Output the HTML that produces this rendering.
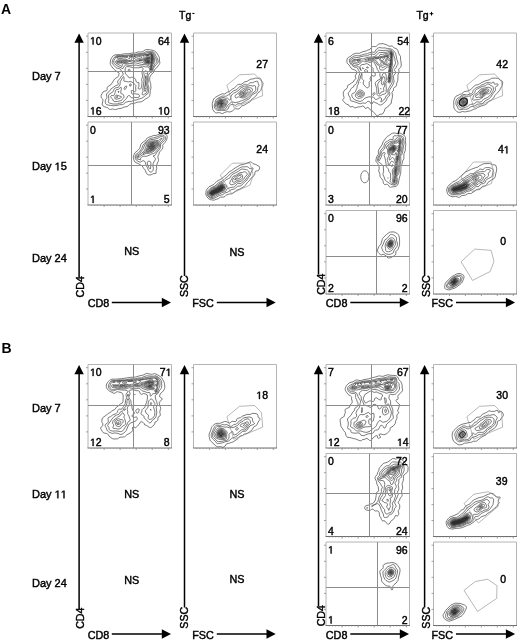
<!DOCTYPE html>
<html><head><meta charset="utf-8"><style>
html,body{margin:0;padding:0;background:#fff;}
svg{display:block;font-kerning:none;}
.w{will-change:transform;}
</style></head><body><div class="w">
<svg width="520" height="642" viewBox="0 0 520 642" font-family='"Liberation Sans", sans-serif' fill="#000">
<rect width="520" height="642" fill="#fff"/>
<text x="1.00" y="13.80" font-size="14" text-anchor="start" font-weight="bold"  >A</text>
<text x="1.50" y="352.50" font-size="14" text-anchor="start" font-weight="bold"  >B</text>
<text x="179.0" y="18.7" font-size="10.5" stroke="#000" stroke-width="0.42">Tg</text><rect x="192.4" y="12.9" width="2" height="1.1" fill="#000"/>
<text x="416.4" y="18.7" font-size="10.5" stroke="#000" stroke-width="0.42">Tg</text><path d="M429.7,13.7H433.3M431.5,11.9V15.5" stroke="#000" stroke-width="1"/>
<path d="M79.1,41.5V277.5" stroke="#000" stroke-width="1.5" fill="none"/>
<path d="M79.1,33.5L74.39999999999999,42.7L83.8,42.7Z" fill="#000"/>
<path d="M184.5,41.5V276" stroke="#000" stroke-width="1.5" fill="none"/>
<path d="M184.5,33.5L179.8,42.7L189.2,42.7Z" fill="#000"/>
<path d="M318.5,41.5V274.5" stroke="#000" stroke-width="1.5" fill="none"/>
<path d="M318.5,33.5L313.8,42.7L323.2,42.7Z" fill="#000"/>
<path d="M424.6,41.5V276" stroke="#000" stroke-width="1.5" fill="none"/>
<path d="M424.6,33.5L419.90000000000003,42.7L429.3,42.7Z" fill="#000"/>
<text x="0" y="0" font-size="10.6" text-anchor="middle" stroke="#000" stroke-width="0.42" transform="translate(84.1,286.8) rotate(-90)">CD4</text>
<text x="0" y="0" font-size="10.6" text-anchor="middle" stroke="#000" stroke-width="0.42" transform="translate(188.4,286.2) rotate(-90)">SSC</text>
<text x="0" y="0" font-size="10.6" text-anchor="middle" stroke="#000" stroke-width="0.42" transform="translate(325.1,284.2) rotate(-90)">CD4</text>
<text x="0" y="0" font-size="10.6" text-anchor="middle" stroke="#000" stroke-width="0.42" transform="translate(429.9,286.2) rotate(-90)">SSC</text>
<text x="87.70" y="307.30" font-size="10.8" text-anchor="start" font-weight="normal" stroke="#000" stroke-width="0.42" >CD8</text>
<path d="M111.8,302.5H163" stroke="#000" stroke-width="1.5" fill="none"/>
<path d="M171,302.5L161.8,297.8L161.8,307.2Z" fill="#000"/>
<text x="192.20" y="307.30" font-size="10.8" text-anchor="start" font-weight="normal" stroke="#000" stroke-width="0.42" >FSC</text>
<path d="M216.8,302.5H267.7" stroke="#000" stroke-width="1.5" fill="none"/>
<path d="M275.7,302.5L266.5,297.8L266.5,307.2Z" fill="#000"/>
<text x="325.80" y="307.30" font-size="10.8" text-anchor="start" font-weight="normal" stroke="#000" stroke-width="0.42" >CD8</text>
<path d="M350.3,302.5H401" stroke="#000" stroke-width="1.5" fill="none"/>
<path d="M409,302.5L399.8,297.8L399.8,307.2Z" fill="#000"/>
<text x="431.40" y="307.30" font-size="10.8" text-anchor="start" font-weight="normal" stroke="#000" stroke-width="0.42" >FSC</text>
<path d="M456,302.5H507.1" stroke="#000" stroke-width="1.5" fill="none"/>
<path d="M515.1,302.5L505.90000000000003,297.8L505.90000000000003,307.2Z" fill="#000"/>
<text x="32.00" y="80.00" font-size="11" text-anchor="start" font-weight="normal" stroke="#000" stroke-width="0.42" >Day 7</text>
<text x="32.00" y="170.30" font-size="11" stroke="#000" stroke-width="0.42">Day </text>
<use href="#one" transform="translate(54.62,170.30) scale(0.005371,-0.005371)" stroke="#000" stroke-width="78.2"/>
<text x="60.74" y="170.30" font-size="11" stroke="#000" stroke-width="0.42">5</text>
<text x="32.00" y="262.00" font-size="11" text-anchor="start" font-weight="normal" stroke="#000" stroke-width="0.42" >Day 24</text>
<path d="M88,116.5V33H171.5V116.5" fill="none" stroke="#b4b4b4" stroke-width="1"/>
<path d="M87.5,116.5H172.0" fill="none" stroke="#6e6e6e" stroke-width="1"/>
<path d="M86,100.4h2 M104.1,116.5v2 M86,84.4h2 M120.1,116.5v2 M86,68.3h2 M136.2,116.5v2 M86,52.3h2 M152.2,116.5v2 M86,36.2h2 M168.3,116.5v2 M91.2,116.5v1 M94.4,116.5v1 M97.6,116.5v1 M100.8,116.5v1 M104.1,116.5v1 M107.3,116.5v1 M110.5,116.5v1 M113.7,116.5v1 M116.9,116.5v1 M120.1,116.5v1 M123.3,116.5v1 M126.5,116.5v1 M129.8,116.5v1 M133.0,116.5v1 M136.2,116.5v1 M139.4,116.5v1 M142.6,116.5v1 M145.8,116.5v1 M149.0,116.5v1 M152.2,116.5v1 M155.4,116.5v1 M158.7,116.5v1 M161.9,116.5v1 M165.1,116.5v1 M168.3,116.5v1" stroke="#8a8a8a" stroke-width="0.8" fill="none"/>
<path d="M115.8,109.5 114.5,109.6 112.5,108.9 110.5,109.5 109.8,109.4 109.2,109.2 107.5,107.6 105.0,107.0 103.0,105.9 102.3,105.0 102.2,104.0 102.9,100.8 103.0,99.8 102.8,99.2 101.5,98.0 101.1,96.5 101.2,95.2 103.0,92.0 104.0,91.3 106.0,90.9 106.9,90.5 107.2,89.8 107.0,88.0 107.5,87.0 108.3,86.2 110.9,84.8 114.5,79.1 115.2,78.5 117.7,77.2 118.2,76.5 118.6,75.8 119.1,73.5 118.9,72.8 117.0,71.7 113.7,69.0 110.9,65.5 110.4,64.5 110.2,62.8 110.6,60.0 111.1,58.8 112.2,57.0 113.5,55.5 115.2,54.9 117.8,54.6 120.5,54.6 123.8,53.9 129.0,53.7 132.0,53.0 134.8,53.1 138.2,51.9 141.0,52.0 142.0,51.9 143.2,51.4 145.2,49.9 146.5,49.5 149.5,49.7 153.5,50.5 154.8,51.1 155.9,52.0 157.2,53.5 159.2,57.2 159.4,58.0 159.4,60.0 159.9,62.8 159.6,63.8 159.0,64.7 156.5,68.0 154.7,69.5 153.7,72.2 153.0,73.1 151.2,74.5 149.9,77.0 149.7,78.2 149.7,79.8 150.0,81.6 150.6,83.5 151.0,87.8 150.2,90.8 150.1,93.5 149.6,95.8 149.2,96.6 148.5,97.3 145.2,99.1 143.0,100.9 141.5,101.7 140.5,101.9 138.2,102.0 133.8,103.4 130.9,103.8 129.9,104.2 128.0,106.1 127.2,106.5 124.0,107.1 121.5,108.3 118.8,108.6 115.8,109.5ZM129.5,71.0 129.9,70.5 129.9,69.8 129.5,69.2 128.8,69.1 128.2,69.8 128.2,70.6 128.8,71.1 129.5,71.0Z" fill="none" stroke="#2a2a2a" stroke-width="0.62" stroke-linejoin="round"/>
<path d="M113.8,105.8 110.2,105.4 107.2,104.8 106.4,104.5 105.9,104.0 105.3,102.5 105.2,101.0 105.5,99.9 106.6,98.2 106.9,97.5 106.9,96.8 106.5,95.0 106.6,94.0 107.2,93.1 109.2,91.5 111.0,88.9 115.8,85.6 117.7,85.0 118.2,84.6 118.4,83.8 117.5,82.2 117.8,81.0 119.9,78.5 121.0,76.5 122.8,75.2 123.2,74.2 122.9,73.0 121.5,71.2 120.5,69.3 119.8,68.8 116.8,68.0 115.8,67.5 112.5,63.8 112.2,62.5 112.6,60.2 113.1,59.2 114.7,57.0 115.5,56.2 116.8,55.7 120.8,55.7 125.8,55.2 128.8,55.1 132.0,54.4 135.0,54.5 138.2,53.6 141.8,53.5 144.2,52.8 146.2,51.6 147.2,51.2 148.2,51.3 150.5,51.7 152.8,51.7 153.9,52.2 154.7,53.2 155.8,55.9 157.1,58.0 158.1,60.8 158.3,62.0 157.7,63.2 155.6,65.0 153.5,68.3 153.1,69.2 152.9,70.8 152.6,71.5 151.8,72.1 150.2,72.6 149.8,72.9 149.0,74.0 148.3,75.5 148.1,76.8 148.3,81.0 147.7,84.0 148.0,85.0 148.8,87.0 148.9,88.0 148.5,90.5 148.4,92.5 148.0,93.5 145.9,95.0 144.2,96.7 141.5,98.3 139.0,98.9 136.5,100.0 134.0,100.2 131.5,101.4 129.0,101.3 126.0,102.2 125.2,102.6 123.5,104.2 122.5,104.6 119.8,104.7 117.2,105.3 113.8,105.8ZM140.3,89.0 141.0,88.3 141.8,86.0 141.8,83.8 142.1,81.8 141.5,79.5 142.5,77.0 142.6,76.2 141.9,72.0 142.1,71.2 143.0,69.5 143.1,68.8 142.9,68.0 142.3,67.5 141.8,67.4 138.2,67.8 133.2,67.8 130.0,66.8 127.2,66.5 126.3,66.8 125.5,67.8 125.1,69.0 125.3,71.2 125.3,73.0 125.5,73.8 127.7,76.0 128.5,77.3 129.0,77.6 130.2,77.9 131.5,77.2 132.2,77.1 134.0,77.8 135.0,78.5 135.5,79.2 136.0,81.2 136.5,82.1 137.5,82.7 138.8,82.5 139.0,82.7 138.9,84.0 139.0,86.0 138.2,87.8 138.1,88.2 138.4,88.8 138.9,89.0 140.3,89.0Z" fill="none" stroke="#2a2a2a" stroke-width="0.62" stroke-linejoin="round"/>
<path d="M151.5,71.3 150.5,71.4 149.9,71.0 149.6,70.5 149.6,69.2 149.4,68.2 148.8,67.5 148.0,67.0 147.0,66.8 145.2,66.9 142.8,66.1 139.8,65.9 136.2,65.1 129.8,65.4 126.8,65.0 125.2,65.2 124.5,65.8 122.5,68.9 121.7,68.0 118.0,66.4 114.5,63.9 114.0,63.2 113.7,62.5 113.7,61.0 114.2,60.0 115.2,58.5 115.8,57.0 116.8,56.4 128.8,55.9 132.0,55.2 134.8,55.2 137.8,54.6 141.0,54.5 144.9,53.5 147.5,52.5 152.5,52.6 153.3,53.0 153.8,53.8 154.4,56.0 156.0,58.8 156.6,60.5 156.8,61.5 156.5,62.2 155.0,63.7 154.1,65.0 152.6,68.5 152.1,70.8 151.5,71.3ZM129.5,58.8 129.5,58.2 129.0,58.1 128.7,58.2 128.8,58.8 129.2,58.9 129.5,58.8ZM122.8,69.8 122.8,69.8ZM143.5,94.8 143.0,94.9 142.5,94.8 142.1,94.0 142.2,93.2 143.1,91.5 142.7,89.0 143.4,86.0 143.5,83.8 143.9,81.5 143.8,79.0 144.3,75.8 143.8,72.5 144.0,71.9 144.5,71.3 145.2,70.9 145.8,70.9 147.0,71.5 147.7,72.5 147.1,75.8 147.3,80.5 146.6,84.0 146.7,85.0 147.5,87.0 147.6,88.5 146.7,92.8 143.5,94.8ZM117.2,104.0 113.0,104.0 109.8,103.2 108.5,102.5 108.2,101.8 108.8,100.0 108.5,95.2 109.0,94.4 113.0,91.7 113.5,90.8 114.1,89.0 114.8,88.3 115.8,87.8 118.0,87.5 119.0,86.6 120.0,84.8 120.2,82.0 120.4,81.2 121.3,80.0 122.2,77.9 123.8,76.6 124.1,78.2 123.8,80.8 124.1,81.2 126.2,81.4 128.2,82.0 130.0,81.5 131.2,81.7 133.5,83.0 135.2,84.6 135.9,85.5 136.0,86.0 135.6,87.5 135.9,90.0 135.7,91.2 135.2,91.7 134.8,91.8 132.2,90.5 131.5,90.5 131.2,90.9 131.3,91.8 131.5,93.0 131.9,93.8 132.8,94.2 135.0,93.7 136.8,94.1 138.5,94.2 139.4,95.2 139.6,96.2 139.0,97.0 137.2,97.6 136.0,97.6 134.0,97.2 132.2,97.9 131.8,97.9 131.0,97.5 129.8,95.8 129.2,95.5 128.5,95.6 127.6,96.2 126.5,98.5 124.5,100.2 122.8,102.4 122.0,102.8 119.8,103.1 117.2,104.0ZM125.4,89.2 125.8,88.8 126.7,86.5 126.5,86.0 126.0,86.0 125.2,86.5 124.2,88.0 124.0,88.8 124.2,89.3 124.8,89.5 125.4,89.2Z" fill="none" stroke="#2a2a2a" stroke-width="0.62" stroke-linejoin="round"/>
<path d="M151.2,70.5 150.8,70.5 150.5,70.2 150.3,68.0 149.5,66.5 148.2,65.6 146.2,64.8 141.0,64.3 135.5,62.8 132.8,63.4 127.2,63.7 123.2,63.7 122.6,64.0 122.2,64.5 122.4,65.8 122.0,66.5 116.2,63.4 115.4,62.5 115.3,61.5 115.8,60.9 116.5,60.4 119.2,59.3 121.2,59.0 123.8,59.4 126.0,59.2 128.5,60.4 129.8,60.5 131.2,59.8 131.7,59.2 131.9,58.5 131.7,58.0 131.1,57.5 129.1,56.8 132.2,55.9 135.0,56.0 137.8,55.6 140.8,55.5 146.5,54.1 150.8,53.4 152.0,53.4 152.7,53.8 153.0,54.2 153.3,56.0 154.6,58.8 154.9,60.5 154.6,61.8 152.6,65.0 151.7,68.5 151.5,70.2 151.2,70.5ZM136.7,59.2 138.5,58.5 140.9,58.0 141.5,57.5 141.7,56.8 141.2,56.4 140.5,56.3 135.4,57.5 134.6,58.2 134.9,59.0 135.8,59.4 136.7,59.2ZM119.0,58.3 116.8,58.1 116.5,57.5 117.0,57.0 126.0,56.6 127.7,56.8 128.0,57.0 125.5,57.8 123.8,57.8 121.8,58.2 119.0,58.3ZM146.0,73.6 146.0,72.9 146.0,73.6ZM145.0,91.5 144.3,89.8 144.2,88.8 145.2,84.2 145.2,79.5 145.8,75.8 146.0,76.6 146.2,79.8 145.7,82.8 145.5,84.5 146.1,87.2 146.2,88.5 145.9,89.8 145.0,91.5ZM130.5,86.1 129.8,86.0 129.6,84.8 129.8,84.1 130.5,83.9 131.0,84.1 131.3,84.8 131.0,85.8 130.5,86.1ZM117.5,101.5 114.5,101.6 113.8,101.4 113.4,101.0 112.6,99.0 110.9,97.5 110.7,97.0 110.7,96.2 111.0,95.8 111.5,95.4 112.2,95.4 113.2,95.7 113.9,95.5 114.4,94.5 115.1,92.5 115.5,90.8 115.9,90.0 116.5,89.6 118.2,89.4 119.0,89.1 119.6,88.5 120.5,87.1 120.8,87.1 121.2,87.6 121.4,88.5 120.8,91.5 120.8,93.2 121.2,93.7 122.8,94.1 123.2,94.5 123.9,96.0 124.0,97.2 121.4,100.5 117.5,101.5Z" fill="none" stroke="#2a2a2a" stroke-width="0.62" stroke-linejoin="round"/>
<path d="M151.0,70.1 150.5,66.8 150.0,65.5 149.2,64.6 146.8,63.8 143.7,63.2 141.8,62.1 140.0,62.0 138.0,61.7 136.3,61.0 136.2,60.8 139.0,59.7 141.2,59.2 142.0,58.7 143.5,57.2 144.0,56.5 143.5,56.0 142.6,55.8 142.7,55.5 151.0,53.9 152.2,54.1 152.5,54.5 152.7,56.2 153.9,59.0 154.0,60.2 153.6,61.8 152.0,64.6 151.0,70.1ZM137.2,56.3 136.9,56.2 137.2,56.3ZM133.8,57.0 132.5,57.2 131.0,56.8 132.5,56.3 135.0,56.4 135.4,56.5 133.8,57.0ZM117.5,57.5 117.2,57.5 117.5,57.5ZM122.0,63.0 120.8,63.2 118.5,63.2 117.0,62.8 116.5,62.4 116.4,61.8 116.8,61.4 120.5,60.3 121.5,60.3 123.8,60.6 126.2,60.5 129.2,61.2 133.2,60.3 135.6,61.0 133.0,62.1 132.0,62.1 129.5,61.5 126.8,62.7 123.8,62.7 122.0,63.0ZM145.2,88.7 145.2,88.0 145.2,88.7ZM118.8,92.3 118.0,92.1 117.8,91.8 118.1,91.5 119.0,91.5 119.1,92.0 118.8,92.3ZM116.5,99.3 115.2,98.9 114.7,98.0 115.1,96.5 116.0,95.2 116.8,95.2 121.2,96.5 121.5,96.7 121.4,97.2 120.6,98.0 116.5,99.3Z" fill="none" stroke="#2a2a2a" stroke-width="0.62" stroke-linejoin="round"/>
<path d="M151.0,67.1 150.5,64.5 149.9,63.8 145.0,62.6 144.2,62.2 143.0,60.9 142.2,60.5 138.7,60.5 142.0,59.8 146.8,56.1 147.5,55.8 149.2,55.7 149.4,55.5 149.0,55.2 147.2,55.4 145.5,55.2 148.8,54.9 151.2,54.2 152.0,54.3 152.2,54.5 152.2,56.0 153.2,58.5 153.3,60.0 153.0,61.5 151.7,64.0 151.2,66.8 151.0,67.1ZM122.0,62.3 120.5,62.4 117.2,62.0 120.8,61.1 123.8,61.3 126.2,61.1 127.4,61.5 126.2,62.0 123.8,62.0 122.0,62.3ZM117.5,97.5 116.5,97.7 116.2,97.5 116.2,97.0 116.8,96.5 117.6,96.5 118.0,97.0 117.5,97.5Z" fill="none" stroke="#2a2a2a" stroke-width="0.62" stroke-linejoin="round"/>
<path d="M151.2,64.5 150.7,63.5 150.2,63.1 147.5,62.8 145.8,62.3 144.8,61.7 143.1,60.0 144.0,59.1 147.0,57.0 147.8,56.8 149.5,56.8 150.2,56.5 150.8,55.8 150.8,54.8 151.5,54.5 151.8,54.8 151.8,56.0 152.6,58.2 152.8,59.5 152.6,61.0 151.2,64.5ZM121.8,61.8 120.7,61.8 121.8,61.8Z" fill="none" stroke="#2a2a2a" stroke-width="0.62" stroke-linejoin="round"/>
<path d="M151.2,63.5 150.8,62.7 150.2,62.4 148.0,62.5 146.0,61.9 145.1,61.2 144.0,59.8 147.2,57.6 148.0,57.4 149.5,57.5 150.3,57.2 151.3,56.0 151.5,55.0 151.6,56.0 152.3,58.5 152.4,59.5 152.1,61.0 151.2,63.5Z" fill="none" stroke="#2a2a2a" stroke-width="0.62" stroke-linejoin="round"/>
<path d="M151.2,62.7 150.9,62.0 150.5,61.7 148.5,62.2 146.8,61.9 145.6,61.0 144.8,59.8 147.5,58.1 150.2,57.9 151.5,56.8 152.1,59.2 151.2,62.7Z" fill="none" stroke="#2a2a2a" stroke-width="0.62" stroke-linejoin="round"/>
<path d="M148.8,61.8 147.5,61.8 146.5,61.3 145.9,60.5 145.6,59.8 145.7,59.5 147.8,58.5 149.8,58.5 150.5,58.4 151.5,57.5 151.8,59.2 151.2,61.7 151.0,61.1 150.5,60.7 148.8,61.8Z" fill="none" stroke="#2a2a2a" stroke-width="0.62" stroke-linejoin="round"/>
<path d="M151.2,60.4 150.8,59.2 151.2,58.3 151.5,58.4 151.6,59.0 151.2,60.4ZM148.5,61.5 147.5,61.5 146.8,61.1 146.4,60.5 146.3,59.5 148.0,58.8 150.2,59.0 149.4,61.0 148.5,61.5Z" fill="none" stroke="#2a2a2a" stroke-width="0.62" stroke-linejoin="round"/>
<path d="M148.2,61.3 147.5,61.2 146.9,60.5 147.0,59.5 147.5,59.2 148.5,59.1 149.0,59.4 149.2,60.2 149.1,60.8 148.2,61.3Z" fill="none" stroke="#2a2a2a" stroke-width="0.62" stroke-linejoin="round"/>
<path d="M148.2,61.0 147.7,61.0 147.3,60.5 147.4,60.0 147.8,59.7 148.2,59.6 148.7,60.2 148.6,60.8 148.2,61.0Z" fill="none" stroke="#2a2a2a" stroke-width="0.62" stroke-linejoin="round"/>
<path d="M148.0,60.8 147.6,60.5 148.0,60.1 148.4,60.5 148.0,60.8Z" fill="none" stroke="#2a2a2a" stroke-width="0.62" stroke-linejoin="round"/>
<path d="M133.5,33V116.5M88,71.5H171.5" stroke="#8c8c8c" stroke-width="1" fill="none"/>
<use href="#one" transform="translate(90.00,44.50) scale(0.005127,-0.005127)" stroke="#000" stroke-width="81.9"/>
<text x="95.84" y="44.50" font-size="10.5" stroke="#000" stroke-width="0.42">0</text>
<text x="169.70" y="44.50" font-size="10.5" text-anchor="end" font-weight="normal" stroke="#000" stroke-width="0.42" >64</text>
<use href="#one" transform="translate(90.00,114.50) scale(0.005127,-0.005127)" stroke="#000" stroke-width="81.9"/>
<text x="95.84" y="114.50" font-size="10.5" stroke="#000" stroke-width="0.42">6</text>
<use href="#one" transform="translate(158.02,114.50) scale(0.005127,-0.005127)" stroke="#000" stroke-width="81.9"/>
<text x="163.86" y="114.50" font-size="10.5" stroke="#000" stroke-width="0.42">0</text>
<path d="M193.5,116.5V33H276.5V116.5" fill="none" stroke="#b4b4b4" stroke-width="1"/>
<path d="M193.0,116.5H277.0" fill="none" stroke="#6e6e6e" stroke-width="1"/>
<path d="M191.5,100.4h2 M209.5,116.5v2 M191.5,84.4h2 M225.4,116.5v2 M191.5,68.3h2 M241.4,116.5v2 M191.5,52.3h2 M257.3,116.5v2 M191.5,36.2h2 M273.3,116.5v2 M196.7,116.5v1 M199.9,116.5v1 M203.1,116.5v1 M206.3,116.5v1 M209.5,116.5v1 M212.7,116.5v1 M215.8,116.5v1 M219.0,116.5v1 M222.2,116.5v1 M225.4,116.5v1 M228.6,116.5v1 M231.8,116.5v1 M235.0,116.5v1 M238.2,116.5v1 M241.4,116.5v1 M244.6,116.5v1 M247.8,116.5v1 M251.0,116.5v1 M254.2,116.5v1 M257.3,116.5v1 M260.5,116.5v1 M263.7,116.5v1 M266.9,116.5v1 M270.1,116.5v1 M273.3,116.5v1" stroke="#8a8a8a" stroke-width="0.8" fill="none"/>
<path d="M222.5,113.6 221.8,113.5 219.5,112.6 216.8,112.9 215.5,112.7 214.5,112.0 212.9,109.8 212.6,108.8 212.2,103.8 213.6,99.2 214.5,98.0 215.8,97.1 221.2,94.1 222.5,93.8 224.2,94.0 225.0,93.8 227.0,92.3 229.8,91.2 232.1,89.2 234.3,88.0 237.8,84.6 238.8,84.3 241.0,84.3 241.8,84.1 244.5,81.9 247.0,81.4 250.2,79.3 253.0,78.9 255.5,78.1 257.2,78.3 259.5,78.1 260.5,78.6 261.6,81.0 262.7,82.5 263.0,83.5 262.7,85.5 261.4,88.2 261.0,90.2 260.1,91.2 257.5,93.3 255.8,96.1 253.2,98.2 251.5,99.4 250.5,101.2 249.8,102.0 247.0,103.4 244.8,104.9 241.8,106.0 240.9,106.8 239.8,108.3 239.0,108.8 238.0,109.0 235.2,108.7 234.5,109.1 232.8,110.7 231.0,111.7 229.8,112.0 227.8,111.7 226.5,111.8 224.5,112.5 222.5,113.6Z" fill="none" stroke="#2a2a2a" stroke-width="0.62" stroke-linejoin="round"/>
<path d="M224.8,110.5 222.0,110.2 219.8,110.5 217.8,110.4 216.2,109.7 214.8,108.4 214.2,107.0 214.3,105.0 215.1,102.8 215.5,100.5 216.5,99.1 217.5,98.5 221.8,96.2 223.0,96.0 225.2,96.3 226.4,96.0 230.0,93.9 233.2,91.0 237.0,89.5 238.8,87.3 239.4,86.8 242.2,85.7 244.5,84.3 245.2,84.2 246.8,84.9 247.5,84.9 248.2,84.5 249.5,83.1 250.2,82.7 252.5,82.7 254.5,81.8 256.2,81.3 257.2,81.2 257.8,81.5 258.3,83.8 259.1,85.2 257.8,87.5 257.7,90.0 257.5,90.8 256.6,92.0 255.5,93.1 252.8,94.4 252.0,95.0 248.8,99.2 246.5,100.2 244.5,101.6 241.2,103.5 240.2,103.7 237.8,103.8 237.0,104.2 236.2,105.0 235.8,105.3 234.8,105.2 232.2,104.4 230.8,104.8 229.2,106.0 228.8,106.8 228.4,108.2 227.9,109.0 226.4,110.0 224.8,110.5Z" fill="none" stroke="#2a2a2a" stroke-width="0.62" stroke-linejoin="round"/>
<path d="M224.2,109.3 222.0,109.1 219.8,109.4 218.5,109.3 217.0,108.7 215.8,107.5 215.4,106.2 215.6,104.5 216.6,101.2 217.2,100.2 218.0,99.4 219.0,98.8 221.8,97.7 223.0,97.4 225.0,98.1 227.5,98.2 229.2,99.8 230.0,100.0 230.5,99.7 230.8,99.0 230.9,97.0 231.1,96.0 232.4,94.2 233.5,93.3 236.5,91.8 238.2,90.7 239.1,90.0 240.2,88.4 241.0,87.8 244.5,86.2 245.2,86.1 247.8,86.3 250.2,85.4 252.5,86.1 254.5,85.5 255.2,85.9 255.6,87.0 255.8,89.2 255.7,90.2 255.4,91.0 254.5,91.9 251.8,93.6 248.0,97.8 244.0,99.9 241.2,100.8 239.0,101.9 235.2,102.6 232.5,102.0 231.5,102.1 227.8,105.2 225.8,108.5 225.0,109.1 224.2,109.3Z" fill="none" stroke="#2a2a2a" stroke-width="0.62" stroke-linejoin="round"/>
<path d="M243.5,98.0 242.2,97.9 238.5,96.8 237.8,97.0 236.8,97.8 236.0,98.0 235.5,97.6 235.1,96.8 235.0,96.0 235.3,95.2 235.8,94.8 237.5,93.9 239.8,91.5 242.4,89.2 244.0,88.4 245.2,87.9 246.5,87.8 250.5,87.8 251.8,88.3 252.4,89.2 252.5,90.2 252.0,91.2 250.8,92.8 246.8,96.5 244.8,97.6 243.5,98.0ZM220.0,108.3 218.8,108.2 217.8,107.8 217.2,107.2 216.7,106.2 216.7,105.0 217.2,102.5 218.0,100.7 219.5,99.6 222.2,99.0 226.2,99.7 227.0,100.1 227.7,101.0 227.8,102.2 225.0,107.2 224.5,107.6 223.8,107.9 221.8,107.9 220.0,108.3Z" fill="none" stroke="#2a2a2a" stroke-width="0.62" stroke-linejoin="round"/>
<path d="M243.2,96.8 242.2,96.8 241.0,96.4 240.0,95.9 239.2,95.2 239.0,94.8 239.1,94.0 240.0,92.5 241.0,91.8 242.8,91.1 244.3,89.8 245.8,89.1 247.2,89.0 250.2,89.8 250.5,90.2 250.5,90.8 249.7,92.2 247.8,93.6 246.0,95.6 244.5,96.4 243.2,96.8ZM219.5,107.5 218.8,107.4 218.1,107.0 217.7,106.5 217.5,105.8 217.8,102.5 218.2,101.5 218.8,100.9 220.0,100.1 222.0,99.8 224.8,100.4 226.1,101.0 226.4,101.5 226.4,102.2 225.2,105.2 224.5,106.3 223.5,106.9 219.5,107.5Z" fill="none" stroke="#2a2a2a" stroke-width="0.62" stroke-linejoin="round"/>
<path d="M242.8,96.0 241.3,95.8 240.4,95.0 240.2,94.2 240.6,93.2 241.5,92.6 243.8,91.9 245.8,90.2 246.8,90.1 247.7,90.5 248.0,91.0 247.9,91.8 245.9,94.2 244.2,95.5 242.8,96.0ZM220.0,106.8 218.8,106.5 218.3,106.0 218.1,105.5 218.2,103.0 218.8,101.5 220.0,100.7 221.5,100.4 223.2,100.7 224.8,101.4 225.1,101.8 225.1,102.5 224.7,104.5 224.2,105.5 223.2,106.1 220.0,106.8Z" fill="none" stroke="#2a2a2a" stroke-width="0.62" stroke-linejoin="round"/>
<path d="M242.8,95.3 242.0,95.2 241.5,94.9 241.3,94.2 241.5,93.7 245.8,91.7 246.2,91.8 246.0,92.5 244.9,94.0 243.8,94.9 242.8,95.3ZM220.8,106.0 219.5,106.1 218.9,105.5 218.6,103.5 219.0,102.0 219.8,101.2 221.0,100.9 222.2,101.0 223.5,101.5 224.0,102.0 224.2,102.5 224.1,103.8 223.8,104.8 223.0,105.5 220.8,106.0Z" fill="none" stroke="#2a2a2a" stroke-width="0.62" stroke-linejoin="round"/>
<path d="M243.2,94.3 242.8,94.3 242.8,94.0 243.8,93.4 244.3,93.2 244.1,93.8 243.2,94.3ZM220.5,105.5 219.8,105.4 219.3,104.8 219.1,103.5 219.3,102.5 219.8,101.8 220.5,101.4 221.5,101.3 222.5,101.6 223.1,102.0 223.4,102.5 223.5,103.5 223.3,104.2 222.5,105.0 220.5,105.5Z" fill="none" stroke="#2a2a2a" stroke-width="0.62" stroke-linejoin="round"/>
<path d="M221.0,105.0 220.2,104.9 219.8,104.5 219.5,103.8 219.6,103.0 220.2,102.0 221.0,101.7 221.8,101.8 222.3,102.0 222.8,102.5 222.9,103.8 222.2,104.6 221.0,105.0Z" fill="none" stroke="#2a2a2a" stroke-width="0.62" stroke-linejoin="round"/>
<path d="M221.5,104.6 220.5,104.5 220.0,103.8 220.1,102.8 221.0,102.1 222.0,102.3 222.5,103.0 222.4,104.0 221.5,104.6Z" fill="none" stroke="#2a2a2a" stroke-width="0.62" stroke-linejoin="round"/>
<path d="M221.5,104.3 220.8,104.2 220.3,103.5 220.6,102.8 221.2,102.5 222.0,102.7 222.3,103.2 222.0,104.0 221.5,104.3Z" fill="none" stroke="#2a2a2a" stroke-width="0.62" stroke-linejoin="round"/>
<path d="M221.5,104.0 221.0,104.0 220.7,103.5 220.9,103.0 221.2,102.8 221.8,102.9 222.0,103.2 221.9,103.8 221.5,104.0Z" fill="none" stroke="#2a2a2a" stroke-width="0.62" stroke-linejoin="round"/>
<path d="M221.5,103.8 221.2,103.8 221.1,103.5 221.5,103.1 221.8,103.5 221.5,103.8Z" fill="none" stroke="#2a2a2a" stroke-width="0.62" stroke-linejoin="round"/>
<path d="M221.5,103.6 221.4,103.5 221.5,103.4 221.5,103.6Z" fill="none" stroke="#2a2a2a" stroke-width="0.62" stroke-linejoin="round"/>
<path d="M226.90,85.20 L239.60,74.80 L254.60,74.00 L261.50,81.20 L262.70,95.60 L233.80,107.70Z" fill="none" stroke="#888" stroke-width="0.6" stroke-linejoin="round"/>
<text x="268.00" y="67.50" font-size="10.5" text-anchor="end" font-weight="normal" stroke="#000" stroke-width="0.42" >27</text>
<path d="M326,116.5V33H409.5V116.5" fill="none" stroke="#b4b4b4" stroke-width="1"/>
<path d="M325.5,116.5H410.0" fill="none" stroke="#6e6e6e" stroke-width="1"/>
<path d="M324,100.4h2 M342.1,116.5v2 M324,84.4h2 M358.1,116.5v2 M324,68.3h2 M374.2,116.5v2 M324,52.3h2 M390.2,116.5v2 M324,36.2h2 M406.3,116.5v2 M329.2,116.5v1 M332.4,116.5v1 M335.6,116.5v1 M338.8,116.5v1 M342.1,116.5v1 M345.3,116.5v1 M348.5,116.5v1 M351.7,116.5v1 M354.9,116.5v1 M358.1,116.5v1 M361.3,116.5v1 M364.5,116.5v1 M367.8,116.5v1 M371.0,116.5v1 M374.2,116.5v1 M377.4,116.5v1 M380.6,116.5v1 M383.8,116.5v1 M387.0,116.5v1 M390.2,116.5v1 M393.4,116.5v1 M396.7,116.5v1 M399.9,116.5v1 M403.1,116.5v1 M406.3,116.5v1" stroke="#8a8a8a" stroke-width="0.8" fill="none"/>
<path d="M377.5,115.8 376.9,115.8 376.5,115.5 373.1,111.5 370.1,109.8 368.8,107.9 368.0,107.4 367.2,107.5 366.0,108.5 365.5,108.5 365.0,108.1 364.0,106.5 362.8,106.0 360.2,106.8 358.0,107.0 355.2,107.8 354.5,107.7 352.8,106.5 352.0,106.5 350.5,107.0 350.0,106.9 349.0,105.2 346.2,103.9 343.6,101.5 342.9,100.5 342.8,99.5 344.0,98.2 344.1,97.8 343.3,94.2 343.2,93.0 343.5,92.0 344.5,90.2 346.8,88.6 347.2,88.0 347.4,87.5 347.4,86.0 347.8,85.4 350.0,84.1 351.8,82.8 353.3,82.0 354.2,80.0 355.8,78.9 356.0,78.0 355.3,77.0 355.2,76.0 356.9,72.8 356.8,71.8 356.2,70.9 354.8,70.0 351.7,68.8 348.8,64.8 347.2,63.2 346.9,62.2 346.9,60.2 347.1,59.0 347.5,58.2 348.5,57.4 350.8,56.2 352.2,54.8 353.2,54.2 356.5,53.2 359.2,53.4 363.0,51.6 366.2,51.0 368.0,50.0 369.8,49.5 371.1,47.8 372.5,46.7 373.5,46.4 375.5,46.6 376.5,46.2 377.3,45.5 378.2,44.3 378.8,44.0 379.8,43.8 383.2,43.7 386.8,44.9 389.0,46.2 392.0,46.0 392.5,46.3 394.2,47.9 396.2,48.6 397.1,49.2 397.8,50.5 398.9,53.8 400.5,56.5 400.5,59.2 400.9,61.0 401.3,65.0 401.1,66.2 400.6,67.2 399.0,68.8 398.7,69.5 399.0,71.8 397.9,75.2 398.0,76.8 397.8,80.5 396.8,83.1 396.4,85.8 395.9,86.5 394.2,87.5 393.8,87.9 393.5,88.5 393.3,90.8 391.9,92.2 392.4,94.8 392.4,97.5 391.8,99.5 391.1,103.5 390.8,104.0 389.2,105.0 387.7,107.0 385.1,108.5 384.3,111.2 382.8,113.7 382.0,114.1 379.8,114.3 378.0,115.6 377.5,115.8Z" fill="none" stroke="#2a2a2a" stroke-width="0.62" stroke-linejoin="round"/>
<path d="M380.2,105.0 379.2,104.8 377.2,103.3 375.8,102.9 374.3,102.0 373.5,101.8 373.0,101.8 372.8,102.0 372.5,103.5 371.8,103.9 371.0,103.8 370.6,103.5 370.1,102.2 369.8,101.8 368.2,101.3 367.5,101.5 366.3,102.8 365.5,103.2 364.8,103.3 362.8,102.9 360.8,103.7 360.0,103.8 353.8,101.5 351.8,101.2 350.9,100.8 350.3,100.0 350.2,97.8 348.6,95.2 348.2,93.2 348.3,92.8 349.8,91.4 350.7,89.2 351.2,88.5 352.2,87.6 353.6,87.0 353.9,85.5 356.0,84.1 356.5,83.5 357.2,81.2 358.7,78.5 358.9,76.0 359.7,73.8 359.8,72.5 357.2,67.7 356.8,67.4 355.0,67.2 354.0,66.9 351.8,65.2 350.8,64.2 349.9,62.8 349.4,61.0 349.3,59.8 349.6,59.0 353.2,56.4 354.2,56.0 356.2,55.6 359.0,55.9 364.5,54.1 367.2,53.8 369.5,52.7 372.5,52.1 374.2,52.4 375.0,51.8 375.8,50.0 376.6,49.0 378.0,48.0 379.5,47.5 382.2,48.0 385.2,47.9 387.5,48.6 390.2,48.8 391.5,49.2 392.8,50.0 395.0,52.2 395.6,53.2 396.8,59.2 397.8,62.2 398.0,63.5 397.8,64.5 396.7,66.0 396.0,67.7 394.4,69.5 394.5,70.2 395.5,71.8 395.6,72.5 395.2,73.8 393.8,75.5 393.5,76.2 393.6,78.8 394.1,81.0 394.1,82.0 392.8,85.0 389.0,90.8 389.0,91.5 389.9,93.8 389.7,95.0 389.0,96.1 387.3,97.8 386.5,100.0 385.8,101.2 382.5,104.2 381.2,104.8 380.2,105.0ZM367.8,68.0 368.4,67.8 368.1,67.2 367.2,66.8 366.8,67.0 366.6,67.5 366.8,67.8 367.8,68.0ZM363.4,68.8 363.2,68.0 362.8,67.7 362.5,67.7 362.5,68.2 362.8,68.7 363.0,68.8 363.4,68.8ZM366.3,72.2 367.5,71.8 367.7,71.0 366.5,69.7 366.0,69.5 365.5,69.5 365.0,69.8 364.6,70.2 364.7,71.2 365.2,72.0 366.3,72.2Z" fill="none" stroke="#2a2a2a" stroke-width="0.62" stroke-linejoin="round"/>
<path d="M381.2,102.1 380.9,102.0 380.8,101.5 381.5,100.0 381.5,98.8 381.3,98.0 380.8,97.7 380.0,97.7 379.0,98.0 376.8,99.4 375.8,99.6 375.1,99.2 374.1,97.8 373.5,97.2 368.8,96.8 364.8,98.2 362.8,100.2 361.0,101.2 360.0,101.5 356.0,100.3 353.8,99.0 353.0,98.3 351.8,96.0 351.8,94.5 352.5,93.5 354.5,92.8 355.5,91.8 355.9,90.2 357.0,88.2 357.2,86.0 358.2,84.2 358.7,81.5 360.1,78.8 360.6,76.0 361.7,74.0 361.8,73.4 362.0,76.0 361.8,78.2 362.2,79.0 363.8,80.5 363.8,81.0 363.2,82.8 363.3,84.0 364.0,85.2 366.5,87.6 367.0,87.9 367.8,87.7 368.5,87.3 369.3,86.2 369.1,82.8 369.4,82.0 370.5,80.5 370.1,78.2 371.0,76.4 371.5,75.7 372.0,75.5 373.8,76.2 374.8,76.0 375.2,75.3 375.4,74.2 375.0,73.1 373.8,72.2 373.2,71.4 373.0,70.2 373.1,68.5 370.7,66.0 367.8,64.0 367.0,63.7 366.2,63.7 364.2,64.4 362.0,64.6 360.8,65.3 360.1,66.2 359.9,67.0 361.1,70.2 361.0,70.4 358.9,67.2 357.9,66.2 356.8,65.8 354.2,65.6 352.0,64.1 351.0,62.5 350.7,60.2 351.0,59.5 351.5,59.0 353.5,57.9 356.0,57.6 358.5,57.5 361.0,56.6 364.8,55.9 367.5,55.7 369.8,54.5 371.0,54.1 372.0,54.0 373.5,54.5 374.2,54.5 375.5,53.6 377.5,51.0 378.5,50.3 379.2,50.2 383.2,50.6 385.2,50.3 387.5,50.3 389.5,49.9 390.5,50.0 392.1,50.8 392.8,51.5 393.2,52.2 393.9,56.0 394.9,58.5 395.0,60.8 395.6,62.8 395.4,63.8 392.8,68.5 392.5,69.5 392.7,72.8 392.1,75.0 392.0,78.5 392.3,81.8 391.9,83.0 389.0,87.8 387.9,90.0 387.7,91.2 388.3,93.2 388.2,94.2 387.8,94.9 386.1,96.0 384.9,98.8 383.1,100.2 381.8,101.8 381.2,102.1ZM361.2,70.8 361.2,70.6 361.2,70.8ZM361.8,71.5 361.8,71.5ZM362.0,72.1 362.0,72.1ZM374.0,95.2 374.7,94.5 375.0,93.8 374.8,92.8 374.2,92.5 373.4,93.0 372.9,94.2 372.9,94.8 373.2,95.3 373.5,95.4 374.0,95.2Z" fill="none" stroke="#2a2a2a" stroke-width="0.62" stroke-linejoin="round"/>
<path d="M380.2,95.8 379.2,96.0 378.5,95.9 377.8,95.5 377.2,94.8 376.9,93.2 376.7,88.5 375.2,83.5 375.5,82.5 376.2,81.6 378.2,80.1 380.0,79.2 380.4,78.8 380.5,77.8 379.9,75.5 379.9,73.5 379.5,72.5 377.4,69.5 376.4,66.5 374.2,62.5 373.8,62.0 373.0,61.6 372.0,61.7 370.5,62.4 369.8,62.5 367.2,61.6 364.5,61.7 363.2,61.0 362.8,60.9 362.2,61.1 360.9,62.8 358.0,64.9 356.2,63.9 353.8,63.6 353.0,63.3 352.2,62.2 352.1,60.8 352.5,59.9 353.5,59.4 356.5,59.5 361.0,58.7 363.0,59.0 366.0,57.8 368.0,57.3 369.8,57.1 372.2,57.0 374.2,56.7 376.0,55.8 378.2,53.2 379.5,52.5 383.0,52.5 386.5,52.2 389.8,51.2 390.8,51.2 391.8,51.6 392.3,52.5 392.9,58.8 392.4,61.5 392.4,65.5 391.2,69.0 391.3,71.5 390.8,74.2 390.9,76.8 390.5,82.0 390.1,82.8 389.5,83.0 388.8,82.8 387.5,81.7 387.0,81.8 386.2,82.5 385.9,83.2 385.8,84.0 386.3,88.0 386.1,92.8 385.8,93.3 384.8,93.9 382.2,94.7 380.2,95.8ZM360.2,82.6 360.2,82.3 360.2,82.6ZM359.5,98.3 358.0,98.3 356.5,97.6 355.5,96.5 355.4,95.2 356.0,93.8 358.0,91.1 359.5,90.1 360.8,90.0 362.2,90.7 363.8,92.0 364.3,93.0 364.3,94.5 363.9,95.8 362.5,97.1 361.2,97.9 359.5,98.3Z" fill="none" stroke="#2a2a2a" stroke-width="0.62" stroke-linejoin="round"/>
<path d="M389.2,82.3 389.0,82.3 388.7,82.0 387.9,79.2 388.2,77.0 388.9,74.2 388.5,71.2 389.2,68.5 388.8,67.2 388.2,66.9 387.4,67.0 383.2,70.0 382.2,70.1 380.8,69.8 380.1,69.5 379.6,69.0 379.5,68.5 379.8,67.0 379.5,66.2 378.8,65.5 377.0,64.4 375.4,61.8 374.2,60.8 373.2,60.4 372.5,60.3 369.8,61.0 367.5,60.3 365.2,60.1 364.6,59.8 369.0,58.2 372.2,58.1 376.2,57.0 378.2,56.9 379.0,56.4 379.8,54.9 380.2,54.5 381.0,54.4 382.5,54.7 384.5,53.8 387.5,53.5 390.2,51.8 391.0,51.8 391.5,52.1 391.9,53.0 392.0,55.5 391.5,65.5 390.6,68.8 390.7,71.5 390.1,74.2 390.2,76.8 389.9,80.0 389.5,82.0 389.2,82.3ZM357.2,63.0 357.0,63.1 356.2,62.4 355.5,62.1 353.5,62.1 353.0,61.4 353.0,61.0 353.3,60.5 353.8,60.3 356.2,60.3 359.5,59.7 360.5,59.8 361.3,60.2 359.8,62.0 357.2,63.0ZM379.8,94.1 379.0,94.0 378.6,93.2 378.6,89.8 377.8,85.9 377.7,84.0 379.2,81.5 380.5,80.5 381.0,79.8 382.3,75.0 382.8,73.9 383.8,73.1 384.8,73.1 385.5,73.6 386.1,75.0 386.3,77.5 386.6,79.8 386.3,80.5 385.1,82.0 384.7,82.8 384.6,86.2 383.4,88.2 383.9,90.0 383.8,91.2 383.2,91.6 381.8,91.9 381.0,92.2 379.8,94.1ZM361.2,96.3 358.5,96.5 357.8,96.2 357.2,95.5 357.1,94.8 357.4,93.8 358.1,92.8 359.0,92.0 360.0,91.7 361.0,91.8 362.2,92.3 363.0,93.1 363.2,94.0 363.0,95.0 362.2,95.8 361.2,96.3Z" fill="none" stroke="#2a2a2a" stroke-width="0.62" stroke-linejoin="round"/>
<path d="M389.0,81.7 388.8,79.8 388.8,77.5 389.4,74.0 389.1,71.5 389.8,68.5 389.5,66.9 388.9,65.8 388.5,65.5 387.5,65.5 385.3,66.2 383.0,67.5 382.2,67.6 381.5,67.1 379.5,64.7 377.9,63.5 376.6,61.2 375.0,59.9 374.0,59.5 372.8,59.2 372.0,59.3 370.0,60.0 367.8,59.5 369.5,58.8 372.2,58.8 376.0,57.8 378.5,57.6 380.8,56.4 382.8,56.5 385.0,55.0 387.5,54.8 388.5,54.4 389.2,53.7 390.1,52.5 390.5,52.3 391.0,52.3 391.4,52.5 391.6,53.0 391.6,55.5 390.9,65.2 390.1,68.5 390.3,71.5 389.7,74.2 389.8,77.0 389.4,80.2 389.0,81.7ZM358.8,61.3 357.8,61.3 356.9,60.8 358.2,60.3 359.7,60.2 359.9,60.5 358.8,61.3ZM354.2,61.1 354.0,61.1 353.9,61.0 354.2,61.1ZM382.8,85.1 382.2,84.9 381.8,84.4 381.2,82.5 381.7,81.0 382.0,79.2 382.5,78.0 383.2,76.9 384.0,76.6 384.8,78.1 385.0,79.8 384.8,80.5 383.4,82.2 383.2,84.5 383.0,85.0 382.8,85.1ZM381.0,89.1 380.6,89.0 380.6,88.8 380.8,88.5 381.0,88.8 381.0,89.1ZM361.2,95.0 360.0,95.2 359.0,95.0 358.5,94.6 358.5,94.0 358.8,93.5 359.5,93.0 360.2,92.8 361.2,93.0 361.9,93.5 362.1,94.0 361.9,94.5 361.2,95.0Z" fill="none" stroke="#2a2a2a" stroke-width="0.62" stroke-linejoin="round"/>
<path d="M390.0,67.3 389.5,64.7 389.0,63.7 387.0,64.5 384.8,64.4 382.5,65.3 381.8,65.3 381.0,64.8 380.7,64.0 381.1,62.2 381.0,61.5 378.5,58.3 378.2,58.3 376.8,59.0 375.3,58.8 375.4,58.5 376.8,58.2 378.5,58.2 380.5,57.3 382.8,57.2 385.5,55.8 389.2,55.2 389.8,54.7 390.5,52.8 391.0,52.6 391.3,53.0 391.3,55.8 390.6,65.2 390.0,67.3ZM389.3,61.0 389.8,60.2 389.9,59.5 389.8,58.8 389.5,58.4 388.5,58.8 388.0,59.5 388.1,60.0 388.5,60.6 389.0,61.1 389.3,61.0ZM389.8,72.6 389.5,71.8 389.8,70.3 390.0,71.2 389.8,72.6ZM389.2,79.2 389.2,77.0 389.2,79.2ZM360.2,94.1 360.0,94.2 359.8,94.0 360.0,93.8 360.2,93.9 360.2,94.1Z" fill="none" stroke="#2a2a2a" stroke-width="0.62" stroke-linejoin="round"/>
<path d="M390.5,58.4 390.2,56.2 390.8,53.0 391.0,52.8 391.1,53.0 391.0,56.0 390.8,58.2 390.5,58.4ZM383.5,63.5 383.0,63.5 382.5,63.0 381.8,61.0 380.4,59.0 380.0,58.0 381.5,57.7 381.8,57.8 382.2,58.1 382.8,58.2 383.4,57.5 385.2,56.5 388.0,56.2 388.8,56.4 389.1,56.8 388.9,57.2 387.5,58.3 386.8,59.5 386.7,60.5 387.1,62.0 387.0,62.8 386.5,63.1 383.5,63.5ZM390.5,61.5 390.5,59.6 390.5,61.5ZM390.2,65.3 390.1,64.2 390.2,62.3 390.2,65.3Z" fill="none" stroke="#2a2a2a" stroke-width="0.62" stroke-linejoin="round"/>
<path d="M384.5,62.5 383.8,62.6 383.2,62.3 382.7,60.5 382.8,60.0 384.2,58.8 384.3,57.5 385.8,56.9 388.0,56.8 388.2,57.0 388.0,57.2 386.9,57.8 386.1,58.8 385.5,60.0 385.2,61.8 384.5,62.5Z" fill="none" stroke="#2a2a2a" stroke-width="0.62" stroke-linejoin="round"/>
<path d="M384.0,62.1 384.0,61.8 384.1,62.0 384.0,62.1Z" fill="none" stroke="#2a2a2a" stroke-width="0.62" stroke-linejoin="round"/>
<path d="M371.5,33V116.5M326,72.5H409.5" stroke="#8c8c8c" stroke-width="1" fill="none"/>
<text x="328.00" y="44.50" font-size="10.5" text-anchor="start" font-weight="normal" stroke="#000" stroke-width="0.42" >6</text>
<text x="409.00" y="44.50" font-size="10.5" text-anchor="end" font-weight="normal" stroke="#000" stroke-width="0.42" >54</text>
<use href="#one" transform="translate(328.00,114.50) scale(0.005127,-0.005127)" stroke="#000" stroke-width="81.9"/>
<text x="333.84" y="114.50" font-size="10.5" stroke="#000" stroke-width="0.42">8</text>
<text x="410.10" y="114.50" font-size="10.5" text-anchor="end" font-weight="normal" stroke="#000" stroke-width="0.42" >22</text>
<path d="M433.5,116.5V33H516.5V116.5" fill="none" stroke="#b4b4b4" stroke-width="1"/>
<path d="M433.0,116.5H517.0" fill="none" stroke="#6e6e6e" stroke-width="1"/>
<path d="M431.5,100.4h2 M449.5,116.5v2 M431.5,84.4h2 M465.4,116.5v2 M431.5,68.3h2 M481.4,116.5v2 M431.5,52.3h2 M497.3,116.5v2 M431.5,36.2h2 M513.3,116.5v2 M436.7,116.5v1 M439.9,116.5v1 M443.1,116.5v1 M446.3,116.5v1 M449.5,116.5v1 M452.7,116.5v1 M455.8,116.5v1 M459.0,116.5v1 M462.2,116.5v1 M465.4,116.5v1 M468.6,116.5v1 M471.8,116.5v1 M475.0,116.5v1 M478.2,116.5v1 M481.4,116.5v1 M484.6,116.5v1 M487.8,116.5v1 M491.0,116.5v1 M494.2,116.5v1 M497.3,116.5v1 M500.5,116.5v1 M503.7,116.5v1 M506.9,116.5v1 M510.1,116.5v1 M513.3,116.5v1" stroke="#8a8a8a" stroke-width="0.8" fill="none"/>
<path d="M460.2,112.3 458.5,112.3 456.8,111.6 454.8,109.5 453.9,108.0 453.7,101.2 455.2,97.2 456.0,96.2 458.0,95.4 459.5,94.4 461.8,93.8 464.2,91.6 467.8,91.0 469.5,90.3 471.2,89.1 474.0,86.3 475.5,85.2 478.5,84.5 482.0,82.4 485.0,81.0 489.5,79.7 491.8,78.2 495.5,78.1 498.0,78.3 498.8,78.7 499.9,80.0 501.7,80.8 502.3,81.2 502.6,82.0 502.7,82.8 502.2,85.5 501.7,86.5 500.5,88.2 499.7,90.2 497.1,93.2 495.0,95.3 493.6,97.8 492.4,99.2 491.0,100.4 488.5,101.6 486.5,104.0 484.2,105.1 481.0,106.0 477.6,107.5 476.0,108.6 473.5,109.4 470.5,110.8 465.5,111.8 464.2,111.8 462.5,111.5 460.2,112.3Z" fill="none" stroke="#2a2a2a" stroke-width="0.62" stroke-linejoin="round"/>
<path d="M460.0,109.8 459.0,109.6 458.3,109.0 457.5,107.0 456.3,105.0 455.9,103.8 455.9,101.8 456.3,100.2 457.2,98.6 459.5,97.2 461.8,95.3 463.0,94.7 464.0,94.4 466.2,94.9 467.2,94.9 471.5,93.5 472.5,92.7 473.4,90.2 474.8,88.7 476.2,87.8 479.5,86.5 481.7,85.0 484.0,84.1 486.5,82.7 488.8,82.6 491.5,83.3 492.0,83.0 492.5,82.2 493.2,82.0 493.8,82.2 494.0,82.5 494.2,83.8 494.5,84.2 495.2,84.2 497.2,83.8 498.0,84.1 498.2,84.8 497.8,85.5 495.8,86.6 495.4,87.0 495.2,87.8 495.5,89.8 495.3,90.5 492.8,93.8 490.8,97.1 489.0,98.8 484.9,101.0 483.0,103.2 481.8,103.6 477.2,104.3 474.8,105.8 470.5,106.9 468.5,108.5 467.0,109.2 465.8,109.3 463.5,109.1 460.0,109.8Z" fill="none" stroke="#2a2a2a" stroke-width="0.62" stroke-linejoin="round"/>
<path d="M462.8,108.1 461.2,108.2 460.2,107.8 457.9,105.0 457.4,103.5 457.6,101.5 458.3,100.0 459.6,98.5 462.0,96.5 463.5,95.9 466.5,96.4 469.5,96.1 470.5,95.8 473.2,94.0 474.7,92.8 475.1,92.0 475.4,90.5 476.2,89.6 482.2,86.4 485.4,85.8 487.5,84.1 488.2,84.0 489.0,84.1 490.8,85.6 492.5,86.2 493.1,86.8 493.3,87.5 493.4,89.0 493.3,90.2 492.9,91.2 490.8,94.7 487.8,97.3 483.5,99.3 482.8,100.0 481.9,101.2 481.2,101.8 479.8,102.1 477.2,101.9 476.5,102.0 474.2,103.8 473.5,104.0 470.5,104.4 469.5,104.9 467.5,106.7 465.0,107.3 462.8,108.1Z" fill="none" stroke="#2a2a2a" stroke-width="0.62" stroke-linejoin="round"/>
<path d="M474.8,100.0 473.2,100.1 472.6,99.5 473.4,96.0 474.8,94.5 477.6,93.0 479.0,90.8 480.9,89.0 482.2,88.4 485.2,87.9 488.2,87.2 490.5,88.0 491.3,88.5 491.5,89.2 491.3,90.2 490.0,92.8 489.3,93.5 488.5,93.8 487.0,93.9 486.2,94.2 485.2,95.0 483.1,97.2 479.5,99.4 478.8,99.6 476.5,99.7 474.8,100.0ZM463.2,106.3 462.2,106.4 461.5,106.2 459.6,104.5 459.0,103.0 459.2,101.2 460.5,99.2 462.2,98.1 464.0,97.8 466.6,98.2 467.2,98.7 467.4,99.2 467.3,101.5 467.6,103.2 467.5,104.0 467.0,104.8 466.2,105.3 463.2,106.3Z" fill="none" stroke="#2a2a2a" stroke-width="0.62" stroke-linejoin="round"/>
<path d="M481.2,97.3 480.2,97.4 478.5,97.1 477.0,97.5 476.0,97.4 475.5,97.0 475.4,96.5 475.4,96.0 475.7,95.5 478.5,94.3 479.0,93.7 480.3,91.2 481.8,89.9 486.5,88.9 487.8,88.9 488.5,89.2 488.8,89.8 488.9,90.2 488.7,91.2 488.2,92.0 484.8,94.0 483.9,94.8 482.6,96.5 481.2,97.3ZM464.8,105.0 463.5,105.2 462.0,104.9 460.8,104.2 460.1,103.2 459.9,102.2 460.2,101.2 460.9,100.0 462.0,99.2 463.0,98.8 464.5,98.9 465.5,99.2 466.1,99.8 466.3,100.8 466.3,103.5 465.8,104.4 464.8,105.0Z" fill="none" stroke="#2a2a2a" stroke-width="0.62" stroke-linejoin="round"/>
<path d="M481.2,96.3 480.8,96.3 480.2,96.0 480.0,95.2 480.5,92.8 481.2,91.4 482.0,90.8 482.8,90.5 486.2,89.8 487.2,90.1 487.5,90.8 487.2,91.5 483.9,94.0 482.0,95.9 481.2,96.3ZM464.0,104.5 463.0,104.4 462.0,104.0 461.2,103.5 460.8,102.8 460.8,101.8 461.2,100.8 461.9,100.0 462.8,99.6 463.8,99.5 464.6,99.8 465.2,100.2 465.5,100.9 465.7,102.5 465.5,103.5 465.0,104.1 464.0,104.5Z" fill="none" stroke="#2a2a2a" stroke-width="0.62" stroke-linejoin="round"/>
<path d="M481.8,94.8 481.2,94.5 481.2,93.5 481.4,92.5 481.9,91.8 483.2,91.2 485.2,91.0 485.8,91.1 485.8,91.5 484.7,92.8 483.0,94.1 481.8,94.8ZM464.2,103.9 463.5,103.9 462.8,103.7 462.0,103.3 461.5,102.8 461.4,102.2 461.5,101.5 462.0,100.8 462.5,100.4 463.2,100.2 464.0,100.2 464.5,100.5 464.9,101.0 465.1,101.8 465.1,102.8 464.8,103.5 464.2,103.9Z" fill="none" stroke="#2a2a2a" stroke-width="0.62" stroke-linejoin="round"/>
<path d="M483.0,93.6 482.5,93.7 482.2,93.5 482.1,93.0 482.4,92.5 483.2,92.0 484.1,92.0 484.3,92.2 484.1,92.8 483.0,93.6ZM464.0,103.3 462.8,103.2 462.1,102.5 462.1,101.5 462.8,100.9 463.8,100.8 464.5,101.5 464.6,102.5 464.4,103.0 464.0,103.3Z" fill="none" stroke="#2a2a2a" stroke-width="0.62" stroke-linejoin="round"/>
<path d="M463.8,102.8 463.0,102.8 462.6,102.5 462.5,101.8 463.0,101.3 463.8,101.3 464.1,101.8 464.1,102.5 463.8,102.8Z" fill="none" stroke="#2a2a2a" stroke-width="0.62" stroke-linejoin="round"/>
<path d="M463.5,102.4 462.9,102.2 462.9,102.0 463.2,101.6 463.5,101.6 463.8,102.0 463.5,102.4Z" fill="none" stroke="#2a2a2a" stroke-width="0.62" stroke-linejoin="round"/>
<path d="M466.90,85.20 L479.60,74.80 L494.60,74.00 L501.50,81.20 L502.70,95.60 L473.80,107.70Z" fill="none" stroke="#888" stroke-width="0.6" stroke-linejoin="round"/>
<ellipse cx="0" cy="0" rx="4.3" ry="3.5" transform="translate(463.3,102) rotate(-40)" fill="none" stroke="#111" stroke-width="1.3"/>
<text x="508.00" y="67.50" font-size="10.5" text-anchor="end" font-weight="normal" stroke="#000" stroke-width="0.42" >42</text>
<path d="M88,205V122H171.5V205" fill="none" stroke="#b4b4b4" stroke-width="1"/>
<path d="M87.5,205H172.0" fill="none" stroke="#6e6e6e" stroke-width="1"/>
<path d="M86,189.0h2 M104.1,205v2 M86,173.1h2 M120.1,205v2 M86,157.1h2 M136.2,205v2 M86,141.2h2 M152.2,205v2 M86,125.2h2 M168.3,205v2 M91.2,205v1 M94.4,205v1 M97.6,205v1 M100.8,205v1 M104.1,205v1 M107.3,205v1 M110.5,205v1 M113.7,205v1 M116.9,205v1 M120.1,205v1 M123.3,205v1 M126.5,205v1 M129.8,205v1 M133.0,205v1 M136.2,205v1 M139.4,205v1 M142.6,205v1 M145.8,205v1 M149.0,205v1 M152.2,205v1 M155.4,205v1 M158.7,205v1 M161.9,205v1 M165.1,205v1 M168.3,205v1" stroke="#8a8a8a" stroke-width="0.8" fill="none"/>
<path d="M149.8,175.0 148.2,174.8 146.5,173.5 145.2,170.0 143.5,168.2 142.1,165.8 140.2,164.8 138.2,163.5 136.0,162.7 135.0,162.0 134.3,161.0 133.8,159.8 133.3,157.2 133.4,155.8 134.9,152.8 137.8,150.5 139.5,148.5 140.2,147.0 140.7,144.8 141.2,144.0 143.2,141.9 145.6,140.5 146.7,138.5 147.2,138.0 148.8,137.2 151.2,136.5 153.2,135.6 156.5,135.3 161.5,133.2 162.5,133.0 163.2,133.1 165.5,134.2 166.8,135.5 167.2,136.8 166.9,139.0 166.3,140.5 165.2,142.2 162.9,144.8 162.7,145.2 162.9,147.2 162.7,148.2 162.1,149.2 159.5,152.0 158.8,154.5 158.0,156.0 157.8,157.0 158.5,159.5 158.5,160.5 158.2,161.5 157.3,163.2 156.5,165.8 156.7,168.5 156.0,171.0 156.2,173.0 155.8,173.5 153.5,173.6 151.2,174.7 149.8,175.0Z" fill="none" stroke="#2a2a2a" stroke-width="0.62" stroke-linejoin="round"/>
<path d="M151.2,172.1 150.5,172.0 149.8,171.8 148.6,170.5 147.5,167.9 146.0,165.0 145.3,162.2 144.8,161.5 144.0,160.9 143.0,160.7 142.2,161.0 140.8,162.1 140.0,162.2 139.0,161.8 137.0,160.7 136.2,160.0 135.4,158.5 135.1,157.0 135.2,155.8 135.7,154.8 136.3,154.0 137.0,153.5 138.5,152.9 139.2,152.2 141.7,148.5 143.1,145.0 143.9,143.8 149.0,139.1 150.8,138.3 153.7,137.8 157.0,136.9 161.0,135.1 162.0,135.0 163.0,135.1 164.5,135.9 165.1,136.5 165.5,137.8 165.4,139.0 165.0,139.8 163.2,141.8 161.4,143.2 160.8,144.0 160.5,145.0 160.5,147.5 159.7,149.2 157.0,152.1 155.5,154.8 154.8,155.3 153.1,156.0 153.2,156.2 154.2,156.9 155.0,157.7 155.4,158.5 155.5,159.2 155.2,160.0 153.8,162.0 153.0,164.0 152.9,165.8 153.4,168.2 152.9,170.5 152.2,171.5 151.2,172.1Z" fill="none" stroke="#2a2a2a" stroke-width="0.62" stroke-linejoin="round"/>
<path d="M140.2,159.6 138.2,159.3 137.0,158.8 136.2,157.8 136.0,157.0 136.1,156.2 136.5,155.5 137.0,155.1 139.5,153.9 140.4,153.0 141.4,151.0 143.1,149.0 144.9,144.5 145.9,143.0 149.8,140.1 151.0,139.5 153.8,139.4 157.0,138.6 158.0,138.2 160.0,136.9 161.8,136.4 162.8,136.4 163.8,137.0 164.0,137.5 164.0,138.2 162.3,140.8 160.7,142.2 160.0,143.4 159.2,147.2 158.7,148.5 154.8,152.9 153.8,153.5 151.2,154.1 150.0,154.9 147.0,156.1 146.0,156.3 143.8,156.2 142.6,156.5 141.7,157.0 141.0,157.8 140.4,158.8 140.2,159.6ZM141.0,160.1 140.6,160.0 141.0,159.9 141.0,160.1ZM150.5,168.8 150.2,169.0 150.0,168.9 148.8,167.5 147.4,164.0 147.3,163.0 147.4,162.2 147.8,161.5 148.2,161.3 149.0,161.2 150.0,161.4 150.5,161.8 150.8,162.2 150.9,163.5 150.5,168.8Z" fill="none" stroke="#2a2a2a" stroke-width="0.62" stroke-linejoin="round"/>
<path d="M138.5,157.8 137.8,157.9 137.2,157.5 137.1,157.0 137.2,156.5 138.0,155.9 141.0,154.2 141.8,153.5 143.0,151.8 144.5,150.4 146.0,146.5 146.4,144.2 147.5,142.9 149.2,141.8 151.0,141.0 153.2,140.9 155.5,140.5 158.5,140.5 160.5,138.8 162.1,138.2 161.2,139.7 159.8,141.0 159.2,141.7 158.2,146.2 157.7,147.5 154.5,150.8 153.2,151.7 149.2,153.3 148.2,153.5 146.2,153.3 144.2,154.3 142.2,155.0 140.8,155.9 138.5,157.8Z" fill="none" stroke="#2a2a2a" stroke-width="0.62" stroke-linejoin="round"/>
<path d="M143.2,153.6 142.9,153.5 145.0,151.6 145.5,150.8 147.1,147.5 147.3,144.5 148.2,143.3 149.8,142.5 151.5,141.9 155.8,141.6 158.2,141.7 158.1,143.2 157.2,146.5 156.6,147.5 154.5,149.7 153.0,150.6 149.2,152.2 148.2,152.4 145.8,152.2 143.2,153.6ZM138.8,156.6 138.6,156.5 138.8,156.6ZM138.5,156.8 138.2,157.0 138.1,156.8 138.5,156.6 138.5,156.8ZM138.0,157.1 137.9,157.0 138.0,156.8 138.2,157.0 138.0,157.1Z" fill="none" stroke="#2a2a2a" stroke-width="0.62" stroke-linejoin="round"/>
<path d="M148.8,151.5 147.5,151.6 146.2,151.4 146.1,151.2 146.8,149.8 148.0,148.0 147.9,145.2 148.5,144.0 149.8,143.2 152.0,142.5 155.2,142.5 157.2,142.3 157.5,142.5 156.5,146.2 154.5,148.9 153.0,149.9 148.8,151.5Z" fill="none" stroke="#2a2a2a" stroke-width="0.62" stroke-linejoin="round"/>
<path d="M148.5,150.8 147.5,150.9 146.9,150.8 148.6,148.2 148.7,147.5 148.5,145.5 149.0,144.5 150.0,143.8 152.2,143.0 153.2,143.0 155.2,143.4 156.5,143.2 155.6,146.2 154.0,148.7 152.2,149.6 148.5,150.8Z" fill="none" stroke="#2a2a2a" stroke-width="0.62" stroke-linejoin="round"/>
<path d="M148.5,150.0 148.1,150.0 149.1,148.5 149.2,147.8 149.1,145.8 149.4,145.0 149.8,144.6 151.5,143.8 152.8,143.5 155.4,144.2 154.8,146.5 154.2,147.8 153.5,148.5 151.5,149.4 148.5,150.0Z" fill="none" stroke="#2a2a2a" stroke-width="0.62" stroke-linejoin="round"/>
<path d="M151.0,149.0 149.8,149.1 149.5,149.0 149.7,148.0 149.6,146.0 150.0,145.2 151.2,144.3 152.5,144.0 153.2,144.0 154.7,144.8 154.3,146.5 153.6,147.8 152.8,148.4 151.0,149.0Z" fill="none" stroke="#2a2a2a" stroke-width="0.62" stroke-linejoin="round"/>
<path d="M151.2,148.5 150.2,148.5 150.1,146.5 150.2,145.8 150.8,145.1 151.8,144.5 152.5,144.4 153.2,144.5 154.2,145.2 153.6,147.0 152.8,148.0 151.2,148.5Z" fill="none" stroke="#2a2a2a" stroke-width="0.62" stroke-linejoin="round"/>
<path d="M151.5,148.0 150.8,148.0 150.5,146.5 150.7,145.8 151.8,144.9 152.5,144.8 153.0,144.9 153.7,145.5 153.4,146.8 152.7,147.5 151.5,148.0Z" fill="none" stroke="#2a2a2a" stroke-width="0.62" stroke-linejoin="round"/>
<path d="M151.8,147.6 151.3,147.5 151.0,147.0 151.0,146.0 151.8,145.2 152.8,145.2 153.3,145.8 153.3,146.2 152.8,147.0 151.8,147.6Z" fill="none" stroke="#2a2a2a" stroke-width="0.62" stroke-linejoin="round"/>
<path d="M152.2,147.0 151.8,147.1 151.3,146.5 151.5,145.8 152.0,145.4 152.5,145.5 152.9,146.2 152.2,147.0Z" fill="none" stroke="#2a2a2a" stroke-width="0.62" stroke-linejoin="round"/>
<path d="M152.0,146.6 151.8,146.5 151.6,146.0 152.0,145.7 152.2,145.7 152.4,146.2 152.0,146.6Z" fill="none" stroke="#2a2a2a" stroke-width="0.62" stroke-linejoin="round"/>
<path d="M152.0,146.2 151.9,146.0 152.0,145.9 152.2,146.0 152.0,146.2Z" fill="none" stroke="#2a2a2a" stroke-width="0.62" stroke-linejoin="round"/>
<path d="M131.5,122V205M88,165.5H171.5" stroke="#8c8c8c" stroke-width="1" fill="none"/>
<text x="90.00" y="133.50" font-size="10.5" text-anchor="start" font-weight="normal" stroke="#000" stroke-width="0.42" >0</text>
<text x="169.70" y="133.50" font-size="10.5" text-anchor="end" font-weight="normal" stroke="#000" stroke-width="0.42" >93</text>
<use href="#one" transform="translate(90.00,203.00) scale(0.005127,-0.005127)" stroke="#000" stroke-width="81.9"/>
<text x="169.70" y="203.00" font-size="10.5" text-anchor="end" font-weight="normal" stroke="#000" stroke-width="0.42" >5</text>
<path d="M193.5,205V122H276.5V205" fill="none" stroke="#b4b4b4" stroke-width="1"/>
<path d="M193.0,205H277.0" fill="none" stroke="#6e6e6e" stroke-width="1"/>
<path d="M191.5,189.0h2 M209.5,205v2 M191.5,173.1h2 M225.4,205v2 M191.5,157.1h2 M241.4,205v2 M191.5,141.2h2 M257.3,205v2 M191.5,125.2h2 M273.3,205v2 M196.7,205v1 M199.9,205v1 M203.1,205v1 M206.3,205v1 M209.5,205v1 M212.7,205v1 M215.8,205v1 M219.0,205v1 M222.2,205v1 M225.4,205v1 M228.6,205v1 M231.8,205v1 M235.0,205v1 M238.2,205v1 M241.4,205v1 M244.6,205v1 M247.8,205v1 M251.0,205v1 M254.2,205v1 M257.3,205v1 M260.5,205v1 M263.7,205v1 M266.9,205v1 M270.1,205v1 M273.3,205v1" stroke="#8a8a8a" stroke-width="0.8" fill="none"/>
<path d="M214.2,200.1 213.0,200.1 210.2,199.6 209.2,199.2 207.9,198.0 206.0,195.2 205.8,193.8 206.1,190.8 207.0,189.1 209.0,186.8 213.8,184.5 217.0,181.2 222.0,178.5 224.2,176.5 226.2,175.1 229.5,171.6 231.7,170.5 234.0,168.7 240.0,165.1 244.8,164.0 250.5,161.8 251.5,162.2 253.0,163.7 255.8,164.5 257.8,165.7 258.8,166.0 259.2,166.5 259.6,167.2 259.6,168.2 259.0,170.0 258.0,170.8 256.0,171.0 255.2,171.5 255.0,172.1 254.8,174.2 254.2,175.2 252.8,177.0 250.9,178.2 249.8,180.2 247.4,182.5 246.0,184.6 244.2,186.4 240.0,189.0 237.0,190.0 232.5,193.6 231.5,193.9 229.5,194.0 226.8,194.8 226.0,195.2 225.0,196.4 224.2,196.8 223.0,197.2 221.0,197.1 220.2,197.2 218.2,198.8 216.2,199.3 214.2,200.1Z" fill="none" stroke="#2a2a2a" stroke-width="0.62" stroke-linejoin="round"/>
<path d="M214.0,198.3 211.8,198.5 210.2,198.2 209.0,197.2 207.3,195.0 207.1,193.5 207.5,191.5 208.3,190.2 209.8,188.7 211.5,187.6 215.0,186.0 218.8,182.6 222.6,180.8 224.8,178.6 227.5,176.7 230.8,173.5 240.8,167.3 242.2,166.9 247.2,166.7 248.2,167.1 249.3,168.2 250.0,168.7 251.0,168.6 252.2,167.8 252.9,168.0 253.0,168.5 252.9,169.2 251.1,172.2 250.4,175.0 250.0,175.8 248.3,177.8 246.9,180.2 244.5,182.2 241.8,185.1 240.0,186.1 237.8,186.1 235.5,188.2 234.5,188.9 231.0,189.8 228.0,192.0 224.9,193.0 222.8,194.6 219.3,195.5 216.5,197.1 214.0,198.3Z" fill="none" stroke="#2a2a2a" stroke-width="0.62" stroke-linejoin="round"/>
<path d="M212.2,197.5 211.0,197.5 210.0,197.0 208.5,195.2 208.0,194.0 208.1,192.8 208.6,191.5 209.8,190.0 211.0,189.0 212.5,188.0 215.5,186.8 220.0,183.2 224.0,181.8 225.8,179.9 228.2,178.8 230.0,177.8 231.3,175.5 232.2,174.5 238.5,171.2 241.0,169.3 242.0,169.0 243.2,169.1 246.5,169.7 247.5,170.1 248.6,171.0 249.0,171.8 249.3,173.2 249.3,174.2 249.0,175.1 246.9,177.5 245.7,179.5 243.5,181.1 241.5,183.2 240.2,183.7 238.2,183.3 237.5,183.5 235.2,186.1 234.5,186.8 233.5,187.1 230.2,187.6 227.5,188.6 226.8,189.2 226.1,190.8 225.2,191.6 221.8,192.7 219.2,194.2 216.0,195.8 213.8,197.1 212.2,197.5Z" fill="none" stroke="#2a2a2a" stroke-width="0.62" stroke-linejoin="round"/>
<path d="M232.0,184.8 231.0,184.7 230.1,184.2 229.8,183.8 229.8,182.8 230.3,181.0 231.8,179.0 232.5,177.2 233.2,176.4 235.8,175.3 239.2,173.0 240.2,172.6 242.2,172.5 244.0,171.9 244.8,171.8 245.8,172.2 246.9,173.2 247.3,174.0 247.0,175.0 245.0,176.8 243.8,179.0 241.5,180.9 240.0,181.7 237.0,181.9 235.0,183.7 232.0,184.8ZM212.8,196.3 211.5,196.5 210.5,196.1 209.6,195.2 209.0,194.2 208.9,193.2 209.2,192.2 209.9,191.0 210.8,190.2 212.8,188.9 215.8,187.6 220.2,184.3 221.5,183.7 222.5,183.6 223.2,183.7 225.0,184.8 226.8,185.5 226.9,186.0 226.7,186.5 224.8,190.0 224.2,190.7 221.2,191.7 218.5,193.4 215.5,194.7 212.8,196.3Z" fill="none" stroke="#2a2a2a" stroke-width="0.62" stroke-linejoin="round"/>
<path d="M234.8,182.0 234.0,182.2 233.2,182.1 232.5,181.8 232.4,181.5 233.0,179.2 233.8,177.8 234.5,177.2 236.2,176.5 238.2,175.0 239.8,174.1 241.0,174.0 242.2,174.8 242.6,175.8 242.6,177.2 242.3,178.2 241.6,179.0 241.0,179.5 240.0,179.9 236.8,180.5 234.8,182.0ZM212.2,195.8 211.5,195.8 210.8,195.5 210.0,194.8 209.6,194.0 209.7,192.5 210.2,191.5 210.8,190.9 213.2,189.3 216.1,188.0 221.2,184.4 222.2,184.3 223.0,184.4 224.7,185.8 225.1,186.5 225.1,187.2 224.5,189.0 223.8,190.0 221.0,191.2 218.2,192.8 215.4,194.0 213.0,195.5 212.2,195.8Z" fill="none" stroke="#2a2a2a" stroke-width="0.62" stroke-linejoin="round"/>
<path d="M235.0,179.8 234.8,179.8 234.6,179.5 235.0,178.8 236.8,177.8 238.9,175.8 240.2,175.2 241.0,175.7 241.1,176.8 240.4,177.8 238.2,178.7 236.2,179.2 235.0,179.8ZM212.2,195.3 211.5,195.3 210.9,195.0 210.4,194.5 210.0,193.8 210.0,193.0 210.1,192.2 211.0,191.2 213.8,189.6 216.2,188.4 221.2,185.0 222.0,184.8 222.8,184.9 223.5,185.3 224.1,186.0 224.5,186.8 224.5,187.5 224.1,188.5 223.5,189.4 218.2,192.4 215.2,193.6 212.2,195.3Z" fill="none" stroke="#2a2a2a" stroke-width="0.62" stroke-linejoin="round"/>
<path d="M212.5,194.9 211.8,194.9 211.2,194.8 210.5,194.0 210.3,192.8 211.0,191.6 216.4,188.8 221.2,185.4 222.5,185.3 223.6,186.0 224.0,186.8 224.0,187.5 223.8,188.4 223.2,189.0 218.0,192.1 215.1,193.2 212.5,194.9Z" fill="none" stroke="#2a2a2a" stroke-width="0.62" stroke-linejoin="round"/>
<path d="M212.5,194.5 211.5,194.6 210.7,193.8 210.6,192.8 211.2,191.7 216.5,189.0 221.5,185.7 222.5,185.6 223.3,186.2 223.6,186.8 223.7,187.5 223.4,188.2 223.0,188.8 218.0,191.8 215.0,193.0 212.5,194.5Z" fill="none" stroke="#2a2a2a" stroke-width="0.62" stroke-linejoin="round"/>
<path d="M212.5,194.3 211.8,194.4 210.9,193.8 210.8,192.8 211.2,192.0 216.5,189.3 221.5,186.0 222.2,185.9 223.1,186.5 223.4,187.5 223.1,188.2 222.8,188.6 217.8,191.7 214.9,192.8 212.5,194.3Z" fill="none" stroke="#2a2a2a" stroke-width="0.62" stroke-linejoin="round"/>
<path d="M212.5,194.0 211.8,194.1 211.0,193.5 211.0,192.8 211.5,192.1 216.6,189.5 221.5,186.3 222.2,186.2 223.0,186.8 223.1,187.8 222.5,188.5 217.8,191.4 214.9,192.5 212.5,194.0Z" fill="none" stroke="#2a2a2a" stroke-width="0.62" stroke-linejoin="round"/>
<path d="M212.5,193.8 211.8,193.9 211.3,193.5 211.2,192.8 211.5,192.3 216.6,189.8 221.8,186.5 222.2,186.5 222.8,186.9 222.9,187.5 222.5,188.2 217.8,191.2 214.8,192.4 212.5,193.8Z" fill="none" stroke="#2a2a2a" stroke-width="0.62" stroke-linejoin="round"/>
<path d="M212.0,193.8 211.5,193.5 211.3,193.2 211.3,192.8 211.8,192.3 214.8,191.0 221.8,186.7 222.2,186.7 222.6,187.0 222.7,187.5 222.5,187.9 220.0,189.6 217.5,191.1 214.8,192.2 212.0,193.8Z" fill="none" stroke="#2a2a2a" stroke-width="0.62" stroke-linejoin="round"/>
<path d="M212.2,193.5 211.8,193.5 211.5,193.2 211.5,192.8 211.8,192.5 214.7,191.2 221.8,187.0 222.2,187.0 222.5,187.2 222.2,187.9 219.5,189.7 217.2,191.0 214.5,192.1 212.2,193.5Z" fill="none" stroke="#2a2a2a" stroke-width="0.62" stroke-linejoin="round"/>
<path d="M212.2,193.4 212.0,193.4 211.7,193.2 211.8,192.7 214.6,191.5 221.8,187.2 222.0,187.1 222.3,187.2 222.2,187.8 219.2,189.7 217.2,190.8 214.4,192.0 212.2,193.4Z" fill="none" stroke="#2a2a2a" stroke-width="0.62" stroke-linejoin="round"/>
<path d="M215.8,191.3 215.3,191.2 219.2,188.8 222.0,187.3 222.2,187.5 219.0,189.6 217.2,190.7 215.8,191.3ZM215.0,191.6 214.9,191.5 215.0,191.4 215.2,191.5 215.0,191.6ZM214.5,191.8 214.5,191.8ZM214.0,192.1 213.8,192.0 214.0,191.9 214.0,192.1ZM212.0,193.3 211.7,193.0 211.9,192.8 213.5,192.1 213.7,192.2 212.0,193.3Z" fill="none" stroke="#2a2a2a" stroke-width="0.62" stroke-linejoin="round"/>
<path d="M220.30,175.20 L232.30,163.20 L250.10,163.20 L253.20,175.00 L250.00,185.00 L231.50,193.50Z" fill="none" stroke="#888" stroke-width="0.6" stroke-linejoin="round"/>
<text x="268.00" y="153.40" font-size="10.5" text-anchor="end" font-weight="normal" stroke="#000" stroke-width="0.42" >24</text>
<path d="M326,205V122H409.5V205" fill="none" stroke="#b4b4b4" stroke-width="1"/>
<path d="M325.5,205H410.0" fill="none" stroke="#6e6e6e" stroke-width="1"/>
<path d="M324,189.0h2 M342.1,205v2 M324,173.1h2 M358.1,205v2 M324,157.1h2 M374.2,205v2 M324,141.2h2 M390.2,205v2 M324,125.2h2 M406.3,205v2 M329.2,205v1 M332.4,205v1 M335.6,205v1 M338.8,205v1 M342.1,205v1 M345.3,205v1 M348.5,205v1 M351.7,205v1 M354.9,205v1 M358.1,205v1 M361.3,205v1 M364.5,205v1 M367.8,205v1 M371.0,205v1 M374.2,205v1 M377.4,205v1 M380.6,205v1 M383.8,205v1 M387.0,205v1 M390.2,205v1 M393.4,205v1 M396.7,205v1 M399.9,205v1 M403.1,205v1 M406.3,205v1" stroke="#8a8a8a" stroke-width="0.8" fill="none"/>
<path d="M391.5,187.0 390.5,187.2 389.8,187.1 389.2,186.6 388.3,185.0 387.5,184.4 386.8,184.2 385.2,184.6 384.8,184.5 384.0,184.1 383.5,183.5 383.1,181.5 382.8,180.5 381.8,178.9 380.5,177.5 380.1,176.8 379.8,173.8 378.6,171.0 379.2,168.5 379.0,166.5 377.9,163.8 376.1,161.5 375.9,160.8 376.0,159.5 376.6,157.0 378.5,154.0 378.3,151.2 378.6,150.0 382.0,144.9 383.3,141.5 386.5,137.3 387.5,136.4 389.2,135.4 391.2,133.8 392.5,133.2 394.5,133.0 397.5,133.6 399.2,133.1 400.0,133.1 401.0,133.5 404.2,135.5 405.0,136.3 405.5,137.2 405.6,138.2 405.4,140.2 405.8,144.8 405.3,147.8 405.4,150.2 404.0,153.8 403.8,156.2 403.9,158.8 402.6,161.0 402.0,164.0 400.9,166.8 400.9,169.5 400.7,173.2 399.6,177.0 398.1,184.0 397.2,185.5 396.0,186.4 395.0,186.7 392.8,186.8 391.5,187.0Z" fill="none" stroke="#2a2a2a" stroke-width="0.62" stroke-linejoin="round"/>
<path d="M395.2,185.0 393.5,185.1 391.0,184.3 386.4,181.2 385.2,180.1 384.7,179.0 384.1,177.0 383.0,174.8 383.0,173.5 383.6,171.8 383.3,166.0 382.5,165.0 379.8,162.8 377.9,161.5 377.4,160.8 377.3,160.0 378.2,157.0 379.9,154.2 380.3,151.0 383.8,146.6 384.6,143.5 385.2,142.5 385.8,142.1 387.5,141.2 389.2,139.9 390.2,139.3 391.0,139.3 392.0,139.8 392.8,139.8 393.2,139.0 393.1,137.5 393.2,136.8 394.0,135.9 395.0,135.7 396.8,135.9 399.0,135.4 399.8,135.3 402.5,136.5 403.2,137.0 403.6,137.5 403.7,138.2 403.7,140.2 404.0,142.2 404.1,143.5 403.5,146.0 402.9,150.5 402.4,152.8 402.0,154.0 400.8,155.8 400.6,156.5 400.9,159.0 400.8,161.2 400.1,164.8 399.3,167.5 399.3,170.8 399.1,172.8 398.6,174.0 397.2,175.7 396.9,176.5 396.9,177.2 397.4,179.5 397.0,183.0 396.4,184.2 395.2,185.0Z" fill="none" stroke="#2a2a2a" stroke-width="0.62" stroke-linejoin="round"/>
<path d="M394.2,184.3 393.0,183.9 391.6,183.0 390.5,182.0 390.1,181.2 390.1,180.5 390.8,178.8 390.5,177.0 390.6,174.0 390.2,173.0 388.9,171.5 388.6,169.8 388.2,168.8 386.7,167.2 386.3,166.5 385.7,161.2 385.0,158.0 384.1,155.5 384.3,154.8 385.2,153.8 385.1,153.0 384.8,152.7 384.2,152.6 383.0,152.8 381.9,154.8 381.2,157.0 379.5,160.5 379.2,160.7 378.8,160.7 378.4,160.0 379.3,157.0 380.8,154.5 381.4,151.8 384.1,149.2 385.8,145.0 386.2,144.2 388.0,143.0 389.8,141.5 392.5,141.2 393.8,140.8 398.0,137.1 398.8,136.7 399.5,136.6 401.4,137.2 402.3,138.0 402.8,143.0 402.0,145.9 402.1,148.5 401.8,150.2 400.9,153.5 399.6,156.2 399.6,161.5 398.9,165.0 398.3,167.5 398.2,171.5 396.1,176.5 396.0,177.5 396.4,179.8 396.2,182.5 395.9,183.2 395.5,183.8 395.0,184.1 394.2,184.3ZM391.8,166.5 392.5,166.2 392.9,165.8 393.1,165.2 392.8,164.7 392.0,164.9 391.5,165.5 391.4,166.2 391.8,166.5ZM388.0,178.3 387.8,178.0 388.0,177.7 388.2,178.0 388.0,178.3Z" fill="none" stroke="#2a2a2a" stroke-width="0.62" stroke-linejoin="round"/>
<path d="M394.8,183.0 394.0,183.2 393.2,182.9 392.7,182.2 392.4,181.5 392.4,180.5 392.9,178.2 393.0,175.8 392.2,171.0 392.6,169.5 394.0,167.6 394.8,166.2 395.2,165.0 395.1,164.0 394.8,163.2 394.0,162.4 392.2,161.4 391.5,161.3 391.0,161.7 390.6,162.2 389.5,164.8 389.0,165.2 388.4,165.0 388.2,164.2 388.1,162.5 387.5,160.5 387.3,159.5 387.6,158.2 388.6,156.2 388.7,155.5 387.6,152.5 387.6,149.0 387.2,148.5 386.2,148.2 386.6,147.0 387.3,145.8 389.8,143.3 390.8,142.8 393.2,142.1 395.0,141.2 397.2,140.0 399.2,138.2 400.0,138.1 400.5,138.3 400.9,138.8 401.4,141.5 401.4,143.0 400.5,145.8 401.0,148.2 400.9,149.2 398.8,155.8 398.6,158.5 397.4,166.0 397.2,170.5 395.3,176.8 395.2,182.2 394.8,183.0Z" fill="none" stroke="#2a2a2a" stroke-width="0.62" stroke-linejoin="round"/>
<path d="M394.2,182.5 393.8,182.5 393.5,182.2 393.3,181.5 393.4,180.5 394.2,177.0 393.7,171.0 394.0,169.8 395.8,165.7 396.0,163.8 393.9,158.5 393.3,157.8 392.5,157.5 391.8,157.9 391.0,158.6 390.0,160.2 389.5,160.0 389.3,159.5 389.3,158.2 390.3,156.5 390.4,156.0 389.1,153.8 388.7,152.8 388.5,151.5 388.7,148.2 388.4,147.2 388.0,146.8 388.8,145.5 390.0,144.3 392.0,143.7 394.8,142.3 397.0,141.5 400.0,138.8 400.2,139.0 400.7,141.8 400.6,143.0 399.8,145.5 400.2,149.2 398.4,154.2 398.0,158.5 397.2,162.2 396.5,164.5 396.6,170.2 394.8,176.8 394.6,181.5 394.5,182.2 394.2,182.5Z" fill="none" stroke="#2a2a2a" stroke-width="0.62" stroke-linejoin="round"/>
<path d="M396.5,162.7 396.2,162.2 395.7,158.2 396.7,154.0 396.6,153.0 396.2,152.6 395.8,152.7 395.4,154.2 394.9,154.8 394.2,154.9 391.2,154.4 390.5,154.0 389.8,153.1 389.3,151.8 389.5,147.5 389.9,146.2 390.5,145.4 392.8,144.7 395.2,143.2 397.2,143.0 399.8,140.0 400.0,140.5 400.2,141.8 400.1,142.8 399.4,145.5 399.7,149.0 398.0,153.7 397.6,158.2 396.5,162.7ZM395.0,174.6 394.8,174.3 394.6,170.5 395.8,167.1 396.0,167.2 396.1,170.0 395.0,174.6ZM394.2,180.8 394.2,179.8 394.2,180.8ZM394.0,182.1 394.0,180.9 394.1,181.0 394.0,182.1Z" fill="none" stroke="#2a2a2a" stroke-width="0.62" stroke-linejoin="round"/>
<path d="M399.0,144.3 398.9,142.5 399.4,141.2 399.8,141.1 399.6,143.0 399.2,144.2 399.0,144.3ZM392.8,153.3 391.8,153.4 391.0,153.1 390.5,152.6 390.1,151.8 389.9,150.5 389.9,149.0 390.2,147.8 390.7,146.8 391.8,145.9 394.0,145.4 395.0,145.5 396.8,146.2 397.5,146.3 398.5,145.8 398.9,145.5 399.0,145.1 399.2,148.8 398.0,152.2 397.8,152.0 397.4,150.2 397.0,149.9 396.8,149.9 394.9,151.0 393.5,152.8 392.8,153.3ZM396.8,160.2 396.5,158.0 397.2,156.0 397.3,157.8 396.8,160.2ZM395.2,172.1 395.2,170.5 395.5,169.0 395.8,169.1 395.7,170.0 395.2,172.1Z" fill="none" stroke="#2a2a2a" stroke-width="0.62" stroke-linejoin="round"/>
<path d="M392.8,152.3 392.0,152.5 391.5,152.3 390.7,151.5 390.4,150.0 390.6,148.0 391.2,147.0 392.2,146.3 393.8,146.0 395.0,146.3 396.4,147.2 396.7,147.8 396.6,148.2 395.7,149.5 392.8,152.3ZM398.2,150.2 397.8,148.0 398.0,147.5 398.8,146.7 398.8,148.5 398.2,150.2Z" fill="none" stroke="#2a2a2a" stroke-width="0.62" stroke-linejoin="round"/>
<path d="M392.8,151.5 391.8,151.6 391.0,150.8 390.8,149.5 391.1,148.0 391.6,147.2 392.5,146.7 393.8,146.5 394.8,146.7 395.7,147.5 395.7,148.5 394.8,149.8 392.8,151.5Z" fill="none" stroke="#2a2a2a" stroke-width="0.62" stroke-linejoin="round"/>
<path d="M392.5,151.0 391.8,150.8 391.3,150.0 391.3,149.0 391.6,148.0 392.0,147.5 392.8,147.0 393.8,146.8 394.5,147.0 395.2,147.8 395.1,148.8 394.0,150.1 392.5,151.0Z" fill="none" stroke="#2a2a2a" stroke-width="0.62" stroke-linejoin="round"/>
<path d="M393.2,150.3 392.5,150.5 392.0,150.3 391.7,149.5 391.7,148.8 392.0,148.0 392.5,147.5 393.2,147.2 394.0,147.2 394.7,147.8 394.8,148.5 394.2,149.5 393.2,150.3Z" fill="none" stroke="#2a2a2a" stroke-width="0.62" stroke-linejoin="round"/>
<path d="M392.8,150.0 392.2,149.8 392.1,149.5 392.0,149.0 392.2,148.2 393.0,147.6 394.0,147.5 394.5,148.0 394.4,148.8 393.8,149.6 392.8,150.0Z" fill="none" stroke="#2a2a2a" stroke-width="0.62" stroke-linejoin="round"/>
<path d="M393.2,149.6 392.7,149.5 392.4,148.8 392.8,148.0 393.8,147.7 394.1,148.0 394.2,148.5 393.8,149.2 393.2,149.6Z" fill="none" stroke="#2a2a2a" stroke-width="0.62" stroke-linejoin="round"/>
<path d="M393.5,149.1 393.0,149.2 392.8,148.8 393.0,148.2 393.5,148.0 393.8,148.0 393.9,148.5 393.5,149.1Z" fill="none" stroke="#2a2a2a" stroke-width="0.62" stroke-linejoin="round"/>
<path d="M393.5,148.8 393.2,148.8 393.2,148.5 393.5,148.2 393.7,148.5 393.5,148.8Z" fill="none" stroke="#2a2a2a" stroke-width="0.62" stroke-linejoin="round"/>
<ellipse cx="364.8" cy="176.8" rx="4.1" ry="6" fill="none" stroke="#2a2a2a" stroke-width="0.6"/>
<path d="M369.5,122V205M326,165.5H409.5" stroke="#8c8c8c" stroke-width="1" fill="none"/>
<text x="328.00" y="133.50" font-size="10.5" text-anchor="start" font-weight="normal" stroke="#000" stroke-width="0.42" >0</text>
<text x="407.70" y="133.50" font-size="10.5" text-anchor="end" font-weight="normal" stroke="#000" stroke-width="0.42" >77</text>
<text x="328.00" y="203.00" font-size="10.5" text-anchor="start" font-weight="normal" stroke="#000" stroke-width="0.42" >3</text>
<text x="407.70" y="203.00" font-size="10.5" text-anchor="end" font-weight="normal" stroke="#000" stroke-width="0.42" >20</text>
<path d="M433.5,205V122H516.5V205" fill="none" stroke="#b4b4b4" stroke-width="1"/>
<path d="M433.0,205H517.0" fill="none" stroke="#6e6e6e" stroke-width="1"/>
<path d="M431.5,189.0h2 M449.5,205v2 M431.5,173.1h2 M465.4,205v2 M431.5,157.1h2 M481.4,205v2 M431.5,141.2h2 M497.3,205v2 M431.5,125.2h2 M513.3,205v2 M436.7,205v1 M439.9,205v1 M443.1,205v1 M446.3,205v1 M449.5,205v1 M452.7,205v1 M455.8,205v1 M459.0,205v1 M462.2,205v1 M465.4,205v1 M468.6,205v1 M471.8,205v1 M475.0,205v1 M478.2,205v1 M481.4,205v1 M484.6,205v1 M487.8,205v1 M491.0,205v1 M494.2,205v1 M497.3,205v1 M500.5,205v1 M503.7,205v1 M506.9,205v1 M510.1,205v1 M513.3,205v1" stroke="#8a8a8a" stroke-width="0.8" fill="none"/>
<path d="M459.5,197.3 458.5,197.4 455.8,196.3 453.0,196.8 452.0,196.7 450.0,195.9 448.2,194.7 447.3,193.0 446.6,190.0 446.9,189.0 447.8,186.5 448.8,185.2 450.8,183.8 452.8,181.8 455.3,180.8 457.2,179.6 458.8,177.9 460.7,176.2 462.1,174.8 466.0,171.7 471.8,169.1 475.5,167.7 477.8,167.1 479.8,165.5 481.5,164.8 483.0,164.0 484.0,163.7 489.5,163.5 490.5,163.8 492.2,164.7 494.5,164.8 495.6,165.2 496.0,166.0 496.7,168.5 496.4,171.5 495.7,173.8 495.2,176.8 494.6,177.8 493.8,178.8 490.8,180.4 488.0,182.3 487.5,183.0 486.5,184.9 485.8,185.6 484.8,186.0 482.8,186.2 482.2,186.5 480.8,188.5 479.8,189.3 478.8,189.7 477.0,189.7 476.2,189.9 474.8,191.2 473.0,192.1 471.2,193.5 470.2,193.6 468.0,193.4 466.0,194.9 465.2,195.2 464.2,195.4 461.8,195.5 459.5,197.3Z" fill="none" stroke="#2a2a2a" stroke-width="0.62" stroke-linejoin="round"/>
<path d="M459.2,194.8 458.2,194.9 455.5,194.5 452.2,194.9 451.2,194.6 450.4,194.0 448.8,192.0 448.4,191.0 448.3,190.0 448.4,189.0 448.9,187.8 449.5,186.9 450.2,186.2 456.2,182.6 459.0,181.5 461.0,179.4 463.8,178.1 466.0,176.4 468.5,175.0 469.8,173.9 470.8,173.6 472.8,173.7 474.0,173.2 476.5,171.2 478.5,170.3 479.8,169.1 480.5,169.0 482.2,169.6 483.0,169.6 484.5,168.2 485.2,167.8 486.2,167.6 487.8,167.5 489.0,167.6 491.8,168.4 492.9,169.2 493.2,170.0 493.2,170.8 492.0,176.5 491.5,177.0 490.0,177.6 488.2,178.7 486.5,179.6 486.0,180.2 485.2,182.2 484.5,183.1 483.5,183.6 481.5,183.8 480.8,184.1 479.0,186.2 478.2,186.7 476.2,186.6 475.5,186.8 473.5,189.0 471.5,189.8 470.0,190.9 467.0,191.4 464.5,193.1 461.8,193.5 459.2,194.8Z" fill="none" stroke="#2a2a2a" stroke-width="0.62" stroke-linejoin="round"/>
<path d="M454.0,193.8 452.5,193.9 451.5,193.5 450.3,192.2 449.5,190.5 449.3,189.5 449.7,188.2 450.4,187.2 451.8,186.2 457.0,183.6 460.2,182.8 462.0,180.8 464.3,179.5 466.8,177.8 470.5,175.8 473.0,174.8 477.2,172.4 480.5,171.7 484.5,171.6 485.1,171.2 486.5,169.9 487.5,169.5 489.0,169.5 490.2,170.2 490.4,170.8 490.1,171.5 488.2,173.0 488.2,173.5 488.5,175.2 488.1,176.5 487.3,177.2 485.0,178.6 484.6,179.2 483.9,181.2 483.2,182.0 482.2,182.4 479.8,182.7 478.0,184.5 474.8,185.5 471.5,188.2 469.0,189.5 466.0,190.6 463.8,191.9 461.5,192.5 459.0,193.5 455.5,193.5 454.0,193.8Z" fill="none" stroke="#2a2a2a" stroke-width="0.62" stroke-linejoin="round"/>
<path d="M454.0,192.8 452.8,192.8 451.9,192.5 451.1,191.5 450.6,190.2 450.5,189.2 450.8,188.5 451.5,187.5 452.5,186.8 457.8,184.7 461.2,183.8 463.2,181.8 464.2,180.9 468.0,179.2 469.8,178.0 474.8,175.2 477.5,174.0 478.5,173.8 480.5,173.8 482.8,173.5 484.0,174.0 485.0,175.0 485.1,175.8 483.7,177.2 482.5,179.9 481.8,180.7 478.5,181.5 476.8,183.5 473.2,184.8 468.9,188.0 463.2,190.8 458.8,192.1 454.0,192.8Z" fill="none" stroke="#2a2a2a" stroke-width="0.62" stroke-linejoin="round"/>
<path d="M454.5,192.0 453.2,192.2 452.5,192.0 451.9,191.5 451.5,190.8 451.3,189.8 451.4,188.8 451.9,188.0 452.8,187.3 458.0,185.4 461.5,184.4 462.2,183.9 464.5,181.7 465.5,181.3 468.0,180.6 470.1,179.8 471.0,179.1 473.2,177.1 475.2,175.9 478.0,175.2 479.0,175.1 481.0,175.5 481.8,176.0 482.0,176.8 481.9,177.5 481.5,178.4 481.0,179.1 480.2,179.6 477.8,180.4 476.4,182.2 475.8,182.8 472.8,183.6 471.8,184.1 468.7,187.0 467.2,188.1 464.8,189.4 461.2,190.8 456.8,191.7 454.5,192.0Z" fill="none" stroke="#2a2a2a" stroke-width="0.62" stroke-linejoin="round"/>
<path d="M454.2,191.5 453.5,191.6 452.8,191.4 451.9,190.5 451.8,189.8 451.8,189.0 452.3,188.2 452.9,187.8 454.2,187.2 456.2,186.7 458.5,185.8 461.8,184.8 462.6,184.2 464.2,182.6 465.2,182.0 467.5,181.7 471.5,180.8 472.2,180.0 473.3,178.0 475.0,176.9 477.0,176.6 478.2,176.7 478.8,177.0 478.9,177.5 478.6,178.2 477.0,179.8 475.5,181.6 474.5,182.1 472.2,182.1 471.5,182.4 470.5,183.4 468.3,186.5 467.0,187.7 464.8,188.9 461.0,190.4 454.2,191.5Z" fill="none" stroke="#2a2a2a" stroke-width="0.62" stroke-linejoin="round"/>
<path d="M474.8,180.8 474.0,180.9 473.6,180.5 473.6,179.5 474.0,178.6 474.5,178.1 475.2,177.7 476.0,177.7 476.8,177.9 477.0,178.2 476.9,178.8 475.5,180.4 474.8,180.8ZM454.8,191.0 453.2,191.1 452.4,190.5 452.2,189.2 452.5,188.5 453.0,188.1 462.0,185.1 465.2,182.6 468.5,182.5 469.1,182.8 469.1,183.8 468.1,186.0 467.3,187.0 466.0,187.8 460.8,190.0 458.8,190.2 454.8,191.0Z" fill="none" stroke="#2a2a2a" stroke-width="0.62" stroke-linejoin="round"/>
<path d="M475.2,179.5 474.9,179.5 475.1,179.0 476.0,178.8 476.1,179.0 476.0,179.1 475.2,179.5ZM453.8,190.8 453.0,190.6 452.4,189.8 452.5,189.0 453.2,188.3 456.8,187.3 462.0,185.4 464.8,183.3 465.5,183.0 467.2,183.1 467.8,183.3 468.2,183.8 468.1,185.0 467.6,186.2 466.8,187.0 465.2,187.9 460.8,189.6 458.8,189.8 456.0,190.5 453.8,190.8Z" fill="none" stroke="#2a2a2a" stroke-width="0.62" stroke-linejoin="round"/>
<path d="M455.2,190.3 453.5,190.5 453.0,190.3 452.7,189.5 452.8,189.0 453.2,188.6 456.8,187.6 462.0,185.7 465.5,183.4 466.8,183.4 467.6,184.0 467.8,185.0 467.4,186.0 466.8,186.7 465.5,187.4 460.5,189.3 458.7,189.5 455.2,190.3Z" fill="none" stroke="#2a2a2a" stroke-width="0.62" stroke-linejoin="round"/>
<path d="M455.2,190.0 453.2,190.2 452.9,189.5 453.2,188.9 456.8,187.8 462.2,185.8 465.5,183.7 466.8,183.8 467.4,184.5 467.4,185.5 467.0,186.2 465.0,187.4 460.5,189.0 455.2,190.0Z" fill="none" stroke="#2a2a2a" stroke-width="0.62" stroke-linejoin="round"/>
<path d="M453.5,190.0 453.1,189.5 453.4,189.0 456.9,188.0 462.2,186.0 465.5,184.0 466.5,184.0 467.2,184.8 467.2,185.5 466.8,186.2 464.8,187.3 460.2,188.9 453.5,190.0Z" fill="none" stroke="#2a2a2a" stroke-width="0.62" stroke-linejoin="round"/>
<path d="M454.0,189.8 453.4,189.8 453.2,189.5 453.5,189.2 456.8,188.2 462.2,186.2 465.5,184.3 466.2,184.2 466.9,184.8 467.0,185.5 466.7,186.0 464.8,187.1 460.2,188.7 454.0,189.8Z" fill="none" stroke="#2a2a2a" stroke-width="0.62" stroke-linejoin="round"/>
<path d="M454.5,189.5 453.5,189.7 453.4,189.5 453.5,189.3 457.3,188.2 462.2,186.4 465.8,184.5 466.3,184.5 466.8,185.0 466.8,185.5 466.5,186.0 464.8,186.9 460.2,188.5 454.5,189.5Z" fill="none" stroke="#2a2a2a" stroke-width="0.62" stroke-linejoin="round"/>
<path d="M456.2,189.0 455.2,189.2 455.1,189.0 457.7,188.2 462.5,186.5 465.8,184.7 466.2,184.7 466.6,185.0 466.5,185.8 465.0,186.6 460.2,188.3 456.2,189.0ZM455.0,189.3 454.2,189.2 455.0,189.1 455.2,189.2 455.0,189.3ZM453.5,189.5 453.5,189.5Z" fill="none" stroke="#2a2a2a" stroke-width="0.62" stroke-linejoin="round"/>
<path d="M458.2,188.5 457.5,188.5 462.5,186.6 465.8,184.9 466.2,184.9 466.5,185.2 466.2,185.9 465.0,186.5 462.8,187.2 460.5,188.1 458.2,188.5ZM456.8,188.8 456.9,188.8 456.8,188.8Z" fill="none" stroke="#2a2a2a" stroke-width="0.62" stroke-linejoin="round"/>
<path d="M461.00,177.00 L473.50,162.00 L491.00,162.00 L494.00,172.50 L491.50,183.50 L472.00,191.50Z" fill="none" stroke="#888" stroke-width="0.6" stroke-linejoin="round"/>
<text x="497.92" y="153.40" font-size="10.5" stroke="#000" stroke-width="0.42">4</text>
<use href="#one" transform="translate(503.76,153.40) scale(0.005127,-0.005127)" stroke="#000" stroke-width="81.9"/>
<text x="131.80" y="255.40" font-size="10.8" text-anchor="middle" font-weight="normal" stroke="#000" stroke-width="0.42" >NS</text>
<text x="237.00" y="255.70" font-size="10.8" text-anchor="middle" font-weight="normal" stroke="#000" stroke-width="0.42" >NS</text>
<path d="M326,294V210.5H409.5V294" fill="none" stroke="#b4b4b4" stroke-width="1"/>
<path d="M325.5,294H410.0" fill="none" stroke="#6e6e6e" stroke-width="1"/>
<path d="M324,277.9h2 M342.1,294v2 M324,261.9h2 M358.1,294v2 M324,245.8h2 M374.2,294v2 M324,229.8h2 M390.2,294v2 M324,213.7h2 M406.3,294v2 M329.2,294v1 M332.4,294v1 M335.6,294v1 M338.8,294v1 M342.1,294v1 M345.3,294v1 M348.5,294v1 M351.7,294v1 M354.9,294v1 M358.1,294v1 M361.3,294v1 M364.5,294v1 M367.8,294v1 M371.0,294v1 M374.2,294v1 M377.4,294v1 M380.6,294v1 M383.8,294v1 M387.0,294v1 M390.2,294v1 M393.4,294v1 M396.7,294v1 M399.9,294v1 M403.1,294v1 M406.3,294v1" stroke="#8a8a8a" stroke-width="0.8" fill="none"/>
<ellipse cx="0" cy="0" rx="2.6" ry="3.8" transform="translate(390.4,243.8) rotate(20)" fill="#222" fill-opacity="0.55"/>
<path d="M390.2,257.8 388.8,258.0 387.8,257.9 386.4,256.0 383.8,254.4 383.0,254.3 381.5,254.9 380.5,254.6 379.0,253.4 378.2,252.5 377.6,251.2 377.5,250.0 378.7,246.8 381.0,244.0 382.2,239.5 382.8,238.2 384.0,236.8 386.8,234.3 389.5,232.3 390.8,232.0 394.0,231.9 395.2,232.4 397.5,233.7 398.2,234.4 398.7,235.2 399.3,237.2 399.6,241.0 399.5,244.8 399.0,246.8 397.8,249.8 397.2,250.4 396.2,251.0 395.8,251.5 395.8,253.8 395.5,254.8 394.5,255.6 391.5,257.3 390.2,257.8Z" fill="none" stroke="#2a2a2a" stroke-width="0.62" stroke-linejoin="round"/>
<path d="M390.2,254.3 389.0,254.4 387.0,254.2 385.8,253.7 384.7,253.0 383.0,251.2 381.9,248.5 381.7,247.5 382.0,246.5 383.2,244.2 384.9,239.8 387.2,238.4 390.0,234.9 390.8,234.5 391.5,234.4 392.8,234.7 394.2,235.4 395.2,236.2 396.1,237.2 396.5,238.2 396.5,240.5 397.4,242.8 397.6,244.2 397.1,246.2 396.0,247.9 394.2,250.0 393.1,253.0 392.5,253.4 390.2,254.3Z" fill="none" stroke="#2a2a2a" stroke-width="0.62" stroke-linejoin="round"/>
<path d="M388.5,251.8 386.8,251.6 386.2,251.2 385.7,250.5 385.6,248.2 385.1,246.2 385.6,243.8 386.7,241.2 389.0,238.9 390.0,238.3 391.0,237.9 392.0,237.8 392.8,237.9 393.8,238.6 394.5,239.8 395.7,242.8 395.6,244.2 392.9,249.0 392.0,250.2 390.5,251.2 388.5,251.8Z" fill="none" stroke="#2a2a2a" stroke-width="0.62" stroke-linejoin="round"/>
<path d="M390.5,249.0 389.5,249.2 388.5,248.7 386.9,246.2 386.8,244.8 387.6,242.5 388.8,240.8 390.2,239.9 391.8,239.8 392.8,240.2 393.4,241.0 394.0,242.2 394.0,243.2 392.2,247.4 391.5,248.3 390.5,249.0Z" fill="none" stroke="#2a2a2a" stroke-width="0.62" stroke-linejoin="round"/>
<path d="M390.5,247.5 389.5,247.5 388.8,247.1 388.0,246.0 387.8,245.0 388.2,243.5 389.0,241.9 390.0,241.1 391.0,240.9 391.8,241.1 392.3,241.5 392.7,242.2 392.7,243.0 391.6,246.5 391.2,247.0 390.5,247.5Z" fill="none" stroke="#2a2a2a" stroke-width="0.62" stroke-linejoin="round"/>
<path d="M390.5,246.3 389.8,246.4 389.2,246.1 388.9,245.5 388.7,244.8 389.0,243.5 389.5,242.5 390.0,242.0 390.8,241.8 391.6,242.2 391.8,243.2 391.1,245.5 390.5,246.3Z" fill="none" stroke="#2a2a2a" stroke-width="0.62" stroke-linejoin="round"/>
<path d="M390.2,245.3 389.8,245.3 389.5,245.0 389.4,244.0 389.9,242.8 390.8,242.5 391.2,242.8 391.3,243.5 391.0,244.5 390.2,245.3Z" fill="none" stroke="#2a2a2a" stroke-width="0.62" stroke-linejoin="round"/>
<path d="M390.2,244.5 389.9,244.2 389.9,243.8 390.1,243.2 390.5,243.0 390.8,243.2 390.9,243.8 390.6,244.2 390.2,244.5Z" fill="none" stroke="#2a2a2a" stroke-width="0.62" stroke-linejoin="round"/>
<path d="M390.5,244.0 390.2,244.1 390.1,243.8 390.5,243.4 390.6,243.8 390.5,244.0Z" fill="none" stroke="#2a2a2a" stroke-width="0.62" stroke-linejoin="round"/>
<path d="M376.5,210.5V294M326,256.5H409.5" stroke="#8c8c8c" stroke-width="1" fill="none"/>
<text x="328.00" y="222.00" font-size="10.5" text-anchor="start" font-weight="normal" stroke="#000" stroke-width="0.42" >0</text>
<text x="407.70" y="222.00" font-size="10.5" text-anchor="end" font-weight="normal" stroke="#000" stroke-width="0.42" >96</text>
<text x="328.00" y="292.00" font-size="10.5" text-anchor="start" font-weight="normal" stroke="#000" stroke-width="0.42" >2</text>
<text x="407.70" y="292.00" font-size="10.5" text-anchor="end" font-weight="normal" stroke="#000" stroke-width="0.42" >2</text>
<path d="M433.5,294V210.5H516.5V294" fill="none" stroke="#b4b4b4" stroke-width="1"/>
<path d="M433.0,294H517.0" fill="none" stroke="#6e6e6e" stroke-width="1"/>
<path d="M431.5,277.9h2 M449.5,294v2 M431.5,261.9h2 M465.4,294v2 M431.5,245.8h2 M481.4,294v2 M431.5,229.8h2 M497.3,294v2 M431.5,213.7h2 M513.3,294v2 M436.7,294v1 M439.9,294v1 M443.1,294v1 M446.3,294v1 M449.5,294v1 M452.7,294v1 M455.8,294v1 M459.0,294v1 M462.2,294v1 M465.4,294v1 M468.6,294v1 M471.8,294v1 M475.0,294v1 M478.2,294v1 M481.4,294v1 M484.6,294v1 M487.8,294v1 M491.0,294v1 M494.2,294v1 M497.3,294v1 M500.5,294v1 M503.7,294v1 M506.9,294v1 M510.1,294v1 M513.3,294v1" stroke="#8a8a8a" stroke-width="0.8" fill="none"/>
<path d="M450.0,289.8 448.8,289.9 446.2,289.4 445.5,289.0 445.0,288.5 444.7,287.2 444.8,285.5 445.3,283.5 446.0,282.2 448.0,280.6 449.6,278.5 452.0,276.5 456.8,273.9 458.2,273.5 460.2,273.5 461.2,273.9 463.5,275.2 464.0,276.2 463.9,278.0 462.4,281.8 461.6,283.0 459.5,284.9 455.0,288.0 454.0,288.4 452.0,288.9 450.0,289.8Z" fill="none" stroke="#2a2a2a" stroke-width="0.62" stroke-linejoin="round"/>
<path d="M449.8,288.3 448.5,288.2 447.2,287.7 446.6,287.0 446.4,285.8 446.7,284.8 447.4,283.5 450.8,279.2 453.2,277.2 458.0,275.2 459.0,275.1 460.0,275.2 461.2,275.7 461.9,276.2 462.3,277.0 462.2,278.0 461.5,279.6 460.9,281.5 460.0,282.8 457.8,284.6 454.2,286.9 449.8,288.3Z" fill="none" stroke="#2a2a2a" stroke-width="0.62" stroke-linejoin="round"/>
<path d="M450.2,287.0 449.0,287.1 448.2,286.9 447.6,286.2 447.6,285.5 447.9,284.5 449.1,282.5 451.7,279.2 453.2,278.0 455.0,277.3 458.8,276.4 459.8,276.5 460.5,277.0 460.7,277.8 460.2,280.8 459.7,281.8 459.1,282.5 457.1,284.2 454.2,286.1 452.8,286.6 450.2,287.0Z" fill="none" stroke="#2a2a2a" stroke-width="0.62" stroke-linejoin="round"/>
<path d="M452.0,285.8 450.0,285.5 449.6,285.2 449.4,284.8 449.8,283.0 451.9,280.0 453.5,278.7 455.0,278.1 457.0,278.0 458.5,278.5 458.9,279.2 459.0,280.5 458.6,281.5 457.8,282.5 456.5,283.8 454.5,285.1 453.2,285.6 452.0,285.8Z" fill="none" stroke="#2a2a2a" stroke-width="0.62" stroke-linejoin="round"/>
<path d="M453.0,285.1 451.2,285.0 450.8,284.7 450.4,284.2 450.5,283.0 451.9,280.8 453.2,279.4 454.8,278.6 456.2,278.6 457.5,279.1 458.0,279.8 458.2,280.5 457.5,282.0 456.6,283.0 455.5,283.9 454.2,284.7 453.0,285.1Z" fill="none" stroke="#2a2a2a" stroke-width="0.62" stroke-linejoin="round"/>
<path d="M453.5,284.5 452.0,284.6 451.5,284.4 451.1,284.0 451.1,283.0 451.9,281.5 453.0,280.1 454.2,279.2 455.5,278.9 456.8,279.3 457.3,279.8 457.5,280.2 457.5,281.0 457.1,281.8 455.5,283.5 453.5,284.5Z" fill="none" stroke="#2a2a2a" stroke-width="0.62" stroke-linejoin="round"/>
<path d="M453.0,284.3 452.0,284.1 451.5,283.5 451.7,282.5 452.6,281.0 453.8,279.9 454.8,279.4 455.8,279.3 456.6,279.8 457.0,280.2 457.1,280.8 456.8,281.5 456.3,282.2 454.8,283.6 453.0,284.3Z" fill="none" stroke="#2a2a2a" stroke-width="0.62" stroke-linejoin="round"/>
<path d="M453.8,283.8 452.8,283.9 452.0,283.5 451.9,283.0 452.2,282.0 453.0,280.9 454.0,280.1 455.0,279.6 456.0,279.8 456.6,280.5 456.7,281.0 456.3,281.8 455.2,282.9 453.8,283.8Z" fill="none" stroke="#2a2a2a" stroke-width="0.62" stroke-linejoin="round"/>
<path d="M453.8,283.5 452.8,283.6 452.3,283.2 452.3,282.5 452.7,281.8 453.5,280.8 454.5,280.1 455.2,279.9 456.0,280.2 456.3,280.8 456.0,281.8 455.0,282.9 453.8,283.5Z" fill="none" stroke="#2a2a2a" stroke-width="0.62" stroke-linejoin="round"/>
<path d="M453.8,283.3 453.0,283.4 452.6,283.0 452.5,282.5 452.9,281.8 453.8,280.8 454.5,280.3 455.2,280.2 455.8,280.4 456.0,281.0 455.8,281.8 454.8,282.8 453.8,283.3Z" fill="none" stroke="#2a2a2a" stroke-width="0.62" stroke-linejoin="round"/>
<path d="M454.0,283.0 453.5,283.2 452.9,283.0 452.8,282.5 453.1,281.8 453.8,281.1 454.5,280.6 455.0,280.5 455.5,280.6 455.8,281.0 455.5,281.8 454.9,282.5 454.0,283.0Z" fill="none" stroke="#2a2a2a" stroke-width="0.62" stroke-linejoin="round"/>
<path d="M454.0,282.8 453.5,282.9 453.1,282.8 453.2,282.0 454.2,280.9 455.2,280.8 455.5,281.2 455.3,281.8 454.8,282.4 454.0,282.8Z" fill="none" stroke="#2a2a2a" stroke-width="0.62" stroke-linejoin="round"/>
<path d="M454.2,282.6 453.5,282.7 453.2,282.5 453.3,282.0 454.2,281.1 455.0,281.0 455.3,281.2 455.1,281.8 454.2,282.6Z" fill="none" stroke="#2a2a2a" stroke-width="0.62" stroke-linejoin="round"/>
<path d="M454.0,282.5 453.5,282.5 453.7,281.8 454.2,281.3 454.9,281.2 455.0,281.5 454.8,282.0 454.0,282.5Z" fill="none" stroke="#2a2a2a" stroke-width="0.62" stroke-linejoin="round"/>
<path d="M454.2,282.3 453.8,282.3 453.7,282.0 454.2,281.5 454.8,281.4 454.8,281.8 454.2,282.3Z" fill="none" stroke="#2a2a2a" stroke-width="0.62" stroke-linejoin="round"/>
<path d="M461.10,261.80 L474.70,249.10 L491.10,250.30 L494.00,261.30 L490.20,271.50 L472.50,280.40Z" fill="none" stroke="#888" stroke-width="0.6" stroke-linejoin="round"/>
<text x="506.00" y="245.30" font-size="10.5" text-anchor="end" font-weight="normal" stroke="#000" stroke-width="0.42" >0</text>
<path d="M79.1,373.0V609.0" stroke="#000" stroke-width="1.5" fill="none"/>
<path d="M79.1,365.0L74.39999999999999,374.2L83.8,374.2Z" fill="#000"/>
<path d="M184.5,373.0V607.5" stroke="#000" stroke-width="1.5" fill="none"/>
<path d="M184.5,365.0L179.8,374.2L189.2,374.2Z" fill="#000"/>
<path d="M318.5,373.0V606.0" stroke="#000" stroke-width="1.5" fill="none"/>
<path d="M318.5,365.0L313.8,374.2L323.2,374.2Z" fill="#000"/>
<path d="M424.6,373.0V607.5" stroke="#000" stroke-width="1.5" fill="none"/>
<path d="M424.6,365.0L419.90000000000003,374.2L429.3,374.2Z" fill="#000"/>
<text x="0" y="0" font-size="10.6" text-anchor="middle" stroke="#000" stroke-width="0.42" transform="translate(84.1,618.2) rotate(-90)">CD4</text>
<text x="0" y="0" font-size="10.6" text-anchor="middle" stroke="#000" stroke-width="0.42" transform="translate(188.4,617.8) rotate(-90)">SSC</text>
<text x="0" y="0" font-size="10.6" text-anchor="middle" stroke="#000" stroke-width="0.42" transform="translate(325.1,615.7) rotate(-90)">CD4</text>
<text x="0" y="0" font-size="10.6" text-anchor="middle" stroke="#000" stroke-width="0.42" transform="translate(429.9,617.8) rotate(-90)">SSC</text>
<text x="87.70" y="638.80" font-size="10.8" text-anchor="start" font-weight="normal" stroke="#000" stroke-width="0.42" >CD8</text>
<path d="M111.8,634.0H163" stroke="#000" stroke-width="1.5" fill="none"/>
<path d="M171,634.0L161.8,629.3L161.8,638.7Z" fill="#000"/>
<text x="192.20" y="638.80" font-size="10.8" text-anchor="start" font-weight="normal" stroke="#000" stroke-width="0.42" >FSC</text>
<path d="M216.8,634.0H267.7" stroke="#000" stroke-width="1.5" fill="none"/>
<path d="M275.7,634.0L266.5,629.3L266.5,638.7Z" fill="#000"/>
<text x="325.80" y="638.80" font-size="10.8" text-anchor="start" font-weight="normal" stroke="#000" stroke-width="0.42" >CD8</text>
<path d="M350.3,634.0H401" stroke="#000" stroke-width="1.5" fill="none"/>
<path d="M409,634.0L399.8,629.3L399.8,638.7Z" fill="#000"/>
<text x="431.40" y="638.80" font-size="10.8" text-anchor="start" font-weight="normal" stroke="#000" stroke-width="0.42" >FSC</text>
<path d="M456,634.0H507.1" stroke="#000" stroke-width="1.5" fill="none"/>
<path d="M515.1,634.0L505.90000000000003,629.3L505.90000000000003,638.7Z" fill="#000"/>
<text x="32.00" y="412.00" font-size="11" text-anchor="start" font-weight="normal" stroke="#000" stroke-width="0.42" >Day 7</text>
<text x="32.00" y="498.20" font-size="11" stroke="#000" stroke-width="0.42">Day </text>
<use href="#one" transform="translate(54.62,498.20) scale(0.005371,-0.005371)" stroke="#000" stroke-width="78.2"/>
<use href="#one" transform="translate(60.74,498.20) scale(0.005371,-0.005371)" stroke="#000" stroke-width="78.2"/>
<text x="32.00" y="587.00" font-size="11" text-anchor="start" font-weight="normal" stroke="#000" stroke-width="0.42" >Day 24</text>
<path d="M88,448.0V364.5H171.5V448.0" fill="none" stroke="#b4b4b4" stroke-width="1"/>
<path d="M87.5,448.0H172.0" fill="none" stroke="#6e6e6e" stroke-width="1"/>
<path d="M86,431.9h2 M104.1,448.0v2 M86,415.9h2 M120.1,448.0v2 M86,399.8h2 M136.2,448.0v2 M86,383.8h2 M152.2,448.0v2 M86,367.7h2 M168.3,448.0v2 M91.2,448.0v1 M94.4,448.0v1 M97.6,448.0v1 M100.8,448.0v1 M104.1,448.0v1 M107.3,448.0v1 M110.5,448.0v1 M113.7,448.0v1 M116.9,448.0v1 M120.1,448.0v1 M123.3,448.0v1 M126.5,448.0v1 M129.8,448.0v1 M133.0,448.0v1 M136.2,448.0v1 M139.4,448.0v1 M142.6,448.0v1 M145.8,448.0v1 M149.0,448.0v1 M152.2,448.0v1 M155.4,448.0v1 M158.7,448.0v1 M161.9,448.0v1 M165.1,448.0v1 M168.3,448.0v1" stroke="#8a8a8a" stroke-width="0.8" fill="none"/>
<path d="M117.5,438.8 113.8,439.0 112.2,438.5 109.1,436.2 108.4,434.8 107.7,434.0 106.2,433.4 104.0,433.0 103.2,432.6 102.2,431.3 100.5,428.2 100.7,427.5 102.2,426.4 102.8,425.3 102.8,423.7 102.0,422.2 101.8,421.5 102.1,419.0 102.6,417.8 107.8,414.0 108.8,413.1 110.0,412.7 111.8,411.0 114.8,409.5 117.0,406.5 118.8,405.5 120.5,403.9 122.5,402.8 123.0,401.5 123.2,396.0 122.8,394.2 122.3,393.2 121.0,392.5 117.2,391.7 116.4,392.0 114.9,393.2 114.0,393.4 109.5,391.1 107.2,389.0 106.4,387.5 106.3,386.2 106.4,385.0 106.6,384.0 107.3,382.8 108.3,381.5 109.5,380.4 110.8,379.6 112.0,379.2 113.2,379.1 115.8,379.2 121.5,378.7 130.2,377.4 135.8,377.0 139.2,375.9 142.8,375.2 146.5,373.4 151.5,374.3 152.5,374.2 154.2,373.7 155.0,373.7 157.0,374.5 160.2,376.5 161.8,378.0 164.1,382.0 164.5,383.8 164.8,387.5 164.5,388.8 163.9,390.0 162.5,391.8 160.5,393.5 159.4,396.2 159.7,396.8 161.6,398.0 162.0,398.8 162.1,399.2 161.7,400.0 159.8,401.5 159.3,402.5 159.4,403.8 160.1,406.5 160.8,408.2 160.2,410.0 159.8,412.2 160.4,415.0 160.1,415.8 158.5,416.8 158.1,417.2 157.9,418.0 157.9,419.8 157.6,420.5 156.8,421.3 155.0,422.0 154.7,424.0 154.2,424.8 151.5,427.2 150.5,427.6 149.5,427.4 146.5,425.4 144.5,424.8 144.2,423.5 143.5,422.8 141.8,421.8 140.8,421.8 140.2,422.3 139.5,424.0 138.0,425.3 136.2,427.4 135.8,427.6 135.2,427.6 133.5,426.7 132.8,427.0 132.5,428.0 132.8,429.8 132.7,430.5 131.7,431.8 130.0,433.1 129.0,433.7 127.0,434.6 125.4,436.2 124.5,436.8 123.0,437.1 120.0,437.2 117.5,438.8ZM135.0,394.8 135.2,394.5 135.0,394.2 134.6,394.5 134.8,394.8 135.0,394.8Z" fill="none" stroke="#2a2a2a" stroke-width="0.62" stroke-linejoin="round"/>
<path d="M122.0,434.3 120.2,434.4 118.0,433.4 114.8,432.9 112.5,433.4 111.8,433.3 108.5,431.8 107.5,431.0 107.0,430.2 106.3,428.0 105.2,426.2 105.1,425.2 105.5,424.3 107.3,423.2 108.1,422.2 108.3,421.0 108.0,418.5 108.2,417.7 108.8,417.3 110.5,416.7 112.9,414.8 115.2,414.0 116.2,413.5 117.2,412.5 117.9,410.5 118.6,409.5 119.5,409.1 121.5,409.3 122.4,407.8 124.3,406.0 125.3,403.2 125.6,400.2 126.7,397.8 126.1,395.5 126.0,394.5 126.4,393.8 127.7,392.0 127.9,391.2 127.5,390.8 127.0,390.5 125.0,390.1 120.2,389.9 117.8,389.5 116.8,389.6 113.2,390.9 112.5,390.9 111.5,390.6 110.5,390.0 109.3,388.8 108.7,387.8 108.4,387.0 108.5,385.2 109.8,382.5 111.0,381.0 112.5,380.3 115.8,380.5 119.0,380.0 124.8,379.8 132.0,378.8 135.0,378.8 138.8,377.9 141.5,377.9 144.0,376.5 146.8,375.8 153.2,376.2 155.8,375.8 157.2,376.3 159.8,378.5 161.0,380.2 161.6,382.2 161.7,385.8 161.5,387.3 161.1,388.5 159.3,390.8 158.1,393.2 157.5,393.9 155.7,395.0 155.2,395.8 155.5,399.0 156.7,401.5 157.3,404.5 157.1,405.5 156.2,407.3 156.8,412.8 155.9,416.8 155.4,418.0 155.0,418.4 153.2,419.4 150.5,422.8 150.0,423.0 149.5,422.9 148.8,422.4 145.8,419.4 144.5,418.4 144.2,417.8 143.9,416.2 143.6,415.8 141.4,414.5 140.9,414.0 140.9,413.5 141.7,411.8 142.1,409.5 142.8,408.8 144.5,407.8 144.9,407.2 145.4,405.2 146.5,402.5 147.2,399.8 147.6,396.0 147.2,395.0 145.2,393.9 144.0,393.5 143.2,393.6 141.8,394.4 140.8,394.1 140.2,393.5 139.5,391.4 138.7,390.8 136.2,390.6 133.0,389.7 129.6,390.2 129.0,390.8 129.0,391.2 130.0,393.0 130.1,394.0 129.1,396.5 129.0,397.8 130.9,400.8 131.1,403.5 131.7,405.5 132.2,408.8 132.8,410.3 134.1,412.2 134.4,413.2 134.2,414.0 132.1,415.2 132.0,415.8 132.0,416.2 132.7,417.0 133.8,417.4 134.5,417.4 135.8,417.0 136.5,417.0 137.1,417.5 137.3,418.5 136.9,419.8 136.2,420.6 133.5,422.0 131.0,422.8 129.2,424.0 128.5,425.0 126.3,430.5 123.8,433.1 122.0,434.3ZM138.0,413.1 137.2,413.1 136.5,412.7 135.9,411.5 135.8,410.5 136.2,409.8 136.8,409.3 137.5,409.0 138.5,408.9 139.0,409.0 139.3,409.5 138.6,412.2 138.0,413.1Z" fill="none" stroke="#2a2a2a" stroke-width="0.62" stroke-linejoin="round"/>
<path d="M150.8,396.3 150.2,395.8 150.0,393.2 149.5,392.5 147.2,392.6 144.7,391.5 142.5,391.0 141.8,390.5 140.4,389.0 139.2,388.4 138.5,388.3 136.5,388.7 135.2,388.7 131.2,388.2 129.2,387.7 126.2,388.7 121.8,388.8 117.5,388.4 113.5,389.5 112.5,389.6 111.5,389.2 110.3,388.0 109.8,387.0 109.9,385.8 111.4,382.0 112.0,381.2 112.8,381.0 115.8,381.1 119.0,380.6 124.8,380.5 132.0,379.6 135.0,379.8 139.0,378.9 141.8,378.8 144.8,377.7 150.5,377.0 153.5,377.3 156.2,376.9 157.0,377.2 157.9,378.0 159.7,380.8 160.0,382.0 159.9,386.0 158.8,388.4 157.6,392.2 157.2,392.8 156.8,393.2 156.0,393.5 153.8,393.6 152.8,393.9 152.0,394.5 151.2,395.9 150.8,396.3ZM128.0,396.6 127.3,395.0 127.5,394.4 128.0,394.2 128.3,394.2 128.6,394.8 128.0,396.6ZM121.5,431.5 120.8,431.6 115.8,430.9 112.8,431.1 110.5,430.5 109.6,430.0 109.2,429.5 108.9,427.5 107.8,426.0 107.7,425.2 112.0,419.0 114.0,416.6 116.5,415.1 119.0,414.2 119.4,413.8 120.2,412.0 120.8,411.6 122.2,411.3 122.8,410.9 123.8,408.5 125.5,406.8 126.0,406.0 126.8,403.8 127.1,400.2 128.0,398.5 129.1,400.8 129.3,404.2 128.8,405.5 127.7,407.0 127.4,407.8 127.3,409.5 127.8,411.8 127.6,413.5 127.9,414.2 129.0,416.0 129.6,418.2 130.4,420.0 130.0,420.6 128.2,421.8 127.8,422.5 126.7,425.2 124.7,428.0 123.7,429.8 122.8,430.8 121.5,431.5ZM149.8,419.5 148.8,419.2 148.2,418.5 148.2,417.5 148.5,415.5 148.3,414.8 146.5,413.5 145.6,412.0 145.3,411.0 145.6,410.2 147.3,408.2 148.1,407.0 148.2,402.8 148.8,400.9 150.0,399.5 150.8,399.1 151.5,399.0 152.2,399.3 152.7,399.8 154.9,403.5 154.9,404.5 153.7,406.5 153.5,407.2 154.7,410.8 154.9,412.8 154.5,415.5 154.0,416.8 151.5,418.9 149.8,419.5Z" fill="none" stroke="#2a2a2a" stroke-width="0.62" stroke-linejoin="round"/>
<path d="M156.2,392.5 155.8,392.6 155.2,392.2 154.9,390.5 154.5,390.0 154.0,389.8 150.5,389.5 148.2,390.0 147.2,390.0 143.0,388.7 140.7,387.2 139.5,386.9 131.8,386.8 129.2,386.3 128.5,386.4 127.0,387.2 126.0,387.4 123.8,387.3 121.5,387.6 117.8,387.2 114.5,387.6 113.0,387.7 112.0,387.2 111.6,386.5 111.6,386.0 111.8,385.2 112.5,384.7 116.8,384.9 117.8,384.7 118.6,384.2 119.5,383.5 119.6,383.0 118.9,382.5 116.7,381.8 118.5,381.4 120.5,381.2 124.5,381.2 132.0,380.4 135.0,380.6 139.2,379.8 142.0,379.5 144.2,378.9 147.0,378.7 150.2,378.1 153.2,378.3 156.2,377.8 157.0,378.2 157.5,378.8 158.3,381.2 158.5,382.2 158.2,385.5 157.5,387.8 156.7,392.0 156.2,392.5ZM113.0,382.6 112.7,382.5 112.5,382.0 113.0,381.6 115.4,382.0 113.0,382.6ZM135.3,382.5 136.6,382.0 136.5,381.8 135.8,381.7 134.2,382.0 133.5,382.5 134.2,382.6 135.3,382.5ZM125.3,383.2 126.8,382.8 126.8,382.5 126.3,382.2 125.5,382.1 123.5,382.1 122.8,382.2 122.2,382.8 122.7,383.2 123.5,383.5 125.3,383.2ZM151.2,404.6 150.6,404.5 150.3,403.8 150.6,402.8 151.0,402.4 151.4,402.8 151.7,403.5 151.6,404.2 151.2,404.6ZM124.8,410.3 124.5,410.4 124.5,410.0 125.2,408.7 125.3,409.5 124.8,410.3ZM151.2,410.3 150.8,410.3 150.4,410.0 150.4,409.5 151.0,409.5 151.3,410.0 151.2,410.3ZM119.0,429.0 117.8,429.1 115.5,428.4 113.5,428.4 113.0,428.2 112.8,427.5 113.5,426.0 113.6,425.2 113.5,424.7 112.6,423.2 112.7,422.0 113.1,420.8 113.9,419.8 116.7,418.0 118.2,416.6 120.0,415.9 121.5,413.7 123.0,412.7 124.6,415.5 124.6,416.0 123.8,416.8 123.8,417.0 124.5,418.3 125.3,421.0 125.6,422.5 125.5,423.8 125.2,424.5 124.5,425.2 122.5,426.2 120.8,428.2 119.0,429.0Z" fill="none" stroke="#2a2a2a" stroke-width="0.62" stroke-linejoin="round"/>
<path d="M156.2,379.0 155.5,378.8 155.3,378.5 156.0,378.3 156.5,378.8 156.2,379.0ZM156.0,392.1 155.8,389.7 155.5,389.1 155.0,388.7 150.8,388.4 148.5,388.8 147.8,388.8 145.8,388.0 143.5,387.3 141.5,386.2 140.5,385.9 137.2,386.1 134.2,385.7 131.8,385.9 129.0,385.5 126.8,386.4 125.8,386.6 123.5,386.3 121.0,386.6 117.5,386.1 115.0,386.3 113.0,386.3 112.7,386.0 113.0,385.8 118.0,385.5 121.0,384.4 123.5,384.7 126.5,384.2 129.0,384.9 131.2,384.3 134.2,384.2 138.8,383.1 139.7,382.5 140.7,381.2 140.5,381.0 138.5,380.5 144.2,379.5 147.7,379.2 150.2,378.7 152.2,378.9 152.4,379.0 151.9,379.8 152.2,380.3 153.5,380.9 155.0,381.0 155.6,380.8 156.1,380.2 156.5,379.5 156.4,379.0 157.0,378.9 157.6,381.5 157.6,382.8 157.4,385.0 156.0,392.1ZM129.8,381.5 128.0,381.5 127.6,381.2 127.8,381.2 131.8,380.9 133.5,381.0 132.5,381.4 129.8,381.5ZM120.8,381.8 119.1,381.8 120.8,381.8ZM119.2,426.6 117.5,426.4 116.5,426.0 116.0,425.2 114.8,421.8 115.0,420.8 115.6,420.0 117.0,419.2 118.5,418.7 119.0,418.8 120.2,419.5 122.5,419.7 123.0,420.2 123.2,421.2 123.1,422.2 122.8,422.8 121.4,424.0 120.2,426.0 119.2,426.6Z" fill="none" stroke="#2a2a2a" stroke-width="0.62" stroke-linejoin="round"/>
<path d="M150.5,379.3 149.6,379.2 150.5,379.3ZM148.8,388.0 147.5,387.8 144.5,386.6 142.8,385.5 141.8,385.2 140.0,385.0 137.2,385.4 134.4,385.0 137.0,384.2 139.5,383.8 142.0,382.4 144.2,382.0 146.5,381.1 150.0,380.4 150.8,380.5 155.2,382.2 156.0,381.9 156.8,380.8 157.0,381.2 157.1,382.5 156.5,386.4 156.2,386.3 156.0,384.8 155.8,384.2 155.5,384.1 155.0,384.8 154.7,386.8 154.1,387.5 153.0,387.8 150.8,387.7 148.8,388.0ZM126.8,385.8 125.5,386.0 123.2,385.6 121.2,386.0 119.7,385.8 121.0,385.3 123.5,385.5 126.2,384.9 127.5,385.2 126.8,385.8ZM131.8,385.3 131.8,385.3ZM119.0,424.5 117.5,424.6 117.0,424.3 116.6,423.8 116.4,422.5 116.4,421.5 116.8,420.9 117.2,420.6 118.5,420.6 120.2,421.1 120.8,421.5 120.9,422.2 120.5,423.0 119.8,424.0 119.0,424.5Z" fill="none" stroke="#2a2a2a" stroke-width="0.62" stroke-linejoin="round"/>
<path d="M149.8,387.3 148.8,387.4 147.8,387.2 145.2,386.0 143.5,384.8 140.8,384.2 142.0,383.6 144.0,383.0 147.0,381.7 150.2,381.2 151.5,381.4 153.2,382.1 154.0,382.8 154.2,383.5 153.6,386.0 153.2,386.6 152.8,386.9 149.8,387.3ZM137.5,384.8 137.1,384.8 137.5,384.8ZM118.2,423.8 117.7,423.8 117.5,423.0 117.8,422.5 118.5,422.2 119.0,422.5 119.1,423.0 118.8,423.5 118.2,423.8Z" fill="none" stroke="#2a2a2a" stroke-width="0.62" stroke-linejoin="round"/>
<path d="M150.2,386.8 149.0,386.9 148.0,386.7 143.7,384.0 146.3,382.5 147.8,382.0 150.5,381.8 153.0,382.5 153.5,383.0 153.5,383.5 152.7,385.8 152.0,386.3 150.2,386.8Z" fill="none" stroke="#2a2a2a" stroke-width="0.62" stroke-linejoin="round"/>
<path d="M149.5,386.5 148.8,386.5 148.0,386.1 145.1,384.0 145.2,383.8 147.2,382.7 149.0,382.3 151.0,382.3 153.0,382.9 152.4,385.0 151.9,385.8 150.9,386.2 149.5,386.5Z" fill="none" stroke="#2a2a2a" stroke-width="0.62" stroke-linejoin="round"/>
<path d="M150.5,386.0 149.5,386.2 148.5,385.9 148.0,385.5 147.2,384.4 146.2,383.8 147.8,383.0 149.0,382.7 150.5,382.7 152.0,383.0 152.2,383.2 151.8,385.0 151.2,385.7 150.5,386.0Z" fill="none" stroke="#2a2a2a" stroke-width="0.62" stroke-linejoin="round"/>
<path d="M150.2,385.8 149.2,385.8 148.6,385.5 148.3,385.0 147.8,383.5 149.5,383.1 151.3,383.2 151.3,385.0 150.9,385.5 150.2,385.8Z" fill="none" stroke="#2a2a2a" stroke-width="0.62" stroke-linejoin="round"/>
<path d="M150.2,385.5 149.3,385.5 148.8,385.0 148.9,384.2 149.2,383.6 150.0,383.6 150.9,384.5 150.9,385.0 150.2,385.5Z" fill="none" stroke="#2a2a2a" stroke-width="0.62" stroke-linejoin="round"/>
<path d="M150.2,385.3 149.6,385.2 149.3,384.8 149.8,384.4 150.2,384.5 150.5,385.0 150.2,385.3Z" fill="none" stroke="#2a2a2a" stroke-width="0.62" stroke-linejoin="round"/>
<path d="M150.0,385.1 149.9,385.0 150.0,384.9 150.0,385.1Z" fill="none" stroke="#2a2a2a" stroke-width="0.62" stroke-linejoin="round"/>
<path d="M133.5,364.5V448.0M88,405.5H171.5" stroke="#8c8c8c" stroke-width="1" fill="none"/>
<use href="#one" transform="translate(90.00,376.00) scale(0.005127,-0.005127)" stroke="#000" stroke-width="81.9"/>
<text x="95.84" y="376.00" font-size="10.5" stroke="#000" stroke-width="0.42">0</text>
<text x="159.82" y="376.00" font-size="10.5" stroke="#000" stroke-width="0.42">7</text>
<use href="#one" transform="translate(165.66,376.00) scale(0.005127,-0.005127)" stroke="#000" stroke-width="81.9"/>
<use href="#one" transform="translate(90.00,446.00) scale(0.005127,-0.005127)" stroke="#000" stroke-width="81.9"/>
<text x="95.84" y="446.00" font-size="10.5" stroke="#000" stroke-width="0.42">2</text>
<text x="169.70" y="446.00" font-size="10.5" text-anchor="end" font-weight="normal" stroke="#000" stroke-width="0.42" >8</text>
<path d="M193.5,448.0V364.5H276.5V448.0" fill="none" stroke="#b4b4b4" stroke-width="1"/>
<path d="M193.0,448.0H277.0" fill="none" stroke="#6e6e6e" stroke-width="1"/>
<path d="M191.5,431.9h2 M209.5,448.0v2 M191.5,415.9h2 M225.4,448.0v2 M191.5,399.8h2 M241.4,448.0v2 M191.5,383.8h2 M257.3,448.0v2 M191.5,367.7h2 M273.3,448.0v2 M196.7,448.0v1 M199.9,448.0v1 M203.1,448.0v1 M206.3,448.0v1 M209.5,448.0v1 M212.7,448.0v1 M215.8,448.0v1 M219.0,448.0v1 M222.2,448.0v1 M225.4,448.0v1 M228.6,448.0v1 M231.8,448.0v1 M235.0,448.0v1 M238.2,448.0v1 M241.4,448.0v1 M244.6,448.0v1 M247.8,448.0v1 M251.0,448.0v1 M254.2,448.0v1 M257.3,448.0v1 M260.5,448.0v1 M263.7,448.0v1 M266.9,448.0v1 M270.1,448.0v1 M273.3,448.0v1" stroke="#8a8a8a" stroke-width="0.8" fill="none"/>
<path d="M223.8,447.0 222.5,447.2 220.5,446.5 218.0,446.9 216.8,446.6 214.7,445.0 212.9,443.0 210.6,441.0 210.0,440.2 209.1,436.2 209.1,434.0 210.5,430.8 211.5,427.5 212.1,426.5 213.0,425.5 214.5,424.3 216.0,423.5 217.2,423.3 219.8,423.4 224.5,421.5 226.2,421.6 229.5,423.1 230.0,422.9 231.2,421.8 232.2,421.4 233.0,421.3 235.0,421.6 235.8,421.5 236.3,421.0 236.9,419.0 237.5,418.4 240.5,417.6 243.0,415.8 245.2,415.2 247.0,414.4 250.2,414.5 252.2,413.4 253.0,413.3 256.2,413.7 257.3,414.2 257.9,415.2 258.1,417.2 258.5,417.7 259.8,418.2 260.0,418.8 259.9,419.5 258.2,422.0 257.0,424.8 256.2,425.5 253.7,427.0 251.5,430.5 248.0,433.0 246.5,433.6 244.2,434.1 242.6,435.5 240.8,435.7 240.2,436.0 239.1,437.5 238.0,438.6 233.2,441.9 230.8,442.6 228.8,443.4 227.0,443.7 226.5,443.9 225.2,446.0 223.8,447.0Z" fill="none" stroke="#2a2a2a" stroke-width="0.62" stroke-linejoin="round"/>
<path d="M218.5,443.5 217.5,443.7 216.8,443.3 215.3,441.2 213.8,439.9 212.2,438.3 211.5,437.0 211.2,435.8 211.3,434.5 212.6,430.8 214.6,426.8 215.8,425.5 217.0,425.0 220.0,425.4 220.8,425.3 222.5,424.5 223.2,424.6 224.5,424.9 226.2,424.5 227.0,424.7 229.5,426.2 230.5,426.3 231.5,426.2 232.8,425.6 233.8,424.4 235.5,424.4 236.5,424.0 239.5,420.8 241.7,419.8 243.2,418.2 244.0,417.8 248.8,417.0 251.0,417.3 252.1,418.0 252.4,418.8 252.8,421.4 253.2,422.1 254.4,423.0 254.4,423.8 253.6,424.5 251.0,425.3 250.0,425.9 246.5,430.7 245.5,431.2 243.2,431.4 242.2,431.7 237.0,436.0 235.5,436.8 231.8,438.3 229.7,440.2 228.2,441.2 225.0,441.8 222.0,443.0 218.5,443.5Z" fill="none" stroke="#2a2a2a" stroke-width="0.62" stroke-linejoin="round"/>
<path d="M219.8,441.5 218.2,441.7 217.2,441.3 216.0,439.8 213.4,437.5 212.8,436.8 212.5,435.8 212.6,434.2 213.4,432.0 216.0,427.4 216.8,426.6 217.5,426.3 218.2,426.3 220.8,426.7 222.8,426.7 225.0,427.2 227.0,426.9 229.2,427.8 231.2,427.5 233.2,427.6 237.6,425.5 240.0,422.6 240.8,422.2 243.0,421.4 244.2,420.0 245.0,419.5 247.0,418.9 248.0,418.8 249.0,419.3 249.9,420.2 250.5,422.0 250.4,423.5 248.6,425.5 247.0,428.2 245.8,429.5 244.5,430.0 242.2,429.7 241.5,429.9 238.5,432.2 237.0,433.9 236.0,434.4 234.8,434.8 234.0,434.9 233.5,434.6 233.1,433.8 232.8,431.8 232.5,431.5 232.0,431.6 230.7,432.5 229.1,434.2 228.9,435.2 229.2,437.0 228.5,438.8 227.8,439.8 226.5,440.4 224.2,440.7 222.0,441.3 219.8,441.5Z" fill="none" stroke="#2a2a2a" stroke-width="0.62" stroke-linejoin="round"/>
<path d="M244.8,428.3 243.8,428.1 242.2,426.9 240.5,426.3 240.3,425.5 240.6,424.8 241.4,424.0 243.2,423.6 246.2,422.1 247.2,421.8 248.0,421.9 248.4,422.8 248.2,423.8 246.1,427.2 245.5,427.9 244.8,428.3ZM237.0,430.1 236.5,430.2 236.0,429.9 235.7,429.0 235.8,428.5 236.8,427.8 237.9,427.8 238.3,428.2 238.2,428.9 237.8,429.6 237.0,430.1ZM223.8,439.5 222.2,439.5 218.5,439.2 215.8,437.8 215.0,437.0 214.3,436.0 214.0,434.5 214.4,433.0 217.1,429.0 218.2,428.1 219.8,427.9 223.2,428.6 224.5,429.3 227.2,431.8 227.2,432.5 226.6,435.0 226.7,437.2 226.6,438.2 226.3,438.8 225.8,439.1 223.8,439.5Z" fill="none" stroke="#2a2a2a" stroke-width="0.62" stroke-linejoin="round"/>
<path d="M245.2,426.1 244.5,426.2 243.8,426.0 243.5,425.8 243.6,425.2 244.8,423.9 245.5,423.6 246.2,423.6 246.6,424.0 246.5,424.5 246.0,425.3 245.2,426.1ZM224.2,438.5 222.8,438.6 220.5,438.1 218.0,437.8 216.8,437.2 216.1,436.5 215.6,435.0 215.7,433.8 217.8,430.1 218.8,429.2 220.2,428.9 222.8,429.4 224.2,430.3 225.6,431.8 225.9,432.8 225.5,435.2 225.5,437.3 225.2,438.0 224.2,438.5Z" fill="none" stroke="#2a2a2a" stroke-width="0.62" stroke-linejoin="round"/>
<path d="M223.5,437.8 222.5,437.8 218.5,437.1 217.6,436.8 217.0,436.1 216.8,434.8 217.1,433.2 218.1,431.0 219.2,429.9 220.8,429.6 222.5,430.1 223.8,430.8 224.9,432.0 225.1,433.2 224.6,436.8 224.2,437.4 223.5,437.8Z" fill="none" stroke="#2a2a2a" stroke-width="0.62" stroke-linejoin="round"/>
<path d="M223.0,437.1 219.0,436.6 218.2,436.2 217.7,435.8 217.5,434.5 217.9,432.8 218.6,431.2 219.5,430.5 220.5,430.2 222.0,430.5 223.2,431.2 224.2,432.2 224.5,433.5 224.1,435.8 223.8,436.6 223.0,437.1Z" fill="none" stroke="#2a2a2a" stroke-width="0.62" stroke-linejoin="round"/>
<path d="M222.5,436.5 219.2,436.2 218.5,435.8 218.1,435.2 218.0,434.2 218.3,432.8 219.0,431.5 219.8,430.9 220.8,430.7 222.0,431.0 223.0,431.6 223.7,432.5 223.9,433.8 223.7,435.2 223.2,436.1 222.5,436.5Z" fill="none" stroke="#2a2a2a" stroke-width="0.62" stroke-linejoin="round"/>
<path d="M222.5,436.0 221.8,436.2 220.2,436.1 219.3,435.8 218.7,435.2 218.4,434.2 218.5,433.2 219.0,432.2 219.8,431.5 220.5,431.2 221.5,431.3 222.4,431.8 223.1,432.5 223.5,433.5 223.4,434.5 223.1,435.5 222.5,436.0Z" fill="none" stroke="#2a2a2a" stroke-width="0.62" stroke-linejoin="round"/>
<path d="M222.0,435.8 221.0,435.8 220.0,435.7 219.2,435.3 218.9,434.8 218.7,434.0 219.0,433.0 219.4,432.2 220.0,431.8 220.8,431.6 221.8,431.8 222.4,432.2 222.9,433.0 223.1,433.8 223.0,434.8 222.5,435.5 222.0,435.8Z" fill="none" stroke="#2a2a2a" stroke-width="0.62" stroke-linejoin="round"/>
<path d="M221.5,435.5 220.0,435.4 219.5,435.0 219.2,434.5 219.1,433.8 219.3,433.0 220.2,432.1 221.5,432.1 222.1,432.5 222.6,433.2 222.8,434.0 222.6,434.8 222.2,435.2 221.5,435.5Z" fill="none" stroke="#2a2a2a" stroke-width="0.62" stroke-linejoin="round"/>
<path d="M221.5,435.3 220.2,435.2 219.5,434.5 219.4,434.0 219.5,433.3 220.2,432.5 220.8,432.3 221.5,432.5 222.3,433.2 222.5,433.8 222.4,434.5 222.0,435.0 221.5,435.3Z" fill="none" stroke="#2a2a2a" stroke-width="0.62" stroke-linejoin="round"/>
<path d="M221.2,435.1 220.2,434.9 219.7,434.2 219.8,433.2 220.5,432.7 221.5,432.8 222.1,433.5 222.1,434.5 221.2,435.1Z" fill="none" stroke="#2a2a2a" stroke-width="0.62" stroke-linejoin="round"/>
<path d="M221.2,434.8 220.5,434.8 220.0,434.2 220.0,433.5 220.5,433.0 221.2,433.0 221.8,433.5 221.9,434.2 221.2,434.8Z" fill="none" stroke="#2a2a2a" stroke-width="0.62" stroke-linejoin="round"/>
<path d="M221.2,434.6 220.8,434.6 220.3,434.2 220.2,433.7 220.8,433.2 221.2,433.2 221.7,433.8 221.6,434.2 221.2,434.6Z" fill="none" stroke="#2a2a2a" stroke-width="0.62" stroke-linejoin="round"/>
<path d="M226.90,416.70 L239.60,406.30 L254.60,405.50 L261.50,412.70 L262.70,427.10 L233.80,439.20Z" fill="none" stroke="#888" stroke-width="0.6" stroke-linejoin="round"/>
<use href="#one" transform="translate(256.32,399.00) scale(0.005127,-0.005127)" stroke="#000" stroke-width="81.9"/>
<text x="262.16" y="399.00" font-size="10.5" stroke="#000" stroke-width="0.42">8</text>
<path d="M326,448.0V364.5H409.5V448.0" fill="none" stroke="#b4b4b4" stroke-width="1"/>
<path d="M325.5,448.0H410.0" fill="none" stroke="#6e6e6e" stroke-width="1"/>
<path d="M324,431.9h2 M342.1,448.0v2 M324,415.9h2 M358.1,448.0v2 M324,399.8h2 M374.2,448.0v2 M324,383.8h2 M390.2,448.0v2 M324,367.7h2 M406.3,448.0v2 M329.2,448.0v1 M332.4,448.0v1 M335.6,448.0v1 M338.8,448.0v1 M342.1,448.0v1 M345.3,448.0v1 M348.5,448.0v1 M351.7,448.0v1 M354.9,448.0v1 M358.1,448.0v1 M361.3,448.0v1 M364.5,448.0v1 M367.8,448.0v1 M371.0,448.0v1 M374.2,448.0v1 M377.4,448.0v1 M380.6,448.0v1 M383.8,448.0v1 M387.0,448.0v1 M390.2,448.0v1 M393.4,448.0v1 M396.7,448.0v1 M399.9,448.0v1 M403.1,448.0v1 M406.3,448.0v1" stroke="#8a8a8a" stroke-width="0.8" fill="none"/>
<path d="M360.8,440.8 359.2,440.5 355.8,439.0 353.2,438.5 350.0,437.5 348.0,437.4 347.0,437.0 346.4,436.2 345.9,435.2 345.3,432.5 343.6,430.5 342.8,429.0 341.2,426.8 340.8,426.0 340.7,424.0 340.2,422.0 340.2,419.8 340.4,419.0 341.2,418.1 343.5,417.0 344.2,416.2 344.6,414.2 345.4,412.5 345.0,410.2 345.2,409.5 346.2,408.8 349.6,407.2 349.8,405.2 351.8,403.4 352.2,402.2 352.2,401.2 351.5,399.0 351.7,397.2 351.5,396.8 350.7,396.0 348.2,394.5 346.2,391.8 345.5,390.5 345.2,389.5 345.2,388.5 346.2,386.2 347.5,384.4 349.8,382.5 353.0,381.8 355.2,380.4 356.2,380.0 357.5,380.0 360.0,380.6 361.0,380.6 364.0,379.6 368.5,378.9 372.5,377.6 375.2,377.1 378.5,376.0 379.5,375.9 381.8,376.3 383.2,376.3 387.5,374.8 392.2,375.4 395.0,375.5 396.5,375.9 397.7,377.0 399.0,379.7 400.8,381.7 401.6,383.2 402.1,385.0 402.2,388.0 402.7,389.8 402.4,390.8 401.8,391.9 399.2,394.1 398.0,395.8 397.8,396.8 398.2,398.2 398.1,399.0 397.8,399.3 396.5,399.6 396.0,400.2 396.0,400.8 396.4,401.5 398.0,403.1 399.2,404.0 399.5,404.8 398.7,408.0 397.6,410.8 397.8,411.5 398.7,412.2 398.8,412.8 398.6,413.2 397.4,414.2 397.0,415.0 396.8,416.0 397.0,418.2 395.8,420.7 395.2,423.5 393.0,426.4 390.6,427.5 390.2,428.2 390.1,429.8 389.8,430.5 386.7,433.8 385.2,434.4 383.8,434.8 380.8,434.0 379.8,434.0 379.0,434.5 378.9,435.0 380.2,436.2 380.6,437.0 380.4,437.5 379.8,437.9 378.5,438.3 377.8,438.0 377.4,437.2 377.4,435.8 377.0,435.5 376.5,435.5 375.5,436.0 372.8,438.1 371.5,439.8 370.8,440.4 370.0,440.5 369.5,440.4 368.0,438.9 366.8,438.5 366.0,438.6 364.2,439.5 362.5,439.6 361.5,440.5 360.8,440.8Z" fill="none" stroke="#2a2a2a" stroke-width="0.62" stroke-linejoin="round"/>
<path d="M364.0,435.6 363.0,435.7 361.0,435.2 360.5,434.8 359.8,433.3 359.2,433.0 358.0,432.9 355.5,433.2 351.7,432.8 350.9,432.0 350.8,430.5 350.5,429.9 349.8,429.4 348.0,428.8 347.6,428.2 347.6,427.5 348.2,425.2 348.3,423.0 348.1,421.8 347.4,420.0 347.7,418.8 348.2,417.9 351.0,415.3 352.3,412.8 354.2,410.6 355.1,408.0 357.5,406.4 357.9,405.8 358.1,404.8 357.9,402.8 357.0,401.2 356.6,399.5 355.5,397.5 355.5,396.5 355.8,395.0 355.6,394.2 355.2,393.8 354.2,393.4 352.0,393.4 351.2,393.3 349.2,392.1 348.3,391.0 347.7,389.8 347.5,388.5 347.8,387.4 348.5,386.5 351.0,384.7 352.8,383.9 354.8,382.6 356.5,381.9 360.2,382.0 364.0,381.1 370.0,380.5 374.8,379.5 377.5,378.6 381.2,378.4 385.2,377.6 388.0,376.8 389.5,376.8 393.0,377.2 395.0,377.2 395.8,377.4 396.5,378.5 396.8,380.8 397.1,381.5 398.9,383.5 399.2,384.0 399.1,385.8 399.6,388.0 399.4,389.2 398.5,390.8 396.2,393.5 395.5,394.1 394.5,394.4 393.0,394.7 390.5,394.2 389.8,394.5 389.3,395.2 388.9,398.0 389.0,398.5 390.4,400.8 390.6,401.8 390.6,404.2 391.9,407.0 392.9,410.2 392.7,414.2 393.4,417.2 393.0,418.5 392.4,419.2 386.6,424.2 385.8,427.0 384.8,428.1 384.2,428.2 384.0,428.0 383.2,426.5 382.5,425.7 381.8,425.3 381.0,425.4 380.0,426.2 378.5,429.4 377.8,429.8 375.8,430.1 374.8,430.5 374.2,431.1 373.5,432.6 372.8,433.2 371.8,433.5 368.2,433.8 365.6,434.8 364.0,435.6ZM366.3,402.8 368.5,401.4 369.8,400.9 370.8,401.0 372.8,401.5 373.5,401.4 374.2,400.6 374.8,398.5 375.2,398.0 375.8,397.8 376.8,397.9 378.5,399.2 380.2,400.0 380.8,400.0 381.2,399.5 381.3,398.0 381.5,397.3 382.7,396.0 382.4,395.0 381.9,394.2 381.2,393.8 379.0,393.2 377.0,392.0 376.0,392.0 374.2,392.4 371.2,391.1 370.2,391.1 364.8,394.5 364.5,395.0 364.1,396.5 363.4,398.0 363.3,399.2 364.8,402.4 365.5,402.9 366.3,402.8ZM385.8,403.2 386.2,402.2 386.2,399.2 385.6,398.2 384.5,397.7 384.4,398.2 385.0,401.0 385.0,403.2 385.2,403.5 385.8,403.2Z" fill="none" stroke="#2a2a2a" stroke-width="0.62" stroke-linejoin="round"/>
<path d="M367.0,432.3 365.8,432.3 363.8,432.0 360.8,431.0 357.8,431.0 356.5,430.8 355.6,430.2 353.9,428.5 351.2,427.2 350.6,426.5 350.5,425.6 351.0,423.6 350.9,421.2 351.3,420.2 352.8,418.5 353.5,418.2 355.2,417.9 356.0,417.3 356.4,416.5 356.7,415.0 356.0,413.5 356.0,412.8 357.2,410.1 358.8,408.3 359.5,407.0 360.0,403.8 360.5,402.2 360.5,401.2 360.2,400.2 358.0,396.8 357.4,394.5 356.8,393.4 356.0,392.7 354.2,391.9 351.5,391.7 350.2,391.1 349.5,390.5 349.1,389.8 348.9,388.8 349.1,388.0 350.3,386.8 353.5,384.7 354.6,383.5 356.5,382.8 360.0,382.8 364.0,381.8 370.0,381.5 378.0,379.7 381.0,379.5 383.5,378.8 386.2,378.6 389.0,378.0 395.2,378.1 395.7,378.5 395.9,379.0 395.8,381.0 396.7,384.0 397.0,388.2 396.6,389.2 396.1,390.0 394.8,391.7 393.9,392.2 392.8,392.5 389.2,392.4 387.0,393.2 386.0,393.2 384.2,392.2 382.0,391.8 380.5,391.3 377.8,389.9 373.0,389.3 370.5,388.7 369.5,388.8 368.0,390.0 367.0,390.4 365.5,390.6 363.2,390.3 362.2,390.4 360.6,391.5 359.5,392.8 359.3,393.5 359.3,394.0 359.6,394.8 361.1,396.5 361.5,400.0 362.9,401.8 363.8,404.3 364.5,405.1 368.0,406.1 370.2,407.3 371.0,407.5 371.5,407.3 372.0,406.9 373.2,404.6 374.0,404.3 375.0,404.4 376.0,404.9 377.6,406.2 378.0,407.0 378.5,408.7 378.8,408.9 379.2,409.1 380.5,408.5 381.6,406.8 382.2,406.2 383.0,405.8 386.2,405.0 388.2,403.8 388.5,403.9 388.8,404.4 389.2,406.2 390.1,408.0 391.4,411.8 391.2,414.0 390.0,417.8 389.2,419.0 387.5,420.8 386.5,421.4 383.2,422.3 382.2,421.9 380.2,420.5 379.5,420.5 377.4,423.0 376.5,425.6 374.4,427.8 373.5,428.4 371.5,429.5 370.0,431.2 367.0,432.3ZM380.2,417.5 380.5,416.8 380.3,416.2 380.0,416.1 379.7,416.5 379.5,417.2 379.8,417.6 380.2,417.5Z" fill="none" stroke="#2a2a2a" stroke-width="0.62" stroke-linejoin="round"/>
<path d="M391.8,390.8 390.2,390.9 386.0,390.6 381.2,389.3 380.2,388.7 378.8,387.5 378.0,387.2 375.5,387.8 371.5,387.4 370.0,387.4 368.8,387.7 366.5,388.6 362.5,388.7 360.2,389.4 356.5,390.0 351.8,390.1 350.8,389.5 350.5,388.8 350.7,388.0 351.3,387.2 355.6,384.8 355.6,384.5 354.9,384.0 356.2,383.6 358.0,383.5 358.9,383.8 357.7,384.2 357.0,384.8 357.8,385.5 359.0,385.8 360.9,385.2 361.8,384.5 361.7,384.0 361.3,383.8 359.8,383.5 360.8,383.4 363.5,382.7 370.2,382.3 380.5,380.5 383.8,379.7 386.8,379.6 391.8,378.8 394.8,378.8 395.2,379.0 394.5,380.0 394.4,380.8 395.6,385.2 395.5,387.5 394.9,388.8 394.0,389.8 393.0,390.4 391.8,390.8ZM371.3,384.0 372.2,383.5 372.2,383.2 371.9,383.0 370.2,382.8 369.5,383.0 369.3,383.2 369.8,383.8 371.3,384.0ZM384.2,415.1 383.8,415.0 383.3,414.5 382.4,412.0 382.8,408.5 383.1,407.8 383.8,407.2 384.8,407.0 386.0,407.0 386.8,407.3 387.3,408.0 388.6,411.2 388.7,412.5 388.3,413.2 387.7,413.8 384.2,415.1ZM362.0,412.6 361.5,412.6 361.2,412.0 361.8,409.8 362.0,407.5 362.4,412.0 362.0,412.6ZM360.5,429.0 358.6,429.0 357.2,428.5 354.6,426.8 354.2,426.2 353.9,425.5 354.1,422.5 354.5,422.1 356.0,421.6 356.7,421.0 358.3,416.8 358.9,415.8 359.8,415.0 360.8,414.5 363.0,414.7 364.1,414.5 368.2,412.4 368.8,412.5 369.8,413.9 370.5,414.3 371.2,414.2 373.0,413.2 373.5,413.1 373.9,414.0 374.2,417.0 373.5,419.0 373.5,420.2 373.3,420.8 372.5,421.2 371.8,421.0 371.2,420.3 370.9,419.0 370.2,418.7 369.8,418.8 369.2,419.2 368.8,420.6 368.7,422.2 369.1,423.8 369.8,424.6 371.2,425.2 371.4,425.5 371.3,426.0 370.2,426.5 368.0,426.8 366.0,426.8 363.8,427.4 362.8,427.7 361.2,428.8 360.5,429.0Z" fill="none" stroke="#2a2a2a" stroke-width="0.62" stroke-linejoin="round"/>
<path d="M393.2,379.3 393.0,379.4 392.8,379.2 393.2,379.3ZM392.2,379.9 389.8,379.8 392.8,379.3 393.0,379.5 392.2,379.9ZM388.5,380.0 388.3,380.0 388.5,380.0ZM391.5,389.8 387.2,389.9 386.0,389.7 384.5,389.0 382.8,387.7 380.5,386.5 379.0,386.0 376.0,386.4 373.8,386.3 370.8,386.6 365.8,387.7 360.5,388.1 358.2,387.7 356.0,388.7 353.5,389.1 351.8,389.0 351.5,388.7 351.4,388.2 351.9,387.5 353.5,386.7 354.8,386.3 356.0,386.4 358.2,387.1 364.5,385.1 368.0,385.0 371.0,385.4 372.5,385.2 373.8,384.8 375.2,383.5 376.0,383.2 377.5,383.1 380.0,383.3 380.8,383.2 381.3,382.5 381.3,381.8 381.0,381.5 379.8,381.2 384.0,380.2 386.8,380.2 387.0,380.2 386.4,380.8 386.5,381.0 387.0,381.3 390.0,381.3 392.2,380.6 393.0,381.1 393.5,381.8 394.5,385.0 394.5,386.8 394.1,387.8 393.3,388.8 392.5,389.3 391.5,389.8ZM377.0,381.8 376.3,381.8 377.0,381.8ZM376.0,382.0 375.0,382.2 374.6,382.0 376.0,382.0ZM365.2,383.0 364.4,383.0 365.2,383.0ZM386.0,412.4 385.2,412.4 384.8,411.5 384.9,409.5 385.5,409.0 386.0,409.2 386.4,410.0 386.4,411.8 386.0,412.4ZM367.2,417.3 366.2,417.4 366.0,417.2 365.9,416.8 366.5,415.8 367.5,415.5 368.0,415.8 368.2,416.5 367.8,417.0 367.2,417.3ZM360.5,427.6 359.5,427.6 358.2,427.3 357.0,426.8 356.2,426.3 355.8,425.2 356.3,423.8 357.0,423.0 358.0,422.4 363.2,420.3 364.2,420.1 365.2,420.6 365.9,421.2 366.0,422.0 364.5,425.2 363.6,426.0 360.5,427.6Z" fill="none" stroke="#2a2a2a" stroke-width="0.62" stroke-linejoin="round"/>
<path d="M383.8,380.8 383.4,380.8 383.8,380.8ZM387.5,389.3 386.0,389.0 385.0,388.2 384.6,387.5 384.6,386.0 384.1,385.2 383.5,384.9 381.3,384.5 382.6,384.0 384.2,382.5 385.0,382.2 389.0,382.5 392.0,382.0 392.5,382.1 393.0,383.0 393.1,384.2 392.8,385.0 391.8,385.6 391.5,386.2 391.5,388.0 391.2,388.4 390.5,388.9 387.5,389.3ZM377.8,385.5 376.0,385.7 374.7,385.5 376.0,384.5 376.8,384.2 378.2,384.2 381.2,384.8 377.8,385.5ZM366.2,387.0 361.5,387.2 361.0,387.0 364.5,386.2 366.2,386.0 369.3,386.2 366.2,387.0ZM354.8,388.3 353.2,388.4 352.0,388.0 353.8,387.3 355.2,387.1 356.7,387.5 354.8,388.3ZM360.8,426.6 359.5,426.7 358.1,426.2 357.3,425.5 357.1,424.8 357.5,424.0 358.2,423.4 359.8,422.6 361.0,422.4 361.8,422.6 362.2,423.0 362.8,424.5 362.5,425.2 362.1,425.8 360.8,426.6Z" fill="none" stroke="#2a2a2a" stroke-width="0.62" stroke-linejoin="round"/>
<path d="M387.5,388.8 386.5,388.6 385.6,388.0 385.4,387.2 385.5,385.5 385.0,384.8 384.2,384.2 384.2,384.0 385.0,383.3 385.8,383.0 389.5,383.1 392.0,382.8 392.3,383.0 392.2,383.2 390.5,383.7 390.2,384.0 390.6,386.5 390.3,387.8 389.5,388.3 387.5,388.8ZM354.5,387.8 354.2,387.8 354.5,387.8ZM360.8,425.8 360.0,426.0 359.0,425.7 358.4,425.2 358.4,424.5 358.9,424.0 359.8,423.6 360.5,423.5 361.0,423.7 361.5,424.2 361.6,424.8 361.4,425.2 360.8,425.8Z" fill="none" stroke="#2a2a2a" stroke-width="0.62" stroke-linejoin="round"/>
<path d="M388.0,388.3 387.0,388.3 386.2,387.8 386.0,387.0 386.2,385.2 385.8,384.5 385.2,384.0 385.6,383.8 386.5,383.5 388.0,383.6 389.7,385.8 389.9,386.8 389.6,387.5 389.0,388.0 388.0,388.3ZM360.0,425.3 359.5,425.0 359.6,424.8 360.2,424.6 360.5,425.0 360.0,425.3Z" fill="none" stroke="#2a2a2a" stroke-width="0.62" stroke-linejoin="round"/>
<path d="M388.5,387.8 387.2,387.9 386.8,387.6 386.5,387.2 386.8,386.1 387.5,385.3 388.5,385.5 389.3,386.2 389.4,386.8 389.2,387.2 388.5,387.8Z" fill="none" stroke="#2a2a2a" stroke-width="0.62" stroke-linejoin="round"/>
<path d="M388.2,387.5 387.5,387.6 387.0,387.2 387.0,386.7 387.5,386.1 388.2,386.1 388.8,386.5 388.9,387.0 388.2,387.5Z" fill="none" stroke="#2a2a2a" stroke-width="0.62" stroke-linejoin="round"/>
<path d="M388.0,387.3 387.5,387.0 387.8,386.6 388.4,386.8 388.4,387.0 388.0,387.3Z" fill="none" stroke="#2a2a2a" stroke-width="0.62" stroke-linejoin="round"/>
<path d="M371.5,364.5V448.0M326,405.5H409.5" stroke="#8c8c8c" stroke-width="1" fill="none"/>
<text x="328.00" y="376.00" font-size="10.5" text-anchor="start" font-weight="normal" stroke="#000" stroke-width="0.42" >7</text>
<text x="408.70" y="376.00" font-size="10.5" text-anchor="end" font-weight="normal" stroke="#000" stroke-width="0.42" >67</text>
<use href="#one" transform="translate(328.00,446.00) scale(0.005127,-0.005127)" stroke="#000" stroke-width="81.9"/>
<text x="333.84" y="446.00" font-size="10.5" stroke="#000" stroke-width="0.42">2</text>
<use href="#one" transform="translate(397.02,446.00) scale(0.005127,-0.005127)" stroke="#000" stroke-width="81.9"/>
<text x="402.86" y="446.00" font-size="10.5" stroke="#000" stroke-width="0.42">4</text>
<path d="M433.5,448.0V364.5H516.5V448.0" fill="none" stroke="#b4b4b4" stroke-width="1"/>
<path d="M433.0,448.0H517.0" fill="none" stroke="#6e6e6e" stroke-width="1"/>
<path d="M431.5,431.9h2 M449.5,448.0v2 M431.5,415.9h2 M465.4,448.0v2 M431.5,399.8h2 M481.4,448.0v2 M431.5,383.8h2 M497.3,448.0v2 M431.5,367.7h2 M513.3,448.0v2 M436.7,448.0v1 M439.9,448.0v1 M443.1,448.0v1 M446.3,448.0v1 M449.5,448.0v1 M452.7,448.0v1 M455.8,448.0v1 M459.0,448.0v1 M462.2,448.0v1 M465.4,448.0v1 M468.6,448.0v1 M471.8,448.0v1 M475.0,448.0v1 M478.2,448.0v1 M481.4,448.0v1 M484.6,448.0v1 M487.8,448.0v1 M491.0,448.0v1 M494.2,448.0v1 M497.3,448.0v1 M500.5,448.0v1 M503.7,448.0v1 M506.9,448.0v1 M510.1,448.0v1 M513.3,448.0v1" stroke="#8a8a8a" stroke-width="0.8" fill="none"/>
<path d="M460.0,444.8 459.0,444.9 458.0,444.6 454.8,442.3 453.8,441.5 453.0,440.0 452.1,436.2 452.4,433.2 453.0,431.5 453.6,430.8 455.2,429.4 457.0,427.3 458.5,426.1 460.0,425.2 463.2,423.9 466.2,423.4 468.8,422.5 471.0,422.4 472.5,420.8 474.8,419.5 475.6,418.2 476.2,417.6 477.2,417.2 479.5,417.0 480.2,416.8 480.8,416.2 481.8,414.9 482.5,414.2 486.4,412.5 488.8,410.9 489.8,410.9 491.5,411.5 493.0,411.3 494.5,411.4 495.0,411.2 496.2,410.5 497.0,410.4 498.1,410.8 498.2,412.2 498.8,412.7 499.3,412.5 499.8,411.2 500.0,411.1 501.2,411.4 502.2,412.1 503.3,414.2 503.4,415.0 503.2,415.8 502.7,416.5 501.3,418.0 500.4,420.0 499.8,420.4 498.0,421.0 497.5,421.5 497.2,424.0 496.8,425.0 495.2,427.5 494.5,428.3 493.0,429.1 491.2,430.4 489.0,431.5 486.0,434.8 481.5,437.2 476.5,441.1 475.8,441.3 473.8,441.1 471.5,442.2 469.1,442.5 466.8,443.1 464.3,443.2 462.2,444.5 460.0,444.8Z" fill="none" stroke="#2a2a2a" stroke-width="0.62" stroke-linejoin="round"/>
<path d="M459.8,441.8 458.8,441.8 458.0,441.5 456.3,440.0 456.0,439.2 455.5,437.2 454.9,435.8 454.8,434.2 455.3,432.5 457.0,430.0 458.0,429.1 461.5,426.8 463.0,426.0 464.2,425.8 465.2,426.0 466.8,426.8 467.8,427.0 471.5,425.8 473.2,424.5 474.5,422.6 476.2,422.0 477.1,421.5 478.3,419.8 478.9,419.2 481.2,418.4 483.5,416.8 487.5,415.3 488.2,415.1 490.2,415.3 493.0,414.6 494.0,414.6 495.0,415.1 496.9,417.0 497.2,417.5 497.2,418.2 495.9,420.5 495.3,423.2 494.8,424.4 493.1,426.2 491.8,427.5 487.8,429.8 487.0,430.6 485.8,432.5 485.0,433.2 481.5,434.7 480.5,434.8 478.8,434.4 477.0,435.9 471.5,437.9 470.1,440.0 469.0,440.6 466.5,441.0 464.2,440.7 459.8,441.8Z" fill="none" stroke="#2a2a2a" stroke-width="0.62" stroke-linejoin="round"/>
<path d="M461.2,440.3 459.5,440.4 458.5,440.2 457.5,439.2 457.1,438.0 456.7,435.0 457.1,433.0 457.8,431.2 459.2,429.9 463.0,427.8 464.0,427.5 465.0,427.7 467.2,428.8 468.5,428.8 470.0,427.9 471.8,427.2 473.8,425.9 475.7,425.0 476.7,423.8 478.8,422.3 480.0,421.0 482.2,419.8 484.5,418.0 485.8,417.5 488.0,417.1 491.5,417.4 492.5,417.7 493.8,418.8 494.1,419.8 494.0,422.2 493.7,423.2 492.9,424.5 491.2,426.2 488.8,427.4 487.8,428.1 485.9,429.8 484.6,431.5 484.0,432.0 482.5,432.4 479.2,432.3 478.2,432.5 477.5,432.8 476.2,434.1 475.5,434.3 474.5,434.1 473.2,433.1 472.5,433.0 472.0,433.5 472.2,435.2 470.2,436.9 468.8,439.1 468.0,439.4 467.2,439.5 464.8,439.0 462.5,440.0 461.2,440.3Z" fill="none" stroke="#2a2a2a" stroke-width="0.62" stroke-linejoin="round"/>
<path d="M478.0,430.5 476.8,430.5 475.5,429.8 474.9,429.0 475.1,428.2 475.7,427.8 478.3,426.5 480.0,424.3 482.8,422.3 485.5,419.7 486.2,419.2 487.2,419.1 490.2,419.8 491.0,420.2 491.4,421.2 491.0,422.6 489.5,423.8 488.1,425.5 486.5,426.9 481.8,429.6 478.0,430.5ZM461.5,439.0 459.8,438.8 459.2,438.5 458.8,438.0 458.4,435.2 458.7,433.2 459.6,431.5 460.8,430.4 462.5,429.9 464.5,429.9 465.8,430.7 466.4,431.8 467.1,434.5 467.1,436.5 466.5,437.1 464.8,437.2 464.0,437.4 462.5,438.7 461.5,439.0Z" fill="none" stroke="#2a2a2a" stroke-width="0.62" stroke-linejoin="round"/>
<path d="M480.5,428.5 479.5,428.4 479.2,428.0 480.1,426.2 480.9,425.2 483.3,423.8 485.0,421.8 486.0,421.0 487.5,420.8 488.8,421.2 489.0,421.8 488.9,422.2 487.8,424.0 487.0,425.0 485.0,426.4 482.2,427.9 480.5,428.5ZM462.0,437.8 461.0,438.0 460.0,437.5 459.5,436.5 459.4,435.0 459.7,433.5 460.5,431.9 461.5,431.1 462.5,431.0 463.8,431.3 464.6,432.0 465.0,433.0 465.2,434.2 464.8,435.5 462.0,437.8Z" fill="none" stroke="#2a2a2a" stroke-width="0.62" stroke-linejoin="round"/>
<path d="M482.2,426.8 481.8,426.7 481.6,426.5 482.0,425.8 484.3,424.0 485.8,422.5 486.5,422.3 487.0,422.5 487.0,423.2 486.3,424.2 483.8,426.1 482.2,426.8ZM461.2,437.0 460.7,436.8 460.2,436.1 460.1,435.2 460.3,434.2 460.7,433.0 461.2,432.3 462.0,431.9 462.8,432.0 463.5,432.4 464.0,433.0 464.3,433.8 464.2,434.5 463.8,435.2 462.5,436.4 461.8,436.9 461.2,437.0Z" fill="none" stroke="#2a2a2a" stroke-width="0.62" stroke-linejoin="round"/>
<path d="M461.8,436.0 461.2,436.0 461.0,435.7 460.8,435.2 460.9,434.5 461.5,433.2 462.0,432.9 462.5,432.8 463.0,433.0 463.5,433.5 463.6,434.5 463.0,435.3 461.8,436.0Z" fill="none" stroke="#2a2a2a" stroke-width="0.62" stroke-linejoin="round"/>
<path d="M462.0,435.3 461.6,435.0 461.6,434.2 462.0,433.7 462.8,433.7 463.1,434.0 463.1,434.5 462.8,435.0 462.0,435.3Z" fill="none" stroke="#2a2a2a" stroke-width="0.62" stroke-linejoin="round"/>
<path d="M462.5,434.7 462.1,434.5 462.5,434.2 462.7,434.5 462.5,434.7Z" fill="none" stroke="#2a2a2a" stroke-width="0.62" stroke-linejoin="round"/>
<path d="M466.90,416.70 L479.60,406.30 L494.60,405.50 L501.50,412.70 L502.70,427.10 L473.80,439.20Z" fill="none" stroke="#888" stroke-width="0.6" stroke-linejoin="round"/>
<ellipse cx="0" cy="0" rx="3.2" ry="2.6" transform="translate(462.5,434.5) rotate(-40)" fill="none" stroke="#222" stroke-width="0.9"/>
<text x="508.00" y="399.00" font-size="10.5" text-anchor="end" font-weight="normal" stroke="#000" stroke-width="0.42" >30</text>
<text x="131.80" y="498.30" font-size="10.8" text-anchor="middle" font-weight="normal" stroke="#000" stroke-width="0.42" >NS</text>
<text x="237.00" y="498.30" font-size="10.8" text-anchor="middle" font-weight="normal" stroke="#000" stroke-width="0.42" >NS</text>
<path d="M326,536.5V453.5H409.5V536.5" fill="none" stroke="#b4b4b4" stroke-width="1"/>
<path d="M325.5,536.5H410.0" fill="none" stroke="#6e6e6e" stroke-width="1"/>
<path d="M324,520.5h2 M342.1,536.5v2 M324,504.6h2 M358.1,536.5v2 M324,488.6h2 M374.2,536.5v2 M324,472.7h2 M390.2,536.5v2 M324,456.7h2 M406.3,536.5v2 M329.2,536.5v1 M332.4,536.5v1 M335.6,536.5v1 M338.8,536.5v1 M342.1,536.5v1 M345.3,536.5v1 M348.5,536.5v1 M351.7,536.5v1 M354.9,536.5v1 M358.1,536.5v1 M361.3,536.5v1 M364.5,536.5v1 M367.8,536.5v1 M371.0,536.5v1 M374.2,536.5v1 M377.4,536.5v1 M380.6,536.5v1 M383.8,536.5v1 M387.0,536.5v1 M390.2,536.5v1 M393.4,536.5v1 M396.7,536.5v1 M399.9,536.5v1 M403.1,536.5v1 M406.3,536.5v1" stroke="#8a8a8a" stroke-width="0.8" fill="none"/>
<path d="M389.0,524.0 388.2,524.2 387.5,523.9 386.0,522.5 384.8,520.9 382.5,520.8 382.0,520.5 381.4,519.5 381.0,517.9 379.6,516.0 379.4,515.0 379.2,512.6 378.9,511.8 378.2,511.1 377.2,510.8 375.2,511.0 374.7,510.8 373.5,509.5 372.5,509.1 371.8,509.2 370.5,510.2 369.8,510.5 366.8,510.2 366.0,509.9 365.2,509.2 364.8,508.5 364.6,507.5 365.0,506.5 366.0,505.7 368.8,505.0 370.5,504.1 372.4,503.5 373.4,503.0 374.2,502.1 375.4,500.0 376.2,495.5 376.5,492.8 377.0,492.1 378.5,491.2 378.7,490.5 378.4,489.0 378.2,486.5 376.9,484.2 376.5,481.5 375.2,478.8 375.0,477.5 375.3,476.8 377.1,474.5 377.7,472.5 378.8,470.5 379.1,468.5 379.4,467.8 381.1,466.2 382.5,464.3 383.2,463.6 384.2,463.1 387.2,462.3 390.5,460.2 392.5,458.6 393.5,458.5 395.8,459.1 396.5,459.0 397.8,458.4 398.2,458.3 402.3,460.0 405.2,463.1 406.1,464.5 407.5,466.0 407.9,466.8 408.1,467.5 407.9,470.8 407.5,471.8 405.5,473.9 403.9,475.0 403.4,476.0 403.5,478.8 403.0,481.5 402.3,483.0 402.1,483.8 402.7,488.2 401.5,491.0 402.1,494.8 402.1,495.8 401.7,496.5 400.3,498.0 399.4,500.5 398.2,502.2 398.4,503.0 399.6,504.8 399.8,506.0 399.5,508.8 398.3,510.5 398.1,511.0 398.8,513.2 398.5,514.7 398.0,515.6 397.5,516.0 395.8,515.5 395.2,515.7 394.6,517.5 393.7,519.0 393.0,519.7 391.2,520.8 390.7,521.5 390.0,523.2 389.0,524.0Z" fill="none" stroke="#2a2a2a" stroke-width="0.62" stroke-linejoin="round"/>
<path d="M385.5,517.5 384.5,517.4 383.8,516.8 383.2,513.9 381.3,510.2 380.2,506.8 379.2,504.8 378.6,504.0 377.8,503.7 376.5,503.9 374.8,504.7 372.2,506.5 371.8,506.5 371.5,506.2 371.5,506.0 371.8,505.6 374.5,504.5 375.7,503.8 377.0,502.5 377.7,501.5 378.3,500.2 379.0,497.0 380.8,493.8 381.4,491.5 381.4,489.2 382.4,487.8 382.2,486.9 381.2,485.2 380.5,483.5 379.0,482.1 378.2,480.9 377.6,479.0 377.6,477.8 379.3,475.5 379.7,473.2 380.1,472.2 381.4,470.8 382.8,468.8 385.8,466.2 386.5,465.8 388.2,465.8 389.0,465.6 389.5,465.1 390.5,463.5 391.8,462.4 392.5,462.0 393.5,461.9 398.0,462.2 400.5,462.0 401.3,462.5 403.7,465.8 404.0,466.8 404.1,470.2 403.5,472.2 402.0,474.6 401.1,477.5 400.5,478.1 399.2,479.0 398.8,479.8 398.8,482.8 398.1,484.8 398.8,488.0 398.8,489.0 398.5,490.0 397.5,492.0 397.6,492.5 398.3,493.5 398.4,494.2 397.5,496.1 396.9,498.0 395.5,500.5 394.7,502.5 394.9,503.5 396.0,505.5 396.1,506.8 395.8,507.3 394.4,508.5 394.1,510.8 392.2,513.7 391.5,514.1 389.7,514.2 389.2,514.7 388.5,516.2 388.0,516.8 387.0,517.3 385.5,517.5ZM367.2,508.3 366.7,508.2 366.5,508.0 366.6,507.8 367.0,507.6 367.6,507.8 367.6,508.0 367.2,508.3Z" fill="none" stroke="#2a2a2a" stroke-width="0.62" stroke-linejoin="round"/>
<path d="M387.2,514.0 386.8,514.2 386.2,514.0 385.2,512.8 384.7,511.5 384.6,509.5 383.0,507.9 380.1,503.0 379.1,502.2 379.1,502.0 379.8,500.5 380.8,497.8 382.5,495.2 382.8,494.5 383.2,492.2 384.1,490.0 384.2,487.2 384.8,484.5 384.3,482.0 383.9,481.2 383.0,480.7 382.0,480.4 380.2,480.7 379.5,480.5 378.8,479.6 378.7,478.5 378.9,478.0 380.2,477.1 380.9,476.2 381.1,475.5 381.1,473.8 381.5,472.8 384.0,469.9 385.2,468.8 389.8,466.8 393.9,464.2 397.0,464.1 400.5,464.3 401.5,464.7 402.3,465.5 402.7,466.2 402.7,467.0 401.7,469.2 401.5,472.0 400.4,475.2 399.7,476.2 397.8,477.2 397.0,477.9 396.8,478.5 396.6,480.8 395.0,482.8 395.1,483.8 396.0,485.5 396.3,486.5 396.1,487.5 394.8,489.5 394.5,492.8 394.6,493.8 395.4,495.2 395.5,496.2 394.0,500.7 392.4,503.0 392.4,503.8 393.0,505.8 392.4,508.2 392.2,510.5 391.8,511.5 391.1,512.2 388.5,513.2 387.2,514.0Z" fill="none" stroke="#2a2a2a" stroke-width="0.62" stroke-linejoin="round"/>
<path d="M392.0,484.5 391.2,484.5 390.7,484.0 390.2,482.0 389.5,480.9 387.5,479.7 385.2,477.6 384.2,477.6 382.0,478.2 380.0,479.5 379.8,479.4 379.6,479.0 381.2,477.6 382.4,476.2 382.7,475.5 383.0,473.8 383.7,472.8 386.0,470.6 389.5,468.0 391.5,467.1 396.5,465.6 401.2,465.6 401.6,466.0 401.5,466.5 400.4,468.0 399.8,469.2 399.4,472.2 399.0,473.8 398.2,474.8 395.0,477.7 394.5,480.2 393.4,482.0 392.8,484.0 392.0,484.5ZM388.8,510.4 388.5,510.1 388.4,509.0 387.0,507.5 386.6,506.8 387.5,504.8 387.2,503.5 386.2,502.8 384.2,502.5 383.6,502.0 383.0,501.1 382.0,500.8 381.9,500.5 385.5,495.5 385.5,495.0 385.0,493.0 385.8,490.5 385.5,488.5 385.6,487.5 386.5,486.3 387.5,485.6 388.2,485.3 390.8,486.2 392.3,487.2 392.6,488.0 391.6,491.5 392.4,493.8 392.5,495.5 391.8,497.4 391.2,497.8 390.2,498.0 390.0,498.2 390.7,500.2 389.9,504.2 390.4,506.5 390.2,507.2 389.1,509.0 389.0,510.2 388.8,510.4Z" fill="none" stroke="#2a2a2a" stroke-width="0.62" stroke-linejoin="round"/>
<path d="M401.0,466.1 400.9,466.0 401.0,466.1ZM392.2,480.4 391.5,480.5 390.8,480.1 388.3,478.0 387.1,476.2 386.5,475.9 385.5,476.0 382.8,477.1 382.6,477.0 383.4,476.0 384.5,474.2 385.8,473.2 387.1,471.2 390.0,468.6 392.0,467.7 396.8,466.4 400.8,466.1 400.8,466.2 399.0,468.8 398.2,471.5 397.5,473.0 395.8,475.2 393.8,477.0 393.0,479.5 392.2,480.4ZM390.8,495.8 390.0,495.9 389.2,495.6 387.2,492.8 387.0,488.5 387.2,488.0 388.0,487.5 389.0,487.3 390.0,487.4 390.8,487.9 391.1,488.5 391.1,489.5 390.3,491.8 390.5,492.5 391.3,494.2 391.2,495.1 390.8,495.8ZM388.2,501.3 387.5,501.0 386.9,500.5 386.8,499.8 387.2,499.2 388.0,499.4 388.5,500.0 388.6,500.8 388.2,501.3Z" fill="none" stroke="#2a2a2a" stroke-width="0.62" stroke-linejoin="round"/>
<path d="M391.2,478.5 390.2,477.9 389.0,475.8 387.8,474.9 386.8,474.6 385.0,475.5 384.9,475.2 386.3,474.0 387.4,472.0 388.2,471.0 389.5,469.7 390.5,469.0 392.5,468.1 396.8,467.0 399.5,466.6 399.7,466.8 398.1,468.8 394.9,474.5 394.1,475.2 392.3,476.2 392.0,476.8 391.8,478.2 391.2,478.5ZM384.8,475.6 384.8,475.4 385.0,475.5 384.8,475.6ZM384.5,475.8 384.5,475.8ZM389.8,490.6 389.2,490.5 388.9,489.5 389.2,488.8 389.8,488.7 390.2,489.0 390.3,489.5 390.1,490.2 389.8,490.6Z" fill="none" stroke="#2a2a2a" stroke-width="0.62" stroke-linejoin="round"/>
<path d="M393.2,474.5 392.5,474.7 391.0,474.4 389.2,474.4 387.2,473.9 387.1,473.8 388.1,472.0 390.0,470.0 392.2,468.7 397.2,467.3 398.5,467.1 398.7,467.2 396.2,470.0 394.8,473.0 394.0,474.0 393.2,474.5Z" fill="none" stroke="#2a2a2a" stroke-width="0.62" stroke-linejoin="round"/>
<path d="M389.8,473.3 388.0,473.4 387.8,473.2 388.0,473.0 389.5,471.2 392.0,469.3 393.5,468.6 395.5,468.3 397.5,467.6 397.7,467.8 395.7,469.5 394.5,471.9 393.5,472.9 392.8,473.1 391.0,473.0 389.8,473.3Z" fill="none" stroke="#2a2a2a" stroke-width="0.62" stroke-linejoin="round"/>
<path d="M396.0,468.5 396.0,468.5ZM389.2,472.6 389.0,472.7 388.8,472.5 389.2,472.0 392.8,469.3 394.0,468.9 395.5,468.6 395.7,468.8 395.1,469.5 394.0,471.3 393.5,471.8 392.0,472.3 391.7,472.2 391.2,471.5 389.2,472.6Z" fill="none" stroke="#2a2a2a" stroke-width="0.62" stroke-linejoin="round"/>
<path d="M393.2,470.8 392.0,470.6 391.9,470.5 392.1,470.2 393.2,469.4 394.5,469.1 394.7,469.2 393.8,470.5 393.2,470.8Z" fill="none" stroke="#2a2a2a" stroke-width="0.62" stroke-linejoin="round"/>
<path d="M394.0,469.5 394.0,469.5ZM393.8,469.8 393.5,469.9 393.3,469.8 393.8,469.8ZM393.2,470.1 392.9,470.0 393.2,469.8 393.2,470.1Z" fill="none" stroke="#2a2a2a" stroke-width="0.62" stroke-linejoin="round"/>
<path d="M369.5,453.5V536.5M326,493.5H409.5" stroke="#8c8c8c" stroke-width="1" fill="none"/>
<text x="328.00" y="465.00" font-size="10.5" text-anchor="start" font-weight="normal" stroke="#000" stroke-width="0.42" >0</text>
<text x="407.70" y="465.00" font-size="10.5" text-anchor="end" font-weight="normal" stroke="#000" stroke-width="0.42" >72</text>
<text x="328.00" y="534.50" font-size="10.5" text-anchor="start" font-weight="normal" stroke="#000" stroke-width="0.42" >4</text>
<text x="407.70" y="534.50" font-size="10.5" text-anchor="end" font-weight="normal" stroke="#000" stroke-width="0.42" >24</text>
<path d="M433.5,536.5V453.5H516.5V536.5" fill="none" stroke="#b4b4b4" stroke-width="1"/>
<path d="M433.0,536.5H517.0" fill="none" stroke="#6e6e6e" stroke-width="1"/>
<path d="M431.5,520.5h2 M449.5,536.5v2 M431.5,504.6h2 M465.4,536.5v2 M431.5,488.6h2 M481.4,536.5v2 M431.5,472.7h2 M497.3,536.5v2 M431.5,456.7h2 M513.3,536.5v2 M436.7,536.5v1 M439.9,536.5v1 M443.1,536.5v1 M446.3,536.5v1 M449.5,536.5v1 M452.7,536.5v1 M455.8,536.5v1 M459.0,536.5v1 M462.2,536.5v1 M465.4,536.5v1 M468.6,536.5v1 M471.8,536.5v1 M475.0,536.5v1 M478.2,536.5v1 M481.4,536.5v1 M484.6,536.5v1 M487.8,536.5v1 M491.0,536.5v1 M494.2,536.5v1 M497.3,536.5v1 M500.5,536.5v1 M503.7,536.5v1 M506.9,536.5v1 M510.1,536.5v1 M513.3,536.5v1" stroke="#8a8a8a" stroke-width="0.8" fill="none"/>
<path d="M453.2,529.0 451.5,529.0 449.0,528.3 448.0,527.7 447.3,526.8 446.3,523.8 446.1,522.2 446.6,521.0 448.1,518.8 449.0,517.7 450.2,516.8 452.8,516.0 458.0,513.7 459.3,512.5 461.0,510.3 463.8,509.2 464.9,507.0 465.8,506.1 466.8,505.4 470.0,503.9 471.9,501.5 473.2,500.4 474.5,499.6 478.5,497.8 483.5,496.6 486.0,495.1 488.2,494.4 490.5,493.3 492.0,493.3 493.4,493.8 493.9,494.2 495.1,496.0 496.2,496.8 498.0,497.2 499.8,497.0 500.1,497.2 500.2,497.8 500.1,498.2 498.8,499.5 498.4,500.5 498.5,501.5 499.2,502.2 499.2,502.8 497.9,504.5 497.1,506.2 496.5,506.8 494.8,507.8 493.0,509.8 490.2,511.9 487.5,513.3 486.0,515.1 481.0,516.9 479.0,518.8 476.2,519.7 474.2,521.7 470.0,524.6 467.8,525.2 462.2,527.7 458.5,528.3 456.0,528.3 453.2,529.0Z" fill="none" stroke="#2a2a2a" stroke-width="0.62" stroke-linejoin="round"/>
<path d="M453.2,527.8 451.8,527.7 450.2,527.0 448.8,525.7 447.8,524.0 447.6,522.8 447.8,521.8 448.9,520.0 450.0,518.9 452.0,517.9 454.2,517.4 456.5,517.4 458.2,516.5 461.7,514.0 463.4,512.2 465.0,510.9 467.2,507.6 470.8,505.7 473.2,503.2 476.0,501.5 481.0,500.4 483.8,499.1 486.2,497.3 487.2,496.9 488.5,497.0 490.2,498.0 492.5,497.9 493.2,498.5 493.5,499.2 493.6,500.5 493.0,504.5 490.4,508.5 489.2,509.8 487.8,510.6 485.3,511.5 481.8,513.2 478.0,516.3 477.2,516.6 475.8,516.5 475.0,516.8 474.3,517.5 473.7,519.5 473.1,520.5 470.0,522.9 467.0,523.6 462.0,526.2 456.9,526.8 453.2,527.8Z" fill="none" stroke="#2a2a2a" stroke-width="0.62" stroke-linejoin="round"/>
<path d="M453.5,527.0 452.2,527.0 451.0,526.5 449.5,525.0 448.8,523.8 448.7,522.8 449.0,521.8 450.0,520.2 451.0,519.4 452.0,518.9 453.2,518.6 456.2,518.5 457.2,518.3 458.6,517.8 461.2,516.2 466.6,511.5 469.3,508.5 472.2,506.9 473.5,505.3 474.2,504.8 476.2,503.9 478.4,502.5 481.2,501.8 486.0,499.5 486.8,499.3 487.8,499.8 489.6,502.0 489.6,502.5 488.5,503.7 488.2,504.2 488.3,505.0 489.1,507.0 488.8,508.0 488.2,508.8 486.8,509.7 484.0,510.2 482.5,511.2 480.5,512.0 477.8,514.2 476.8,514.4 474.2,514.3 473.8,514.4 473.2,515.0 472.5,516.7 472.3,519.0 472.0,519.8 471.4,520.5 470.0,521.6 469.0,522.1 466.8,522.7 464.5,524.1 461.5,525.3 457.4,525.8 453.5,527.0Z" fill="none" stroke="#2a2a2a" stroke-width="0.62" stroke-linejoin="round"/>
<path d="M477.2,512.0 476.0,511.8 474.2,510.6 474.1,509.5 475.0,507.9 475.5,507.5 477.2,506.8 478.8,504.8 479.8,504.0 483.2,502.4 484.2,502.4 485.0,502.8 485.8,504.0 486.3,505.2 486.6,506.8 486.3,507.5 485.5,507.9 483.8,508.0 482.8,508.2 480.5,510.2 478.0,511.7 477.2,512.0ZM453.2,526.3 452.2,526.2 451.4,525.8 450.5,524.8 450.0,523.8 449.9,523.0 450.1,522.0 450.7,521.0 451.5,520.1 452.8,519.6 456.5,519.4 459.0,518.6 462.2,517.0 464.3,515.0 465.5,514.1 468.5,512.9 470.0,512.7 470.9,513.2 471.1,514.0 471.1,515.0 470.5,517.5 470.3,519.0 469.9,520.0 469.2,520.7 466.8,521.6 464.8,523.0 463.8,523.5 460.8,524.5 457.0,525.0 453.2,526.3Z" fill="none" stroke="#2a2a2a" stroke-width="0.62" stroke-linejoin="round"/>
<path d="M478.0,510.0 476.8,510.0 476.4,509.8 476.4,509.2 477.8,507.9 478.9,506.0 479.5,505.3 480.5,504.8 483.0,504.2 483.8,504.3 484.2,504.7 484.6,505.8 484.2,506.5 482.2,507.6 479.8,509.4 478.0,510.0ZM453.8,525.6 452.8,525.7 452.0,525.5 451.2,524.9 450.7,524.0 450.5,523.2 450.7,522.2 451.2,521.2 452.0,520.5 453.2,520.2 456.8,519.8 460.1,518.8 462.6,517.5 465.0,515.4 466.5,514.7 468.5,514.4 469.0,514.5 469.5,515.0 469.8,516.0 469.4,518.8 469.2,519.5 468.5,520.2 466.5,521.1 463.8,522.9 462.0,523.3 460.0,524.1 457.0,524.5 453.8,525.6Z" fill="none" stroke="#2a2a2a" stroke-width="0.62" stroke-linejoin="round"/>
<path d="M480.0,508.3 479.2,508.4 478.9,508.0 479.1,507.0 479.8,506.1 481.0,505.5 482.0,505.5 482.6,505.8 482.7,506.2 482.3,506.8 481.2,507.6 480.0,508.3ZM453.2,525.3 452.0,525.0 451.5,524.5 451.1,523.8 451.0,523.0 451.1,522.2 451.6,521.5 452.2,520.9 453.5,520.6 456.7,520.2 460.7,519.0 463.0,517.8 465.2,516.0 466.5,515.3 468.0,515.3 468.8,515.8 469.1,517.2 468.9,518.5 468.7,519.2 468.2,519.7 466.2,520.7 464.2,522.2 461.8,522.9 460.2,523.6 457.0,524.1 453.2,525.3Z" fill="none" stroke="#2a2a2a" stroke-width="0.62" stroke-linejoin="round"/>
<path d="M480.2,507.5 480.0,507.2 480.2,506.7 481.0,506.4 481.5,506.5 481.5,506.8 481.2,507.1 480.2,507.5ZM453.8,524.8 452.5,524.9 451.9,524.5 451.4,523.8 451.4,522.5 452.2,521.3 453.5,521.0 456.8,520.5 460.5,519.4 463.2,518.0 466.5,515.9 467.8,515.9 468.4,516.5 468.6,518.0 468.2,519.1 464.0,522.0 461.8,522.6 460.0,523.3 457.0,523.8 453.8,524.8Z" fill="none" stroke="#2a2a2a" stroke-width="0.62" stroke-linejoin="round"/>
<path d="M453.5,524.5 452.8,524.6 452.2,524.4 451.6,523.5 451.7,522.5 452.5,521.6 456.8,520.8 460.5,519.7 466.5,516.3 467.5,516.3 468.2,517.0 468.3,518.0 467.9,519.0 464.0,521.6 461.8,522.3 460.0,523.0 457.0,523.5 453.5,524.5Z" fill="none" stroke="#2a2a2a" stroke-width="0.62" stroke-linejoin="round"/>
<path d="M453.5,524.3 452.5,524.2 451.9,523.5 451.9,522.5 452.5,521.9 456.8,521.1 460.5,520.0 466.5,516.7 467.2,516.6 467.9,517.2 468.1,518.0 467.7,518.8 463.8,521.4 461.8,522.0 459.8,522.9 456.8,523.4 453.5,524.3Z" fill="none" stroke="#2a2a2a" stroke-width="0.62" stroke-linejoin="round"/>
<path d="M453.5,524.0 452.8,524.1 452.1,523.5 452.2,522.5 452.8,522.0 456.8,521.3 460.5,520.2 466.8,516.9 467.3,517.0 467.8,517.5 467.8,518.2 467.5,518.7 463.5,521.3 461.8,521.8 459.8,522.6 456.8,523.1 453.5,524.0Z" fill="none" stroke="#2a2a2a" stroke-width="0.62" stroke-linejoin="round"/>
<path d="M453.5,523.8 452.8,523.9 452.3,523.5 452.3,522.8 452.8,522.2 456.5,521.5 460.3,520.5 466.8,517.2 467.2,517.3 467.6,517.8 467.4,518.5 463.5,521.0 461.5,521.6 459.8,522.5 456.5,523.0 453.5,523.8Z" fill="none" stroke="#2a2a2a" stroke-width="0.62" stroke-linejoin="round"/>
<path d="M453.8,523.5 453.0,523.7 452.6,523.5 452.4,523.0 452.8,522.4 459.8,520.9 461.2,520.3 466.8,517.5 467.2,517.5 467.4,517.8 467.2,518.4 463.2,520.9 461.5,521.4 459.8,522.3 456.8,522.8 453.8,523.5Z" fill="none" stroke="#2a2a2a" stroke-width="0.62" stroke-linejoin="round"/>
<path d="M453.0,523.5 452.6,523.2 452.8,522.6 460.0,520.9 466.8,517.7 467.0,517.6 467.2,517.8 467.2,518.2 463.8,520.5 461.5,521.2 460.0,522.0 453.0,523.5Z" fill="none" stroke="#2a2a2a" stroke-width="0.62" stroke-linejoin="round"/>
<path d="M453.5,523.3 453.0,523.4 452.8,523.2 452.7,523.0 453.0,522.6 460.0,521.1 466.2,518.1 467.0,517.8 467.2,518.0 463.8,520.2 461.5,521.1 460.0,521.9 453.5,523.3Z" fill="none" stroke="#2a2a2a" stroke-width="0.62" stroke-linejoin="round"/>
<path d="M467.0,518.0 467.0,518.0ZM466.5,518.3 466.3,518.2 466.5,518.2 466.6,518.2 466.5,518.3ZM466.0,518.6 465.8,518.7 465.7,518.5 466.0,518.4 466.2,518.5 466.0,518.6ZM461.8,520.8 461.5,520.9 461.3,520.8 463.2,519.6 465.5,518.6 465.7,518.8 463.5,520.2 461.8,520.8ZM458.8,522.0 457.2,522.2 457.1,522.0 461.0,520.9 461.2,521.0 460.0,521.7 458.8,522.0ZM457.0,522.3 455.9,522.2 457.0,522.1 457.1,522.2 457.0,522.3ZM454.0,523.0 453.0,523.2 452.8,523.0 453.0,522.8 455.2,522.4 455.9,522.5 454.0,523.0Z" fill="none" stroke="#2a2a2a" stroke-width="0.62" stroke-linejoin="round"/>
<path d="M464.04,503.46 L473.85,494.23 L488.27,491.69 L498.31,497.69 L498.07,506.35 L478.46,523.08Z" fill="none" stroke="#888" stroke-width="0.6" stroke-linejoin="round"/>
<text x="507.50" y="484.60" font-size="10.5" text-anchor="end" font-weight="normal" stroke="#000" stroke-width="0.42" >39</text>
<text x="131.80" y="583.90" font-size="10.8" text-anchor="middle" font-weight="normal" stroke="#000" stroke-width="0.42" >NS</text>
<text x="237.00" y="582.50" font-size="10.8" text-anchor="middle" font-weight="normal" stroke="#000" stroke-width="0.42" >NS</text>
<path d="M326,625.5V542.0H409.5V625.5" fill="none" stroke="#b4b4b4" stroke-width="1"/>
<path d="M325.5,625.5H410.0" fill="none" stroke="#6e6e6e" stroke-width="1"/>
<path d="M324,609.4h2 M342.1,625.5v2 M324,593.4h2 M358.1,625.5v2 M324,577.3h2 M374.2,625.5v2 M324,561.3h2 M390.2,625.5v2 M324,545.2h2 M406.3,625.5v2 M329.2,625.5v1 M332.4,625.5v1 M335.6,625.5v1 M338.8,625.5v1 M342.1,625.5v1 M345.3,625.5v1 M348.5,625.5v1 M351.7,625.5v1 M354.9,625.5v1 M358.1,625.5v1 M361.3,625.5v1 M364.5,625.5v1 M367.8,625.5v1 M371.0,625.5v1 M374.2,625.5v1 M377.4,625.5v1 M380.6,625.5v1 M383.8,625.5v1 M387.0,625.5v1 M390.2,625.5v1 M393.4,625.5v1 M396.7,625.5v1 M399.9,625.5v1 M403.1,625.5v1 M406.3,625.5v1" stroke="#8a8a8a" stroke-width="0.8" fill="none"/>
<ellipse cx="0" cy="0" rx="2.8" ry="3.3" transform="translate(390.8,572.5) rotate(20)" fill="#222" fill-opacity="0.5"/>
<path d="M392.2,589.9 391.8,589.9 391.3,589.5 390.8,587.2 390.2,586.5 389.5,586.2 387.0,586.0 385.8,585.4 383.8,583.8 381.9,581.5 381.5,580.5 381.4,578.2 380.6,575.8 379.8,572.0 379.9,571.2 380.3,570.5 382.4,569.0 383.0,568.2 383.2,567.5 383.2,565.5 383.9,564.5 387.0,563.1 389.2,563.0 391.8,562.5 393.0,562.6 394.5,563.1 396.0,563.8 397.0,564.5 399.5,568.0 399.9,569.0 400.1,570.2 399.5,574.0 398.5,577.2 398.2,580.2 396.0,583.1 394.0,584.7 393.2,585.7 392.8,586.8 392.7,589.0 392.2,589.9Z" fill="none" stroke="#2a2a2a" stroke-width="0.62" stroke-linejoin="round"/>
<path d="M390.0,582.0 389.0,582.0 387.8,581.5 386.0,580.4 385.0,579.4 383.4,576.5 382.8,572.0 383.4,571.0 385.9,569.0 387.0,567.2 387.8,566.6 390.5,565.6 392.2,564.6 393.2,564.6 394.0,564.8 394.8,565.5 395.6,567.5 397.3,569.8 397.5,571.0 397.4,573.0 396.1,577.5 395.2,579.1 394.2,579.9 390.0,582.0Z" fill="none" stroke="#2a2a2a" stroke-width="0.62" stroke-linejoin="round"/>
<path d="M389.2,579.5 388.5,579.4 387.5,578.8 386.5,577.8 385.8,576.8 385.2,574.8 385.3,572.5 386.2,571.0 389.0,568.2 390.8,567.4 392.5,567.3 394.8,569.1 395.4,570.0 395.7,571.2 395.6,572.8 394.4,576.2 393.8,577.2 390.2,579.2 389.2,579.5Z" fill="none" stroke="#2a2a2a" stroke-width="0.62" stroke-linejoin="round"/>
<path d="M390.8,576.8 389.0,576.9 388.0,576.5 387.2,575.2 386.9,573.5 387.4,572.0 388.9,570.2 390.2,569.2 391.5,569.0 392.5,569.3 393.7,570.2 394.1,571.0 394.1,572.0 393.6,573.8 392.8,575.5 392.0,576.3 390.8,576.8Z" fill="none" stroke="#2a2a2a" stroke-width="0.62" stroke-linejoin="round"/>
<path d="M391.0,575.3 390.0,575.3 389.2,575.0 388.6,574.2 388.4,573.2 388.6,572.2 389.4,571.0 390.2,570.3 391.2,570.1 392.0,570.3 392.5,570.8 392.9,571.5 393.0,572.2 392.8,573.2 392.2,574.2 391.8,574.8 391.0,575.3Z" fill="none" stroke="#2a2a2a" stroke-width="0.62" stroke-linejoin="round"/>
<path d="M391.2,573.8 390.8,574.0 390.2,573.9 389.8,573.5 389.6,573.0 389.8,571.8 390.2,571.2 390.8,571.0 391.2,571.0 391.7,571.2 392.1,572.0 392.0,573.0 391.2,573.8Z" fill="none" stroke="#2a2a2a" stroke-width="0.62" stroke-linejoin="round"/>
<path d="M390.8,573.3 390.3,573.0 390.1,572.5 390.5,571.8 391.0,571.6 391.5,572.0 391.5,572.5 391.2,573.1 390.8,573.3Z" fill="none" stroke="#2a2a2a" stroke-width="0.62" stroke-linejoin="round"/>
<path d="M390.8,572.8 390.5,572.5 390.8,572.2 391.0,572.2 391.1,572.5 390.8,572.8Z" fill="none" stroke="#2a2a2a" stroke-width="0.62" stroke-linejoin="round"/>
<path d="M377.5,542.0V625.5M326,587.5H409.5" stroke="#8c8c8c" stroke-width="1" fill="none"/>
<use href="#one" transform="translate(328.00,553.50) scale(0.005127,-0.005127)" stroke="#000" stroke-width="81.9"/>
<text x="407.70" y="553.50" font-size="10.5" text-anchor="end" font-weight="normal" stroke="#000" stroke-width="0.42" >96</text>
<use href="#one" transform="translate(328.00,623.50) scale(0.005127,-0.005127)" stroke="#000" stroke-width="81.9"/>
<text x="407.70" y="623.50" font-size="10.5" text-anchor="end" font-weight="normal" stroke="#000" stroke-width="0.42" >2</text>
<path d="M433.5,625.5V542.0H516.5V625.5" fill="none" stroke="#b4b4b4" stroke-width="1"/>
<path d="M433.0,625.5H517.0" fill="none" stroke="#6e6e6e" stroke-width="1"/>
<path d="M431.5,609.4h2 M449.5,625.5v2 M431.5,593.4h2 M465.4,625.5v2 M431.5,577.3h2 M481.4,625.5v2 M431.5,561.3h2 M497.3,625.5v2 M431.5,545.2h2 M513.3,625.5v2 M436.7,625.5v1 M439.9,625.5v1 M443.1,625.5v1 M446.3,625.5v1 M449.5,625.5v1 M452.7,625.5v1 M455.8,625.5v1 M459.0,625.5v1 M462.2,625.5v1 M465.4,625.5v1 M468.6,625.5v1 M471.8,625.5v1 M475.0,625.5v1 M478.2,625.5v1 M481.4,625.5v1 M484.6,625.5v1 M487.8,625.5v1 M491.0,625.5v1 M494.2,625.5v1 M497.3,625.5v1 M500.5,625.5v1 M503.7,625.5v1 M506.9,625.5v1 M510.1,625.5v1 M513.3,625.5v1" stroke="#8a8a8a" stroke-width="0.8" fill="none"/>
<path d="M450.0,621.0 449.0,621.2 448.2,621.0 445.2,619.5 444.5,618.8 443.5,617.0 443.0,615.8 443.3,614.5 445.9,610.2 449.8,606.0 450.8,605.2 453.5,603.8 454.8,603.3 455.8,603.2 460.2,603.4 464.8,605.1 465.6,605.8 466.2,606.5 466.4,607.2 466.2,608.8 463.9,613.2 462.2,615.4 461.0,616.3 454.5,619.5 450.0,621.0Z" fill="none" stroke="#2a2a2a" stroke-width="0.62" stroke-linejoin="round"/>
<path d="M450.5,619.3 448.8,619.3 446.8,618.6 445.9,617.8 445.6,616.5 445.8,614.5 446.6,612.0 447.6,610.5 449.5,608.4 453.2,605.7 454.2,605.2 455.2,605.0 459.0,605.1 460.0,605.3 463.5,607.7 463.8,608.5 463.7,609.5 462.5,612.0 461.8,613.1 457.8,616.4 455.0,617.4 452.5,618.8 450.5,619.3Z" fill="none" stroke="#2a2a2a" stroke-width="0.62" stroke-linejoin="round"/>
<path d="M451.5,618.0 449.2,617.9 448.2,617.5 447.7,617.0 447.6,616.2 447.5,613.5 447.7,612.5 448.4,611.5 450.5,609.0 453.2,606.8 454.2,606.3 455.5,606.0 458.5,606.1 459.5,606.3 460.2,606.7 461.5,608.0 462.0,609.0 461.9,610.2 461.2,611.8 458.4,614.8 457.5,615.5 451.5,618.0Z" fill="none" stroke="#2a2a2a" stroke-width="0.62" stroke-linejoin="round"/>
<path d="M452.0,616.6 451.0,616.6 450.0,616.2 449.4,615.5 448.9,614.0 449.0,613.2 449.2,612.5 451.2,609.8 453.0,608.2 454.8,607.3 458.0,607.2 459.4,607.8 460.2,609.0 460.2,610.5 459.6,611.8 458.2,613.5 456.8,614.8 452.0,616.6Z" fill="none" stroke="#2a2a2a" stroke-width="0.62" stroke-linejoin="round"/>
<path d="M452.8,615.5 451.5,615.7 450.8,615.4 450.1,614.8 449.8,614.0 450.0,612.8 451.8,610.0 453.2,608.7 454.8,608.1 457.5,608.0 458.6,608.5 459.1,609.2 459.3,610.5 459.0,611.5 458.1,612.8 456.5,614.2 452.8,615.5Z" fill="none" stroke="#2a2a2a" stroke-width="0.62" stroke-linejoin="round"/>
<path d="M453.5,614.8 452.2,615.0 451.5,614.9 450.9,614.5 450.6,614.0 450.7,612.8 452.2,610.2 453.5,609.1 454.8,608.6 456.8,608.7 458.0,609.2 458.5,610.0 458.6,610.8 458.4,611.5 457.7,612.5 456.2,613.7 453.5,614.8Z" fill="none" stroke="#2a2a2a" stroke-width="0.62" stroke-linejoin="round"/>
<path d="M454.0,614.3 452.2,614.4 451.7,614.2 451.2,613.8 451.3,612.8 452.2,610.8 453.2,609.7 454.5,609.1 456.0,609.1 457.3,609.5 457.8,609.9 458.0,610.5 458.0,611.2 457.6,612.0 456.2,613.3 454.0,614.3Z" fill="none" stroke="#2a2a2a" stroke-width="0.62" stroke-linejoin="round"/>
<path d="M453.8,614.0 452.5,614.0 451.8,613.5 451.9,612.2 452.6,610.8 453.5,609.9 454.8,609.4 456.0,609.5 457.0,609.9 457.5,610.5 457.5,611.0 457.0,612.2 455.5,613.4 453.8,614.0Z" fill="none" stroke="#2a2a2a" stroke-width="0.62" stroke-linejoin="round"/>
<path d="M454.5,613.6 453.2,613.7 452.5,613.5 452.1,612.8 452.5,611.5 453.2,610.5 454.2,609.8 455.2,609.7 456.2,609.9 456.8,610.3 457.1,610.8 457.0,611.8 456.0,612.8 454.5,613.6Z" fill="none" stroke="#2a2a2a" stroke-width="0.62" stroke-linejoin="round"/>
<path d="M454.8,613.3 453.8,613.5 453.0,613.4 452.5,612.8 452.6,612.0 453.0,611.1 453.8,610.4 454.8,610.0 455.5,610.0 456.5,610.5 456.7,611.0 456.7,611.5 456.0,612.5 454.8,613.3Z" fill="none" stroke="#2a2a2a" stroke-width="0.62" stroke-linejoin="round"/>
<path d="M454.0,613.3 453.2,613.2 452.8,612.8 452.8,612.0 453.2,611.2 453.8,610.7 454.5,610.3 455.2,610.3 456.0,610.5 456.4,611.2 456.2,612.0 455.2,612.8 454.0,613.3Z" fill="none" stroke="#2a2a2a" stroke-width="0.62" stroke-linejoin="round"/>
<path d="M454.2,613.0 453.5,613.0 453.1,612.8 453.0,612.2 453.3,611.5 453.8,611.0 454.5,610.6 455.2,610.5 455.8,610.7 456.1,611.2 455.9,612.0 455.2,612.6 454.2,613.0Z" fill="none" stroke="#2a2a2a" stroke-width="0.62" stroke-linejoin="round"/>
<path d="M454.5,612.8 453.5,612.8 453.2,612.2 453.4,611.8 454.2,610.9 455.0,610.8 455.5,610.9 455.8,611.2 455.8,611.8 455.2,612.4 454.5,612.8Z" fill="none" stroke="#2a2a2a" stroke-width="0.62" stroke-linejoin="round"/>
<path d="M454.8,612.6 453.8,612.7 453.5,612.4 453.5,612.0 454.0,611.3 455.0,611.0 455.5,611.2 455.6,611.8 454.8,612.6Z" fill="none" stroke="#2a2a2a" stroke-width="0.62" stroke-linejoin="round"/>
<path d="M454.5,612.5 453.9,612.5 453.7,612.0 454.2,611.4 455.1,611.2 455.3,611.8 455.0,612.2 454.5,612.5Z" fill="none" stroke="#2a2a2a" stroke-width="0.62" stroke-linejoin="round"/>
<path d="M464.00,590.43 L475.34,581.46 L487.69,579.26 L497.00,585.69 L496.66,598.39 L477.54,611.42Z" fill="none" stroke="#888" stroke-width="0.6" stroke-linejoin="round"/>
<text x="506.00" y="583.10" font-size="10.5" text-anchor="end" font-weight="normal" stroke="#000" stroke-width="0.42" >0</text>
<defs><path id="one" d="M515,0V1237L197,1010V1180L530,1409H696V0Z"/></defs>
</svg>
</div></body></html>
